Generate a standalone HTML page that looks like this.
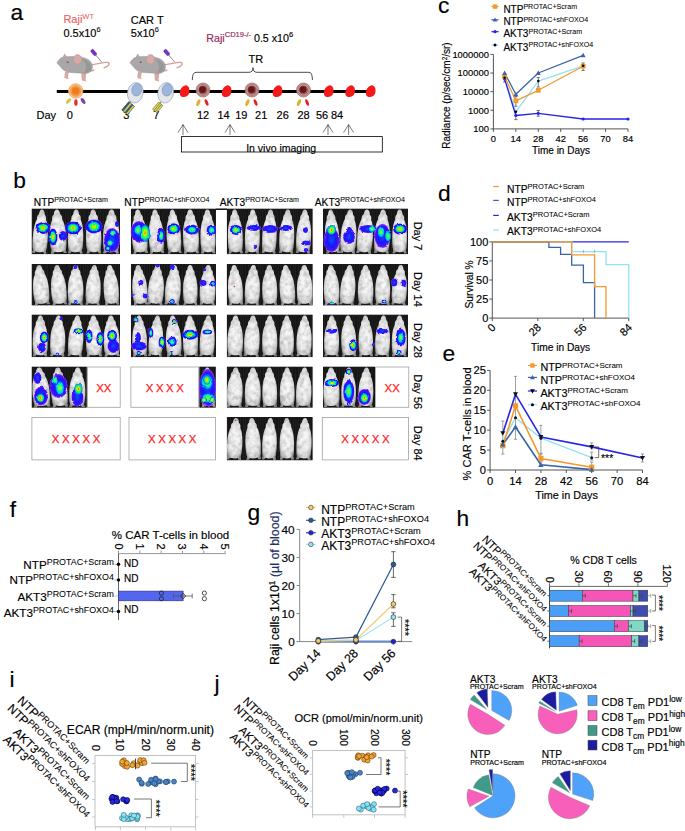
<!DOCTYPE html>
<html><head><meta charset="utf-8"><style>
html,body{margin:0;padding:0;background:#fff;width:685px;height:831px;overflow:hidden}
svg{display:block;font-family:"Liberation Sans",sans-serif}
text{stroke:#000;stroke-width:0.16px}
</style></head><body>
<svg width="685" height="831" viewBox="0 0 685 831">
<defs>
<radialGradient id="mouseg" cx="50%" cy="50%" r="60%">
 <stop offset="0" stop-color="#fafafa"/><stop offset="0.5" stop-color="#f0f0f0"/><stop offset="0.8" stop-color="#d8d8d8"/><stop offset="1" stop-color="#909090"/>
</radialGradient>
<radialGradient id="hot" cx="50%" cy="50%" r="50%">
 <stop offset="0" stop-color="#ff1800"/><stop offset="0.14" stop-color="#ffe000"/><stop offset="0.3" stop-color="#50ff20"/>
 <stop offset="0.5" stop-color="#00f090"/><stop offset="0.64" stop-color="#0080ff"/><stop offset="0.76" stop-color="#0a10ff"/><stop offset="0.92" stop-color="#3010f0"/><stop offset="1" stop-color="#8a30ff"/>
</radialGradient>
<radialGradient id="mid" cx="50%" cy="50%" r="50%">
 <stop offset="0" stop-color="#b0ff30"/><stop offset="0.25" stop-color="#20ff70"/><stop offset="0.45" stop-color="#00c8f0"/>
 <stop offset="0.65" stop-color="#1020ff"/><stop offset="0.88" stop-color="#3010f0"/><stop offset="1" stop-color="#8a30ff"/>
</radialGradient>
<radialGradient id="hoti" cx="50%" cy="50%" r="50%">
 <stop offset="0" stop-color="#ff1800"/><stop offset="0.18" stop-color="#ffe000"/><stop offset="0.4" stop-color="#50ff20"/>
 <stop offset="0.65" stop-color="#00e8a0"/><stop offset="0.85" stop-color="#0060ff" stop-opacity="0.8"/><stop offset="1" stop-color="#1020ff" stop-opacity="0"/>
</radialGradient>
<radialGradient id="midi" cx="50%" cy="50%" r="50%">
 <stop offset="0" stop-color="#b0ff30"/><stop offset="0.35" stop-color="#20ff70"/><stop offset="0.65" stop-color="#00c8f0"/>
 <stop offset="0.85" stop-color="#1040ff" stop-opacity="0.8"/><stop offset="1" stop-color="#1020ff" stop-opacity="0"/>
</radialGradient>
<radialGradient id="low" cx="50%" cy="50%" r="50%">
 <stop offset="0" stop-color="#1050ff"/><stop offset="0.55" stop-color="#1818ff"/><stop offset="0.85" stop-color="#4010f0"/><stop offset="1" stop-color="#9040ff"/>
</radialGradient>
<filter id="fur" x="-2%" y="-2%" width="104%" height="104%" color-interpolation-filters="sRGB">
 <feTurbulence type="fractalNoise" baseFrequency="0.22" numOctaves="2" seed="7" result="t"/>
 <feColorMatrix in="t" type="matrix" values="0.22 0.22 0.22 0 0.62  0.22 0.22 0.22 0 0.62  0.22 0.22 0.22 0 0.62  0 0 0 0 1" result="g"/>
 <feBlend in="SourceGraphic" in2="g" mode="multiply" result="m"/>
 <feComposite in="m" in2="SourceGraphic" operator="in"/>
</filter>
<filter id="rough" x="-20%" y="-20%" width="140%" height="140%">
 <feTurbulence type="fractalNoise" baseFrequency="0.25" numOctaves="2" seed="4" result="n"/>
 <feDisplacementMap in="SourceGraphic" in2="n" scale="2.6" xChannelSelector="R" yChannelSelector="G"/>
</filter>
<linearGradient id="bgstreak" x1="0" x2="1" y1="0" y2="0">
 <stop offset="0" stop-color="#1a1a1a"/><stop offset="0.5" stop-color="#2c2c2c"/><stop offset="1" stop-color="#1a1a1a"/>
</linearGradient>
</defs>
<rect x="0.00" y="0.00" width="685.00" height="831.00" fill="#fff" stroke="none" stroke-width="1" />
<text transform="translate(10.50,20.10) scale(1.06,1)" font-size="21.5" stroke="#000" stroke-width="0.15">a</text>
<text x="63.40" y="23.30" font-size="11" text-anchor="start" fill="#ee5f62" style="stroke:#ee5f62"><tspan>Raji</tspan><tspan dy="-4.62" font-size="7.5" style="stroke-width:0.06px">WT</tspan></text>
<text x="63.40" y="36.80" font-size="11" text-anchor="start" fill="#000"><tspan>0.5x10</tspan><tspan dy="-4.62" font-size="7.5" style="stroke-width:0.06px">6</tspan></text>
<text x="130.80" y="24.40" font-size="11" text-anchor="start" fill="#000" >CAR T</text>
<text x="130.80" y="36.80" font-size="11" text-anchor="start" fill="#000"><tspan>5x10</tspan><tspan dy="-4.62" font-size="7.5" style="stroke-width:0.06px">6</tspan></text>
<text x="206.3" y="41.5" font-size="10.7"><tspan fill="#952858" style="stroke:#952858">Raji</tspan><tspan dy="-4.6" font-size="7.5" fill="#952858" style="stroke:#952858">CD19-/-</tspan><tspan dy="4.6"> 0.5 x10</tspan><tspan dy="-4.6" font-size="7.5">6</tspan></text>
<g transform="translate(56,52)"><path d="M35 13 C42 12 48 10 52 10.5 C54.5 11 53.5 14 48 15.8" fill="none" stroke="#d6a09a" stroke-width="1.3" stroke-linecap="round"/><path d="M33 18 L38.6 17.6 L38.2 19 L33 20Z" fill="#d6a09a"/><path d="M9 19.5 L8.3 26 L13 27.2 L12 25.6 L12.8 20Z" fill="#d9a8a2"/><path d="M25.3 20 L25.8 28.5 L30.6 29.5 L29.6 27.8 L30.2 21Z" fill="#d9a8a2"/><path d="M1.1 10.6 C3 7 5 5.5 8 5 C12 4 16 4.5 19 4.5 C25 4.5 31 6 34 9 C36.5 11.5 37 15 36 17.5 C35 20 33 21 30 21.5 L14 20.5 C9 19.5 6.5 17.5 5 15.5 C3.5 13.5 1.5 12 1.1 10.6Z" fill="#a9a7a7" stroke="#8e8c8c" stroke-width="0.4"/><path d="M26 7 C32 8 36 12 35.5 17 C34 20 31 21 28 21 C31 17 31 11 26 7Z" fill="#989696"/><path d="M6.5 5.6 L8.6 1.5 L11.2 5.0Z" fill="#c9a09c"/><ellipse cx="21.5" cy="7.4" rx="4.3" ry="4.8" fill="#d6aaa6" stroke="#b08a86" stroke-width="0.4"/><ellipse cx="11.6" cy="10.1" rx="1.1" ry="0.7" fill="#5a3a3a"/><circle cx="1.6" cy="10.8" r="0.9" fill="#d9a0a0"/><path d="M39.3 2.5 L45.7 10.1" stroke="#444" stroke-width="0.6"/><rect x="34.3" y="-1.2" width="6.8" height="3.4" rx="1.4" fill="#7a30d0" stroke="#4a1890" stroke-width="0.4" transform="rotate(50 37.7 0.5)"/></g>
<g transform="translate(129,52)"><path d="M35 13 C42 12 48 10 52 10.5 C54.5 11 53.5 14 48 15.8" fill="none" stroke="#d6a09a" stroke-width="1.3" stroke-linecap="round"/><path d="M33 18 L38.6 17.6 L38.2 19 L33 20Z" fill="#d6a09a"/><path d="M9 19.5 L8.3 26 L13 27.2 L12 25.6 L12.8 20Z" fill="#d9a8a2"/><path d="M25.3 20 L25.8 28.5 L30.6 29.5 L29.6 27.8 L30.2 21Z" fill="#d9a8a2"/><path d="M1.1 10.6 C3 7 5 5.5 8 5 C12 4 16 4.5 19 4.5 C25 4.5 31 6 34 9 C36.5 11.5 37 15 36 17.5 C35 20 33 21 30 21.5 L14 20.5 C9 19.5 6.5 17.5 5 15.5 C3.5 13.5 1.5 12 1.1 10.6Z" fill="#a9a7a7" stroke="#8e8c8c" stroke-width="0.4"/><path d="M26 7 C32 8 36 12 35.5 17 C34 20 31 21 28 21 C31 17 31 11 26 7Z" fill="#989696"/><path d="M6.5 5.6 L8.6 1.5 L11.2 5.0Z" fill="#c9a09c"/><ellipse cx="21.5" cy="7.4" rx="4.3" ry="4.8" fill="#d6aaa6" stroke="#b08a86" stroke-width="0.4"/><ellipse cx="11.6" cy="10.1" rx="1.1" ry="0.7" fill="#5a3a3a"/><circle cx="1.6" cy="10.8" r="0.9" fill="#d9a0a0"/><path d="M39.3 2.5 L45.7 10.1" stroke="#444" stroke-width="0.6"/><rect x="34.3" y="-1.2" width="6.8" height="3.4" rx="1.4" fill="#7a30d0" stroke="#4a1890" stroke-width="0.4" transform="rotate(50 37.7 0.5)"/></g>
<line x1="56.80" y1="91.50" x2="369.00" y2="91.50" stroke="#000" stroke-width="2.8" />
<circle cx="75.70" cy="91.00" r="7.20" fill="#f8c690" stroke="#f0a060" stroke-width="0.8" />
<circle cx="75.70" cy="91.00" r="5.40" fill="#f5a050" stroke="#e89040" stroke-width="0.5" />
<circle cx="75.70" cy="91.00" r="3.80" fill="#f07c1c" stroke="none" stroke-width="1" />
<ellipse cx="68.5" cy="101.0" rx="1.7" ry="3.3" fill="#e0c040" transform="rotate(40 68.5 101.0)"/>
<ellipse cx="75.9" cy="102.6" rx="1.7" ry="3.3" fill="#e03030" transform="rotate(0 75.9 102.6)"/>
<ellipse cx="83.1" cy="101.0" rx="1.7" ry="3.3" fill="#8040b0" transform="rotate(-35 83.1 101.0)"/>
<ellipse cx="135.3" cy="92.8" rx="7.8" ry="10.3" fill="#e4e6ea" stroke="#8a9ab8" stroke-width="0.6" transform="rotate(12 135.3 92.8)"/>
<ellipse cx="136.10000000000002" cy="89.6" rx="5.0" ry="6.3" fill="#9db6dc" stroke="#7a90b8" stroke-width="0.5" transform="rotate(12 135.3 92.8)"/>
<line x1="130.80" y1="101.50" x2="128.80" y2="104.50" stroke="#444" stroke-width="0.6" />
<ellipse cx="165.7" cy="92.8" rx="7.8" ry="10.3" fill="#e4e6ea" stroke="#8a9ab8" stroke-width="0.6" transform="rotate(12 165.7 92.8)"/>
<ellipse cx="166.5" cy="89.6" rx="5.0" ry="6.3" fill="#9db6dc" stroke="#7a90b8" stroke-width="0.5" transform="rotate(12 165.7 92.8)"/>
<line x1="161.20" y1="101.50" x2="159.20" y2="104.50" stroke="#444" stroke-width="0.6" />
<path d="M186.1 85.2 C189.6 86 189.8 90 189.2 93 C188.2 97 182.6 98.5 180.3 95.5 C179.1 93 180.1 88 183.6 86 C184.6 85.4 185.4 85.2 186.1 85.2Z" fill="#f41a1a"/>
<path d="M228.1 85.2 C231.6 86 231.8 90 231.2 93 C230.2 97 224.6 98.5 222.3 95.5 C221.1 93 222.1 88 225.6 86 C226.6 85.4 227.4 85.2 228.1 85.2Z" fill="#f41a1a"/>
<path d="M279.0 85.2 C282.5 86 282.7 90 282.1 93 C281.1 97 275.5 98.5 273.2 95.5 C272.0 93 273.0 88 276.5 86 C277.5 85.4 278.3 85.2 279.0 85.2Z" fill="#f41a1a"/>
<path d="M330.2 85.2 C333.7 86 333.9 90 333.3 93 C332.3 97 326.7 98.5 324.4 95.5 C323.2 93 324.2 88 327.7 86 C328.7 85.4 329.5 85.2 330.2 85.2Z" fill="#f41a1a"/>
<path d="M351.6 85.2 C355.1 86 355.3 90 354.7 93 C353.7 97 348.1 98.5 345.8 95.5 C344.6 93 345.6 88 349.1 86 C350.1 85.4 350.9 85.2 351.6 85.2Z" fill="#f41a1a"/>
<path d="M372.2 85.2 C375.7 86 375.9 90 375.3 93 C374.3 97 368.7 98.5 366.4 95.5 C365.2 93 366.2 88 369.7 86 C370.7 85.4 371.5 85.2 372.2 85.2Z" fill="#f41a1a"/>
<circle cx="203.00" cy="90.00" r="7.00" fill="#c8a4a4" stroke="#8a5050" stroke-width="0.6" />
<circle cx="203.00" cy="90.00" r="5.60" fill="none" stroke="#9a6060" stroke-width="0.6" />
<circle cx="203.00" cy="90.00" r="4.60" fill="#a05858" stroke="none" stroke-width="1" />
<circle cx="202.50" cy="89.60" r="3.40" fill="#641818" stroke="none" stroke-width="1" />
<ellipse cx="198.4" cy="102.7" rx="1.7" ry="3.6" fill="#e0b030" transform="rotate(22 198.4 102.7)"/>
<ellipse cx="206.6" cy="102.5" rx="1.5" ry="3.5" fill="#e82020" transform="rotate(-22 206.6 102.5)"/>
<circle cx="252.00" cy="90.00" r="7.00" fill="#c8a4a4" stroke="#8a5050" stroke-width="0.6" />
<circle cx="252.00" cy="90.00" r="5.60" fill="none" stroke="#9a6060" stroke-width="0.6" />
<circle cx="252.00" cy="90.00" r="4.60" fill="#a05858" stroke="none" stroke-width="1" />
<circle cx="251.50" cy="89.60" r="3.40" fill="#641818" stroke="none" stroke-width="1" />
<ellipse cx="247.4" cy="102.7" rx="1.7" ry="3.6" fill="#e0b030" transform="rotate(22 247.4 102.7)"/>
<ellipse cx="255.6" cy="102.5" rx="1.5" ry="3.5" fill="#e82020" transform="rotate(-22 255.6 102.5)"/>
<circle cx="303.50" cy="90.00" r="7.00" fill="#c8a4a4" stroke="#8a5050" stroke-width="0.6" />
<circle cx="303.50" cy="90.00" r="5.60" fill="none" stroke="#9a6060" stroke-width="0.6" />
<circle cx="303.50" cy="90.00" r="4.60" fill="#a05858" stroke="none" stroke-width="1" />
<circle cx="303.00" cy="89.60" r="3.40" fill="#641818" stroke="none" stroke-width="1" />
<ellipse cx="298.9" cy="102.7" rx="1.7" ry="3.6" fill="#e0b030" transform="rotate(22 298.9 102.7)"/>
<ellipse cx="307.1" cy="102.5" rx="1.5" ry="3.5" fill="#e82020" transform="rotate(-22 307.1 102.5)"/>
<text x="36.50" y="118.50" font-size="11" text-anchor="start" fill="#000" >Day</text>
<text x="69.90" y="118.50" font-size="11" text-anchor="middle" fill="#000" >0</text>
<text x="126.40" y="118.50" font-size="11" text-anchor="middle" fill="#000" >3</text>
<text x="156.40" y="118.50" font-size="11" text-anchor="middle" fill="#000" >7</text>
<text x="203.00" y="118.50" font-size="11" text-anchor="middle" fill="#000" >12</text>
<text x="223.50" y="118.50" font-size="11" text-anchor="middle" fill="#000" >14</text>
<text x="241.30" y="118.50" font-size="11" text-anchor="middle" fill="#000" >19</text>
<text x="261.20" y="118.50" font-size="11" text-anchor="middle" fill="#000" >21</text>
<text x="282.70" y="118.50" font-size="11" text-anchor="middle" fill="#000" >26</text>
<text x="303.50" y="118.50" font-size="11" text-anchor="middle" fill="#000" >28</text>
<text x="322.00" y="118.50" font-size="11" text-anchor="middle" fill="#000" >56</text>
<text x="337.00" y="118.50" font-size="11" text-anchor="middle" fill="#000" >84</text>
<g transform="rotate(-50 128 108)"><rect x="122.5" y="104.5" width="11" height="7.5" fill="#d8c840"/><rect x="122.5" y="104.5" width="11" height="1.9" fill="#2f5a90"/><rect x="122.5" y="108.2" width="11" height="1.9" fill="#2f5a90"/><rect x="122.5" y="104.5" width="11" height="7.5" fill="none" stroke="#333" stroke-width="0.5"/></g>
<g transform="rotate(-50 157.5 107.5)"><rect x="153" y="104.8" width="9.5" height="5.6" fill="#e0d448"/><line x1="153" y1="106.7" x2="162.5" y2="106.7" stroke="#7a7a40" stroke-width="0.7"/><line x1="153" y1="108.5" x2="162.5" y2="108.5" stroke="#7a7a40" stroke-width="0.7"/><rect x="153" y="104.8" width="9.5" height="5.6" fill="none" stroke="#555" stroke-width="0.5"/></g>
<path d="M192.3 80 Q192.3 72.3 196 72.3 L249 72.3 Q253 72.3 253 67.7 Q253 72.3 257 72.3 L309 72.3 Q312.4 72.3 312.4 80" fill="none" stroke="#000" stroke-width="0.7" />
<text x="255.80" y="63.40" font-size="11" text-anchor="middle" fill="#000" >TR</text>
<path d="M178 132.6 L183 124.6 L188 132.6 M183 124.6 L183 135.0" fill="none" stroke="#222" stroke-width="0.6" />
<path d="M225 132.6 L230 124.6 L235 132.6 M230 124.6 L230 135.0" fill="none" stroke="#222" stroke-width="0.6" />
<path d="M323 132.6 L328 124.6 L333 132.6 M328 124.6 L328 135.0" fill="none" stroke="#222" stroke-width="0.6" />
<path d="M343.6 132.6 L348.6 124.6 L353.6 132.6 M348.6 124.6 L348.6 135.0" fill="none" stroke="#222" stroke-width="0.6" />
<rect x="181.50" y="136.60" width="200.80" height="15.40" fill="#fff" stroke="#000" stroke-width="0.8" />
<text x="281.20" y="151.60" font-size="10.5" text-anchor="middle" fill="#000" >In vivo imaging</text>
<text transform="translate(13.20,187.50) scale(1.06,1)" font-size="21.5" stroke="#000" stroke-width="0.15">b</text>
<text x="33.80" y="206.00" font-size="10.2" text-anchor="start" fill="#000"><tspan>NTP</tspan><tspan dy="-3.60" font-size="7.1" style="stroke-width:0.06px">PROTAC+Scram</tspan></text>
<text x="124.30" y="206.00" font-size="10.2" text-anchor="start" fill="#000"><tspan>NTP</tspan><tspan dy="-3.60" font-size="7.1" style="stroke-width:0.06px">PROTAC+shFOXO4</tspan></text>
<text x="219.70" y="206.00" font-size="10.2" text-anchor="start" fill="#000"><tspan>AKT3</tspan><tspan dy="-3.60" font-size="7.1" style="stroke-width:0.06px">PROTAC+Scram</tspan></text>
<text x="314.80" y="206.00" font-size="10.2" text-anchor="start" fill="#000"><tspan>AKT3</tspan><tspan dy="-3.60" font-size="7.1" style="stroke-width:0.06px">PROTAC+shFOXO4</tspan></text>
<clipPath id="cp1"><rect x="31.50" y="208.50" width="88.60" height="45.80"/></clipPath>
<g clip-path="url(#cp1)">
<rect x="31.50" y="208.50" width="88.60" height="45.80" fill="#151515" stroke="none" stroke-width="1" />
<line x1="32.74" y1="208.50" x2="32.74" y2="254.30" stroke="#262626" stroke-width="0.7" />
<line x1="35.54" y1="208.50" x2="35.54" y2="254.30" stroke="#262626" stroke-width="0.7" />
<line x1="37.87" y1="208.50" x2="37.87" y2="254.30" stroke="#262626" stroke-width="0.7" />
<line x1="40.60" y1="208.50" x2="40.60" y2="254.30" stroke="#262626" stroke-width="0.7" />
<line x1="43.13" y1="208.50" x2="43.13" y2="254.30" stroke="#262626" stroke-width="0.7" />
<line x1="45.07" y1="208.50" x2="45.07" y2="254.30" stroke="#262626" stroke-width="0.7" />
<line x1="47.51" y1="208.50" x2="47.51" y2="254.30" stroke="#262626" stroke-width="0.7" />
<line x1="50.84" y1="208.50" x2="50.84" y2="254.30" stroke="#262626" stroke-width="0.7" />
<line x1="52.76" y1="208.50" x2="52.76" y2="254.30" stroke="#262626" stroke-width="0.7" />
<line x1="55.23" y1="208.50" x2="55.23" y2="254.30" stroke="#262626" stroke-width="0.7" />
<line x1="58.50" y1="208.50" x2="58.50" y2="254.30" stroke="#262626" stroke-width="0.7" />
<line x1="60.47" y1="208.50" x2="60.47" y2="254.30" stroke="#262626" stroke-width="0.7" />
<line x1="63.34" y1="208.50" x2="63.34" y2="254.30" stroke="#262626" stroke-width="0.7" />
<line x1="65.48" y1="208.50" x2="65.48" y2="254.30" stroke="#262626" stroke-width="0.7" />
<line x1="68.14" y1="208.50" x2="68.14" y2="254.30" stroke="#262626" stroke-width="0.7" />
<line x1="70.15" y1="208.50" x2="70.15" y2="254.30" stroke="#262626" stroke-width="0.7" />
<line x1="73.13" y1="208.50" x2="73.13" y2="254.30" stroke="#262626" stroke-width="0.7" />
<line x1="75.87" y1="208.50" x2="75.87" y2="254.30" stroke="#262626" stroke-width="0.7" />
<line x1="78.02" y1="208.50" x2="78.02" y2="254.30" stroke="#262626" stroke-width="0.7" />
<line x1="80.74" y1="208.50" x2="80.74" y2="254.30" stroke="#262626" stroke-width="0.7" />
<line x1="83.17" y1="208.50" x2="83.17" y2="254.30" stroke="#262626" stroke-width="0.7" />
<line x1="85.06" y1="208.50" x2="85.06" y2="254.30" stroke="#262626" stroke-width="0.7" />
<line x1="88.26" y1="208.50" x2="88.26" y2="254.30" stroke="#262626" stroke-width="0.7" />
<line x1="90.59" y1="208.50" x2="90.59" y2="254.30" stroke="#262626" stroke-width="0.7" />
<line x1="92.80" y1="208.50" x2="92.80" y2="254.30" stroke="#262626" stroke-width="0.7" />
<line x1="95.03" y1="208.50" x2="95.03" y2="254.30" stroke="#262626" stroke-width="0.7" />
<line x1="98.37" y1="208.50" x2="98.37" y2="254.30" stroke="#262626" stroke-width="0.7" />
<line x1="100.47" y1="208.50" x2="100.47" y2="254.30" stroke="#262626" stroke-width="0.7" />
<line x1="103.22" y1="208.50" x2="103.22" y2="254.30" stroke="#262626" stroke-width="0.7" />
<line x1="105.88" y1="208.50" x2="105.88" y2="254.30" stroke="#262626" stroke-width="0.7" />
<line x1="108.21" y1="208.50" x2="108.21" y2="254.30" stroke="#262626" stroke-width="0.7" />
<line x1="110.92" y1="208.50" x2="110.92" y2="254.30" stroke="#262626" stroke-width="0.7" />
<line x1="112.89" y1="208.50" x2="112.89" y2="254.30" stroke="#262626" stroke-width="0.7" />
<line x1="115.80" y1="208.50" x2="115.80" y2="254.30" stroke="#262626" stroke-width="0.7" />
<line x1="117.94" y1="208.50" x2="117.94" y2="254.30" stroke="#262626" stroke-width="0.7" />
<g filter="url(#fur)">
<path d="M0.5 0.01 C0.6 0.01 0.66 0.05 0.68 0.12 C0.76 0.14 0.8 0.18 0.78 0.23 C0.88 0.3 0.95 0.42 0.96 0.58 C0.97 0.74 0.95 0.85 0.9 0.92 L0.94 0.99 L0.8 0.99 L0.74 0.95 C0.62 0.97 0.38 0.97 0.26 0.95 L0.2 0.99 L0.06 0.99 L0.1 0.92 C0.05 0.85 0.03 0.74 0.04 0.58 C0.05 0.42 0.12 0.3 0.22 0.23 C0.2 0.18 0.24 0.14 0.32 0.12 C0.34 0.05 0.4 0.01 0.5 0.01Z" fill="url(#mouseg)" transform="rotate(3.8 40.71 231.43) translate(32.65,209.10) scale(16.12,44.66)"/>
<path d="M0.5 0.01 C0.6 0.01 0.66 0.05 0.68 0.12 C0.76 0.14 0.8 0.18 0.78 0.23 C0.88 0.3 0.95 0.42 0.96 0.58 C0.97 0.74 0.95 0.85 0.9 0.92 L0.94 0.99 L0.8 0.99 L0.74 0.95 C0.62 0.97 0.38 0.97 0.26 0.95 L0.2 0.99 L0.06 0.99 L0.1 0.92 C0.05 0.85 0.03 0.74 0.04 0.58 C0.05 0.42 0.12 0.3 0.22 0.23 C0.2 0.18 0.24 0.14 0.32 0.12 C0.34 0.05 0.4 0.01 0.5 0.01Z" fill="url(#mouseg)" transform="rotate(-2.8 57.79 231.43) translate(48.96,209.10) scale(17.66,44.66)"/>
<path d="M0.5 0.01 C0.6 0.01 0.66 0.05 0.68 0.12 C0.76 0.14 0.8 0.18 0.78 0.23 C0.88 0.3 0.95 0.42 0.96 0.58 C0.97 0.74 0.95 0.85 0.9 0.92 L0.94 0.99 L0.8 0.99 L0.74 0.95 C0.62 0.97 0.38 0.97 0.26 0.95 L0.2 0.99 L0.06 0.99 L0.1 0.92 C0.05 0.85 0.03 0.74 0.04 0.58 C0.05 0.42 0.12 0.3 0.22 0.23 C0.2 0.18 0.24 0.14 0.32 0.12 C0.34 0.05 0.4 0.01 0.5 0.01Z" fill="url(#mouseg)" transform="rotate(1.3 75.75 231.43) translate(67.51,209.10) scale(16.48,44.66)"/>
<path d="M0.5 0.01 C0.6 0.01 0.66 0.05 0.68 0.12 C0.76 0.14 0.8 0.18 0.78 0.23 C0.88 0.3 0.95 0.42 0.96 0.58 C0.97 0.74 0.95 0.85 0.9 0.92 L0.94 0.99 L0.8 0.99 L0.74 0.95 C0.62 0.97 0.38 0.97 0.26 0.95 L0.2 0.99 L0.06 0.99 L0.1 0.92 C0.05 0.85 0.03 0.74 0.04 0.58 C0.05 0.42 0.12 0.3 0.22 0.23 C0.2 0.18 0.24 0.14 0.32 0.12 C0.34 0.05 0.4 0.01 0.5 0.01Z" fill="url(#mouseg)" transform="rotate(-1.1 93.53 231.43) translate(85.24,209.10) scale(16.57,44.66)"/>
<path d="M0.5 0.01 C0.6 0.01 0.66 0.05 0.68 0.12 C0.76 0.14 0.8 0.18 0.78 0.23 C0.88 0.3 0.95 0.42 0.96 0.58 C0.97 0.74 0.95 0.85 0.9 0.92 L0.94 0.99 L0.8 0.99 L0.74 0.95 C0.62 0.97 0.38 0.97 0.26 0.95 L0.2 0.99 L0.06 0.99 L0.1 0.92 C0.05 0.85 0.03 0.74 0.04 0.58 C0.05 0.42 0.12 0.3 0.22 0.23 C0.2 0.18 0.24 0.14 0.32 0.12 C0.34 0.05 0.4 0.01 0.5 0.01Z" fill="url(#mouseg)" transform="rotate(0.8 111.31 231.43) translate(102.53,209.10) scale(17.55,44.66)"/>
</g>
<g filter="url(#rough)">
<ellipse cx="43.00" cy="228.00" rx="7.50" ry="6.00" fill="url(#hot)"/>
<ellipse cx="53.00" cy="237.00" rx="4.50" ry="8.50" fill="url(#hot)"/>
<ellipse cx="63.00" cy="236.00" rx="4.20" ry="5.00" fill="url(#low)"/>
<ellipse cx="73.00" cy="228.00" rx="8.00" ry="6.50" fill="url(#hot)"/>
<ellipse cx="94.00" cy="226.50" rx="8.50" ry="7.00" fill="url(#hot)"/>
<ellipse cx="112.00" cy="240.00" rx="8.00" ry="12.00" fill="url(#low)"/>
<ellipse cx="113.00" cy="233.00" rx="3.50" ry="3.50" fill="url(#midi)"/>
<ellipse cx="110.00" cy="243.00" rx="3.50" ry="3.50" fill="url(#midi)"/>
<ellipse cx="107.90" cy="248.40" rx="3.00" ry="3.00" fill="url(#mid)"/>
<ellipse cx="117.00" cy="224.00" rx="2.00" ry="3.00" fill="url(#low)"/>
</g>
</g>
<clipPath id="cp2"><rect x="130.80" y="208.50" width="85.20" height="45.80"/></clipPath>
<g clip-path="url(#cp2)">
<rect x="130.80" y="208.50" width="85.20" height="45.80" fill="#151515" stroke="none" stroke-width="1" />
<line x1="132.48" y1="208.50" x2="132.48" y2="254.30" stroke="#262626" stroke-width="0.7" />
<line x1="135.23" y1="208.50" x2="135.23" y2="254.30" stroke="#262626" stroke-width="0.7" />
<line x1="137.66" y1="208.50" x2="137.66" y2="254.30" stroke="#262626" stroke-width="0.7" />
<line x1="140.29" y1="208.50" x2="140.29" y2="254.30" stroke="#262626" stroke-width="0.7" />
<line x1="142.47" y1="208.50" x2="142.47" y2="254.30" stroke="#262626" stroke-width="0.7" />
<line x1="144.46" y1="208.50" x2="144.46" y2="254.30" stroke="#262626" stroke-width="0.7" />
<line x1="147.66" y1="208.50" x2="147.66" y2="254.30" stroke="#262626" stroke-width="0.7" />
<line x1="150.26" y1="208.50" x2="150.26" y2="254.30" stroke="#262626" stroke-width="0.7" />
<line x1="152.70" y1="208.50" x2="152.70" y2="254.30" stroke="#262626" stroke-width="0.7" />
<line x1="154.87" y1="208.50" x2="154.87" y2="254.30" stroke="#262626" stroke-width="0.7" />
<line x1="157.51" y1="208.50" x2="157.51" y2="254.30" stroke="#262626" stroke-width="0.7" />
<line x1="159.51" y1="208.50" x2="159.51" y2="254.30" stroke="#262626" stroke-width="0.7" />
<line x1="162.63" y1="208.50" x2="162.63" y2="254.30" stroke="#262626" stroke-width="0.7" />
<line x1="164.87" y1="208.50" x2="164.87" y2="254.30" stroke="#262626" stroke-width="0.7" />
<line x1="167.08" y1="208.50" x2="167.08" y2="254.30" stroke="#262626" stroke-width="0.7" />
<line x1="169.36" y1="208.50" x2="169.36" y2="254.30" stroke="#262626" stroke-width="0.7" />
<line x1="172.65" y1="208.50" x2="172.65" y2="254.30" stroke="#262626" stroke-width="0.7" />
<line x1="175.29" y1="208.50" x2="175.29" y2="254.30" stroke="#262626" stroke-width="0.7" />
<line x1="176.89" y1="208.50" x2="176.89" y2="254.30" stroke="#262626" stroke-width="0.7" />
<line x1="180.10" y1="208.50" x2="180.10" y2="254.30" stroke="#262626" stroke-width="0.7" />
<line x1="182.21" y1="208.50" x2="182.21" y2="254.30" stroke="#262626" stroke-width="0.7" />
<line x1="184.45" y1="208.50" x2="184.45" y2="254.30" stroke="#262626" stroke-width="0.7" />
<line x1="187.09" y1="208.50" x2="187.09" y2="254.30" stroke="#262626" stroke-width="0.7" />
<line x1="190.07" y1="208.50" x2="190.07" y2="254.30" stroke="#262626" stroke-width="0.7" />
<line x1="192.67" y1="208.50" x2="192.67" y2="254.30" stroke="#262626" stroke-width="0.7" />
<line x1="194.34" y1="208.50" x2="194.34" y2="254.30" stroke="#262626" stroke-width="0.7" />
<line x1="197.41" y1="208.50" x2="197.41" y2="254.30" stroke="#262626" stroke-width="0.7" />
<line x1="199.34" y1="208.50" x2="199.34" y2="254.30" stroke="#262626" stroke-width="0.7" />
<line x1="202.52" y1="208.50" x2="202.52" y2="254.30" stroke="#262626" stroke-width="0.7" />
<line x1="204.63" y1="208.50" x2="204.63" y2="254.30" stroke="#262626" stroke-width="0.7" />
<line x1="207.68" y1="208.50" x2="207.68" y2="254.30" stroke="#262626" stroke-width="0.7" />
<line x1="210.28" y1="208.50" x2="210.28" y2="254.30" stroke="#262626" stroke-width="0.7" />
<line x1="212.31" y1="208.50" x2="212.31" y2="254.30" stroke="#262626" stroke-width="0.7" />
<line x1="215.30" y1="208.50" x2="215.30" y2="254.30" stroke="#262626" stroke-width="0.7" />
<g filter="url(#fur)">
<path d="M0.5 0.01 C0.6 0.01 0.66 0.05 0.68 0.12 C0.76 0.14 0.8 0.18 0.78 0.23 C0.88 0.3 0.95 0.42 0.96 0.58 C0.97 0.74 0.95 0.85 0.9 0.92 L0.94 0.99 L0.8 0.99 L0.74 0.95 C0.62 0.97 0.38 0.97 0.26 0.95 L0.2 0.99 L0.06 0.99 L0.1 0.92 C0.05 0.85 0.03 0.74 0.04 0.58 C0.05 0.42 0.12 0.3 0.22 0.23 C0.2 0.18 0.24 0.14 0.32 0.12 C0.34 0.05 0.4 0.01 0.5 0.01Z" fill="url(#mouseg)" transform="rotate(-4.2 139.17 231.43) translate(130.99,209.10) scale(16.36,44.66)"/>
<path d="M0.5 0.01 C0.6 0.01 0.66 0.05 0.68 0.12 C0.76 0.14 0.8 0.18 0.78 0.23 C0.88 0.3 0.95 0.42 0.96 0.58 C0.97 0.74 0.95 0.85 0.9 0.92 L0.94 0.99 L0.8 0.99 L0.74 0.95 C0.62 0.97 0.38 0.97 0.26 0.95 L0.2 0.99 L0.06 0.99 L0.1 0.92 C0.05 0.85 0.03 0.74 0.04 0.58 C0.05 0.42 0.12 0.3 0.22 0.23 C0.2 0.18 0.24 0.14 0.32 0.12 C0.34 0.05 0.4 0.01 0.5 0.01Z" fill="url(#mouseg)" transform="rotate(-3.0 155.99 231.43) translate(147.97,209.10) scale(16.03,44.66)"/>
<path d="M0.5 0.01 C0.6 0.01 0.66 0.05 0.68 0.12 C0.76 0.14 0.8 0.18 0.78 0.23 C0.88 0.3 0.95 0.42 0.96 0.58 C0.97 0.74 0.95 0.85 0.9 0.92 L0.94 0.99 L0.8 0.99 L0.74 0.95 C0.62 0.97 0.38 0.97 0.26 0.95 L0.2 0.99 L0.06 0.99 L0.1 0.92 C0.05 0.85 0.03 0.74 0.04 0.58 C0.05 0.42 0.12 0.3 0.22 0.23 C0.2 0.18 0.24 0.14 0.32 0.12 C0.34 0.05 0.4 0.01 0.5 0.01Z" fill="url(#mouseg)" transform="rotate(-3.4 173.49 231.43) translate(165.78,209.10) scale(15.41,44.66)"/>
<path d="M0.5 0.01 C0.6 0.01 0.66 0.05 0.68 0.12 C0.76 0.14 0.8 0.18 0.78 0.23 C0.88 0.3 0.95 0.42 0.96 0.58 C0.97 0.74 0.95 0.85 0.9 0.92 L0.94 0.99 L0.8 0.99 L0.74 0.95 C0.62 0.97 0.38 0.97 0.26 0.95 L0.2 0.99 L0.06 0.99 L0.1 0.92 C0.05 0.85 0.03 0.74 0.04 0.58 C0.05 0.42 0.12 0.3 0.22 0.23 C0.2 0.18 0.24 0.14 0.32 0.12 C0.34 0.05 0.4 0.01 0.5 0.01Z" fill="url(#mouseg)" transform="rotate(-1.9 190.73 231.43) translate(182.25,209.10) scale(16.97,44.66)"/>
<path d="M0.5 0.01 C0.6 0.01 0.66 0.05 0.68 0.12 C0.76 0.14 0.8 0.18 0.78 0.23 C0.88 0.3 0.95 0.42 0.96 0.58 C0.97 0.74 0.95 0.85 0.9 0.92 L0.94 0.99 L0.8 0.99 L0.74 0.95 C0.62 0.97 0.38 0.97 0.26 0.95 L0.2 0.99 L0.06 0.99 L0.1 0.92 C0.05 0.85 0.03 0.74 0.04 0.58 C0.05 0.42 0.12 0.3 0.22 0.23 C0.2 0.18 0.24 0.14 0.32 0.12 C0.34 0.05 0.4 0.01 0.5 0.01Z" fill="url(#mouseg)" transform="rotate(-1.2 207.80 231.43) translate(199.74,209.10) scale(16.12,44.66)"/>
</g>
<g filter="url(#rough)">
<ellipse cx="139.00" cy="232.00" rx="8.50" ry="11.00" fill="url(#low)"/>
<ellipse cx="145.00" cy="233.00" rx="5.50" ry="9.50" fill="url(#hoti)"/>
<ellipse cx="138.00" cy="230.00" rx="4.50" ry="5.50" fill="url(#midi)"/>
<ellipse cx="161.10" cy="235.80" rx="4.00" ry="8.00" fill="url(#mid)"/>
<ellipse cx="173.70" cy="228.80" rx="6.50" ry="5.50" fill="url(#hot)"/>
<ellipse cx="192.00" cy="229.70" rx="7.00" ry="5.00" fill="url(#mid)"/>
<ellipse cx="211.60" cy="230.20" rx="5.00" ry="5.50" fill="url(#mid)"/>
</g>
</g>
<clipPath id="cp3"><rect x="226.70" y="208.50" width="86.10" height="45.80"/></clipPath>
<g clip-path="url(#cp3)">
<rect x="226.70" y="208.50" width="86.10" height="45.80" fill="#151515" stroke="none" stroke-width="1" />
<line x1="228.22" y1="208.50" x2="228.22" y2="254.30" stroke="#262626" stroke-width="0.7" />
<line x1="230.84" y1="208.50" x2="230.84" y2="254.30" stroke="#262626" stroke-width="0.7" />
<line x1="233.30" y1="208.50" x2="233.30" y2="254.30" stroke="#262626" stroke-width="0.7" />
<line x1="235.76" y1="208.50" x2="235.76" y2="254.30" stroke="#262626" stroke-width="0.7" />
<line x1="238.32" y1="208.50" x2="238.32" y2="254.30" stroke="#262626" stroke-width="0.7" />
<line x1="241.14" y1="208.50" x2="241.14" y2="254.30" stroke="#262626" stroke-width="0.7" />
<line x1="243.21" y1="208.50" x2="243.21" y2="254.30" stroke="#262626" stroke-width="0.7" />
<line x1="245.63" y1="208.50" x2="245.63" y2="254.30" stroke="#262626" stroke-width="0.7" />
<line x1="248.42" y1="208.50" x2="248.42" y2="254.30" stroke="#262626" stroke-width="0.7" />
<line x1="250.44" y1="208.50" x2="250.44" y2="254.30" stroke="#262626" stroke-width="0.7" />
<line x1="253.00" y1="208.50" x2="253.00" y2="254.30" stroke="#262626" stroke-width="0.7" />
<line x1="256.18" y1="208.50" x2="256.18" y2="254.30" stroke="#262626" stroke-width="0.7" />
<line x1="258.22" y1="208.50" x2="258.22" y2="254.30" stroke="#262626" stroke-width="0.7" />
<line x1="260.75" y1="208.50" x2="260.75" y2="254.30" stroke="#262626" stroke-width="0.7" />
<line x1="262.71" y1="208.50" x2="262.71" y2="254.30" stroke="#262626" stroke-width="0.7" />
<line x1="265.62" y1="208.50" x2="265.62" y2="254.30" stroke="#262626" stroke-width="0.7" />
<line x1="268.28" y1="208.50" x2="268.28" y2="254.30" stroke="#262626" stroke-width="0.7" />
<line x1="270.22" y1="208.50" x2="270.22" y2="254.30" stroke="#262626" stroke-width="0.7" />
<line x1="273.32" y1="208.50" x2="273.32" y2="254.30" stroke="#262626" stroke-width="0.7" />
<line x1="275.83" y1="208.50" x2="275.83" y2="254.30" stroke="#262626" stroke-width="0.7" />
<line x1="277.76" y1="208.50" x2="277.76" y2="254.30" stroke="#262626" stroke-width="0.7" />
<line x1="280.83" y1="208.50" x2="280.83" y2="254.30" stroke="#262626" stroke-width="0.7" />
<line x1="283.17" y1="208.50" x2="283.17" y2="254.30" stroke="#262626" stroke-width="0.7" />
<line x1="285.88" y1="208.50" x2="285.88" y2="254.30" stroke="#262626" stroke-width="0.7" />
<line x1="288.05" y1="208.50" x2="288.05" y2="254.30" stroke="#262626" stroke-width="0.7" />
<line x1="290.91" y1="208.50" x2="290.91" y2="254.30" stroke="#262626" stroke-width="0.7" />
<line x1="293.44" y1="208.50" x2="293.44" y2="254.30" stroke="#262626" stroke-width="0.7" />
<line x1="295.22" y1="208.50" x2="295.22" y2="254.30" stroke="#262626" stroke-width="0.7" />
<line x1="297.76" y1="208.50" x2="297.76" y2="254.30" stroke="#262626" stroke-width="0.7" />
<line x1="300.88" y1="208.50" x2="300.88" y2="254.30" stroke="#262626" stroke-width="0.7" />
<line x1="303.66" y1="208.50" x2="303.66" y2="254.30" stroke="#262626" stroke-width="0.7" />
<line x1="305.45" y1="208.50" x2="305.45" y2="254.30" stroke="#262626" stroke-width="0.7" />
<line x1="308.16" y1="208.50" x2="308.16" y2="254.30" stroke="#262626" stroke-width="0.7" />
<line x1="310.79" y1="208.50" x2="310.79" y2="254.30" stroke="#262626" stroke-width="0.7" />
<g filter="url(#fur)">
<path d="M0.5 0.01 C0.6 0.01 0.66 0.05 0.68 0.12 C0.76 0.14 0.8 0.18 0.78 0.23 C0.88 0.3 0.95 0.42 0.96 0.58 C0.97 0.74 0.95 0.85 0.9 0.92 L0.94 0.99 L0.8 0.99 L0.74 0.95 C0.62 0.97 0.38 0.97 0.26 0.95 L0.2 0.99 L0.06 0.99 L0.1 0.92 C0.05 0.85 0.03 0.74 0.04 0.58 C0.05 0.42 0.12 0.3 0.22 0.23 C0.2 0.18 0.24 0.14 0.32 0.12 C0.34 0.05 0.4 0.01 0.5 0.01Z" fill="url(#mouseg)" transform="rotate(-1.4 235.17 231.43) translate(227.15,209.10) scale(16.04,44.66)"/>
<path d="M0.5 0.01 C0.6 0.01 0.66 0.05 0.68 0.12 C0.76 0.14 0.8 0.18 0.78 0.23 C0.88 0.3 0.95 0.42 0.96 0.58 C0.97 0.74 0.95 0.85 0.9 0.92 L0.94 0.99 L0.8 0.99 L0.74 0.95 C0.62 0.97 0.38 0.97 0.26 0.95 L0.2 0.99 L0.06 0.99 L0.1 0.92 C0.05 0.85 0.03 0.74 0.04 0.58 C0.05 0.42 0.12 0.3 0.22 0.23 C0.2 0.18 0.24 0.14 0.32 0.12 C0.34 0.05 0.4 0.01 0.5 0.01Z" fill="url(#mouseg)" transform="rotate(1.0 252.43 231.43) translate(244.42,209.10) scale(16.02,44.66)"/>
<path d="M0.5 0.01 C0.6 0.01 0.66 0.05 0.68 0.12 C0.76 0.14 0.8 0.18 0.78 0.23 C0.88 0.3 0.95 0.42 0.96 0.58 C0.97 0.74 0.95 0.85 0.9 0.92 L0.94 0.99 L0.8 0.99 L0.74 0.95 C0.62 0.97 0.38 0.97 0.26 0.95 L0.2 0.99 L0.06 0.99 L0.1 0.92 C0.05 0.85 0.03 0.74 0.04 0.58 C0.05 0.42 0.12 0.3 0.22 0.23 C0.2 0.18 0.24 0.14 0.32 0.12 C0.34 0.05 0.4 0.01 0.5 0.01Z" fill="url(#mouseg)" transform="rotate(2.7 269.65 231.43) translate(261.88,209.10) scale(15.54,44.66)"/>
<path d="M0.5 0.01 C0.6 0.01 0.66 0.05 0.68 0.12 C0.76 0.14 0.8 0.18 0.78 0.23 C0.88 0.3 0.95 0.42 0.96 0.58 C0.97 0.74 0.95 0.85 0.9 0.92 L0.94 0.99 L0.8 0.99 L0.74 0.95 C0.62 0.97 0.38 0.97 0.26 0.95 L0.2 0.99 L0.06 0.99 L0.1 0.92 C0.05 0.85 0.03 0.74 0.04 0.58 C0.05 0.42 0.12 0.3 0.22 0.23 C0.2 0.18 0.24 0.14 0.32 0.12 C0.34 0.05 0.4 0.01 0.5 0.01Z" fill="url(#mouseg)" transform="rotate(2.4 287.03 231.43) translate(279.01,209.10) scale(16.03,44.66)"/>
<path d="M0.5 0.01 C0.6 0.01 0.66 0.05 0.68 0.12 C0.76 0.14 0.8 0.18 0.78 0.23 C0.88 0.3 0.95 0.42 0.96 0.58 C0.97 0.74 0.95 0.85 0.9 0.92 L0.94 0.99 L0.8 0.99 L0.74 0.95 C0.62 0.97 0.38 0.97 0.26 0.95 L0.2 0.99 L0.06 0.99 L0.1 0.92 C0.05 0.85 0.03 0.74 0.04 0.58 C0.05 0.42 0.12 0.3 0.22 0.23 C0.2 0.18 0.24 0.14 0.32 0.12 C0.34 0.05 0.4 0.01 0.5 0.01Z" fill="url(#mouseg)" transform="rotate(3.0 303.97 231.43) translate(296.01,209.10) scale(15.91,44.66)"/>
</g>
<g filter="url(#rough)">
<ellipse cx="236.00" cy="230.00" rx="6.00" ry="5.00" fill="url(#hot)"/>
<ellipse cx="254.00" cy="228.00" rx="7.50" ry="3.00" fill="url(#low)"/>
<ellipse cx="255.00" cy="247.00" rx="2.00" ry="2.00" fill="url(#low)"/>
<ellipse cx="270.00" cy="229.00" rx="8.00" ry="4.00" fill="url(#low)"/>
<ellipse cx="286.00" cy="228.00" rx="7.00" ry="3.00" fill="url(#low)"/>
<ellipse cx="305.50" cy="230.00" rx="2.50" ry="3.00" fill="url(#low)"/>
<ellipse cx="306.00" cy="243.00" rx="5.00" ry="2.50" fill="url(#low)"/>
<ellipse cx="306.00" cy="250.00" rx="2.50" ry="2.00" fill="url(#low)"/>
</g>
</g>
<clipPath id="cp4"><rect x="323.00" y="208.50" width="85.00" height="45.80"/></clipPath>
<g clip-path="url(#cp4)">
<rect x="323.00" y="208.50" width="85.00" height="45.80" fill="#151515" stroke="none" stroke-width="1" />
<line x1="324.19" y1="208.50" x2="324.19" y2="254.30" stroke="#262626" stroke-width="0.7" />
<line x1="326.94" y1="208.50" x2="326.94" y2="254.30" stroke="#262626" stroke-width="0.7" />
<line x1="329.70" y1="208.50" x2="329.70" y2="254.30" stroke="#262626" stroke-width="0.7" />
<line x1="331.60" y1="208.50" x2="331.60" y2="254.30" stroke="#262626" stroke-width="0.7" />
<line x1="334.32" y1="208.50" x2="334.32" y2="254.30" stroke="#262626" stroke-width="0.7" />
<line x1="336.83" y1="208.50" x2="336.83" y2="254.30" stroke="#262626" stroke-width="0.7" />
<line x1="339.83" y1="208.50" x2="339.83" y2="254.30" stroke="#262626" stroke-width="0.7" />
<line x1="341.94" y1="208.50" x2="341.94" y2="254.30" stroke="#262626" stroke-width="0.7" />
<line x1="344.86" y1="208.50" x2="344.86" y2="254.30" stroke="#262626" stroke-width="0.7" />
<line x1="346.67" y1="208.50" x2="346.67" y2="254.30" stroke="#262626" stroke-width="0.7" />
<line x1="349.34" y1="208.50" x2="349.34" y2="254.30" stroke="#262626" stroke-width="0.7" />
<line x1="352.15" y1="208.50" x2="352.15" y2="254.30" stroke="#262626" stroke-width="0.7" />
<line x1="354.88" y1="208.50" x2="354.88" y2="254.30" stroke="#262626" stroke-width="0.7" />
<line x1="356.95" y1="208.50" x2="356.95" y2="254.30" stroke="#262626" stroke-width="0.7" />
<line x1="359.23" y1="208.50" x2="359.23" y2="254.30" stroke="#262626" stroke-width="0.7" />
<line x1="361.62" y1="208.50" x2="361.62" y2="254.30" stroke="#262626" stroke-width="0.7" />
<line x1="364.53" y1="208.50" x2="364.53" y2="254.30" stroke="#262626" stroke-width="0.7" />
<line x1="366.69" y1="208.50" x2="366.69" y2="254.30" stroke="#262626" stroke-width="0.7" />
<line x1="369.81" y1="208.50" x2="369.81" y2="254.30" stroke="#262626" stroke-width="0.7" />
<line x1="372.34" y1="208.50" x2="372.34" y2="254.30" stroke="#262626" stroke-width="0.7" />
<line x1="374.18" y1="208.50" x2="374.18" y2="254.30" stroke="#262626" stroke-width="0.7" />
<line x1="376.78" y1="208.50" x2="376.78" y2="254.30" stroke="#262626" stroke-width="0.7" />
<line x1="379.81" y1="208.50" x2="379.81" y2="254.30" stroke="#262626" stroke-width="0.7" />
<line x1="382.14" y1="208.50" x2="382.14" y2="254.30" stroke="#262626" stroke-width="0.7" />
<line x1="384.81" y1="208.50" x2="384.81" y2="254.30" stroke="#262626" stroke-width="0.7" />
<line x1="386.85" y1="208.50" x2="386.85" y2="254.30" stroke="#262626" stroke-width="0.7" />
<line x1="389.13" y1="208.50" x2="389.13" y2="254.30" stroke="#262626" stroke-width="0.7" />
<line x1="391.79" y1="208.50" x2="391.79" y2="254.30" stroke="#262626" stroke-width="0.7" />
<line x1="394.79" y1="208.50" x2="394.79" y2="254.30" stroke="#262626" stroke-width="0.7" />
<line x1="396.77" y1="208.50" x2="396.77" y2="254.30" stroke="#262626" stroke-width="0.7" />
<line x1="399.35" y1="208.50" x2="399.35" y2="254.30" stroke="#262626" stroke-width="0.7" />
<line x1="401.92" y1="208.50" x2="401.92" y2="254.30" stroke="#262626" stroke-width="0.7" />
<line x1="404.42" y1="208.50" x2="404.42" y2="254.30" stroke="#262626" stroke-width="0.7" />
<line x1="406.91" y1="208.50" x2="406.91" y2="254.30" stroke="#262626" stroke-width="0.7" />
<g filter="url(#fur)">
<path d="M0.5 0.01 C0.6 0.01 0.66 0.05 0.68 0.12 C0.76 0.14 0.8 0.18 0.78 0.23 C0.88 0.3 0.95 0.42 0.96 0.58 C0.97 0.74 0.95 0.85 0.9 0.92 L0.94 0.99 L0.8 0.99 L0.74 0.95 C0.62 0.97 0.38 0.97 0.26 0.95 L0.2 0.99 L0.06 0.99 L0.1 0.92 C0.05 0.85 0.03 0.74 0.04 0.58 C0.05 0.42 0.12 0.3 0.22 0.23 C0.2 0.18 0.24 0.14 0.32 0.12 C0.34 0.05 0.4 0.01 0.5 0.01Z" fill="url(#mouseg)" transform="rotate(-3.4 331.84 231.43) translate(324.18,209.10) scale(15.31,44.66)"/>
<path d="M0.5 0.01 C0.6 0.01 0.66 0.05 0.68 0.12 C0.76 0.14 0.8 0.18 0.78 0.23 C0.88 0.3 0.95 0.42 0.96 0.58 C0.97 0.74 0.95 0.85 0.9 0.92 L0.94 0.99 L0.8 0.99 L0.74 0.95 C0.62 0.97 0.38 0.97 0.26 0.95 L0.2 0.99 L0.06 0.99 L0.1 0.92 C0.05 0.85 0.03 0.74 0.04 0.58 C0.05 0.42 0.12 0.3 0.22 0.23 C0.2 0.18 0.24 0.14 0.32 0.12 C0.34 0.05 0.4 0.01 0.5 0.01Z" fill="url(#mouseg)" transform="rotate(3.8 348.85 231.43) translate(340.37,209.10) scale(16.98,44.66)"/>
<path d="M0.5 0.01 C0.6 0.01 0.66 0.05 0.68 0.12 C0.76 0.14 0.8 0.18 0.78 0.23 C0.88 0.3 0.95 0.42 0.96 0.58 C0.97 0.74 0.95 0.85 0.9 0.92 L0.94 0.99 L0.8 0.99 L0.74 0.95 C0.62 0.97 0.38 0.97 0.26 0.95 L0.2 0.99 L0.06 0.99 L0.1 0.92 C0.05 0.85 0.03 0.74 0.04 0.58 C0.05 0.42 0.12 0.3 0.22 0.23 C0.2 0.18 0.24 0.14 0.32 0.12 C0.34 0.05 0.4 0.01 0.5 0.01Z" fill="url(#mouseg)" transform="rotate(4.5 365.45 231.43) translate(357.01,209.10) scale(16.88,44.66)"/>
<path d="M0.5 0.01 C0.6 0.01 0.66 0.05 0.68 0.12 C0.76 0.14 0.8 0.18 0.78 0.23 C0.88 0.3 0.95 0.42 0.96 0.58 C0.97 0.74 0.95 0.85 0.9 0.92 L0.94 0.99 L0.8 0.99 L0.74 0.95 C0.62 0.97 0.38 0.97 0.26 0.95 L0.2 0.99 L0.06 0.99 L0.1 0.92 C0.05 0.85 0.03 0.74 0.04 0.58 C0.05 0.42 0.12 0.3 0.22 0.23 C0.2 0.18 0.24 0.14 0.32 0.12 C0.34 0.05 0.4 0.01 0.5 0.01Z" fill="url(#mouseg)" transform="rotate(2.5 382.28 231.43) translate(373.92,209.10) scale(16.72,44.66)"/>
<path d="M0.5 0.01 C0.6 0.01 0.66 0.05 0.68 0.12 C0.76 0.14 0.8 0.18 0.78 0.23 C0.88 0.3 0.95 0.42 0.96 0.58 C0.97 0.74 0.95 0.85 0.9 0.92 L0.94 0.99 L0.8 0.99 L0.74 0.95 C0.62 0.97 0.38 0.97 0.26 0.95 L0.2 0.99 L0.06 0.99 L0.1 0.92 C0.05 0.85 0.03 0.74 0.04 0.58 C0.05 0.42 0.12 0.3 0.22 0.23 C0.2 0.18 0.24 0.14 0.32 0.12 C0.34 0.05 0.4 0.01 0.5 0.01Z" fill="url(#mouseg)" transform="rotate(0.2 399.63 231.43) translate(391.73,209.10) scale(15.79,44.66)"/>
</g>
<g filter="url(#rough)">
<ellipse cx="331.50" cy="240.00" rx="8.00" ry="12.00" fill="url(#low)"/>
<ellipse cx="331.50" cy="230.00" rx="5.00" ry="5.50" fill="url(#hoti)"/>
<ellipse cx="349.00" cy="237.00" rx="6.00" ry="7.00" fill="url(#low)"/>
<ellipse cx="349.00" cy="230.00" rx="3.00" ry="3.00" fill="url(#low)"/>
<ellipse cx="368.00" cy="229.00" rx="9.00" ry="4.00" fill="url(#low)"/>
<ellipse cx="372.00" cy="229.00" rx="4.00" ry="3.50" fill="url(#midi)"/>
<ellipse cx="382.50" cy="236.00" rx="8.00" ry="12.00" fill="url(#low)"/>
<ellipse cx="381.00" cy="232.00" rx="4.00" ry="6.50" fill="url(#midi)"/>
<ellipse cx="388.00" cy="236.00" rx="3.50" ry="6.50" fill="url(#midi)"/>
<ellipse cx="400.00" cy="229.00" rx="7.00" ry="5.50" fill="url(#hot)"/>
</g>
</g>
<clipPath id="cp5"><rect x="31.50" y="264.00" width="88.60" height="41.60"/></clipPath>
<g clip-path="url(#cp5)">
<rect x="31.50" y="264.00" width="88.60" height="41.60" fill="#151515" stroke="none" stroke-width="1" />
<line x1="32.84" y1="264.00" x2="32.84" y2="305.60" stroke="#262626" stroke-width="0.7" />
<line x1="35.23" y1="264.00" x2="35.23" y2="305.60" stroke="#262626" stroke-width="0.7" />
<line x1="37.57" y1="264.00" x2="37.57" y2="305.60" stroke="#262626" stroke-width="0.7" />
<line x1="40.59" y1="264.00" x2="40.59" y2="305.60" stroke="#262626" stroke-width="0.7" />
<line x1="42.79" y1="264.00" x2="42.79" y2="305.60" stroke="#262626" stroke-width="0.7" />
<line x1="45.81" y1="264.00" x2="45.81" y2="305.60" stroke="#262626" stroke-width="0.7" />
<line x1="47.55" y1="264.00" x2="47.55" y2="305.60" stroke="#262626" stroke-width="0.7" />
<line x1="50.90" y1="264.00" x2="50.90" y2="305.60" stroke="#262626" stroke-width="0.7" />
<line x1="53.19" y1="264.00" x2="53.19" y2="305.60" stroke="#262626" stroke-width="0.7" />
<line x1="55.92" y1="264.00" x2="55.92" y2="305.60" stroke="#262626" stroke-width="0.7" />
<line x1="58.40" y1="264.00" x2="58.40" y2="305.60" stroke="#262626" stroke-width="0.7" />
<line x1="60.90" y1="264.00" x2="60.90" y2="305.60" stroke="#262626" stroke-width="0.7" />
<line x1="63.08" y1="264.00" x2="63.08" y2="305.60" stroke="#262626" stroke-width="0.7" />
<line x1="65.01" y1="264.00" x2="65.01" y2="305.60" stroke="#262626" stroke-width="0.7" />
<line x1="68.25" y1="264.00" x2="68.25" y2="305.60" stroke="#262626" stroke-width="0.7" />
<line x1="70.17" y1="264.00" x2="70.17" y2="305.60" stroke="#262626" stroke-width="0.7" />
<line x1="72.80" y1="264.00" x2="72.80" y2="305.60" stroke="#262626" stroke-width="0.7" />
<line x1="75.66" y1="264.00" x2="75.66" y2="305.60" stroke="#262626" stroke-width="0.7" />
<line x1="78.02" y1="264.00" x2="78.02" y2="305.60" stroke="#262626" stroke-width="0.7" />
<line x1="80.41" y1="264.00" x2="80.41" y2="305.60" stroke="#262626" stroke-width="0.7" />
<line x1="83.44" y1="264.00" x2="83.44" y2="305.60" stroke="#262626" stroke-width="0.7" />
<line x1="85.61" y1="264.00" x2="85.61" y2="305.60" stroke="#262626" stroke-width="0.7" />
<line x1="87.84" y1="264.00" x2="87.84" y2="305.60" stroke="#262626" stroke-width="0.7" />
<line x1="90.25" y1="264.00" x2="90.25" y2="305.60" stroke="#262626" stroke-width="0.7" />
<line x1="93.36" y1="264.00" x2="93.36" y2="305.60" stroke="#262626" stroke-width="0.7" />
<line x1="95.48" y1="264.00" x2="95.48" y2="305.60" stroke="#262626" stroke-width="0.7" />
<line x1="98.28" y1="264.00" x2="98.28" y2="305.60" stroke="#262626" stroke-width="0.7" />
<line x1="100.35" y1="264.00" x2="100.35" y2="305.60" stroke="#262626" stroke-width="0.7" />
<line x1="102.70" y1="264.00" x2="102.70" y2="305.60" stroke="#262626" stroke-width="0.7" />
<line x1="105.53" y1="264.00" x2="105.53" y2="305.60" stroke="#262626" stroke-width="0.7" />
<line x1="108.32" y1="264.00" x2="108.32" y2="305.60" stroke="#262626" stroke-width="0.7" />
<line x1="110.17" y1="264.00" x2="110.17" y2="305.60" stroke="#262626" stroke-width="0.7" />
<line x1="113.29" y1="264.00" x2="113.29" y2="305.60" stroke="#262626" stroke-width="0.7" />
<line x1="115.92" y1="264.00" x2="115.92" y2="305.60" stroke="#262626" stroke-width="0.7" />
<line x1="118.31" y1="264.00" x2="118.31" y2="305.60" stroke="#262626" stroke-width="0.7" />
<g filter="url(#fur)">
<path d="M0.5 0.01 C0.6 0.01 0.66 0.05 0.68 0.12 C0.76 0.14 0.8 0.18 0.78 0.23 C0.88 0.3 0.95 0.42 0.96 0.58 C0.97 0.74 0.95 0.85 0.9 0.92 L0.94 0.99 L0.8 0.99 L0.74 0.95 C0.62 0.97 0.38 0.97 0.26 0.95 L0.2 0.99 L0.06 0.99 L0.1 0.92 C0.05 0.85 0.03 0.74 0.04 0.58 C0.05 0.42 0.12 0.3 0.22 0.23 C0.2 0.18 0.24 0.14 0.32 0.12 C0.34 0.05 0.4 0.01 0.5 0.01Z" fill="url(#mouseg)" transform="rotate(-4.9 40.62 284.88) translate(32.09,264.60) scale(17.06,40.56)"/>
<path d="M0.5 0.01 C0.6 0.01 0.66 0.05 0.68 0.12 C0.76 0.14 0.8 0.18 0.78 0.23 C0.88 0.3 0.95 0.42 0.96 0.58 C0.97 0.74 0.95 0.85 0.9 0.92 L0.94 0.99 L0.8 0.99 L0.74 0.95 C0.62 0.97 0.38 0.97 0.26 0.95 L0.2 0.99 L0.06 0.99 L0.1 0.92 C0.05 0.85 0.03 0.74 0.04 0.58 C0.05 0.42 0.12 0.3 0.22 0.23 C0.2 0.18 0.24 0.14 0.32 0.12 C0.34 0.05 0.4 0.01 0.5 0.01Z" fill="url(#mouseg)" transform="rotate(-4.5 58.37 284.88) translate(50.16,264.60) scale(16.43,40.56)"/>
<path d="M0.5 0.01 C0.6 0.01 0.66 0.05 0.68 0.12 C0.76 0.14 0.8 0.18 0.78 0.23 C0.88 0.3 0.95 0.42 0.96 0.58 C0.97 0.74 0.95 0.85 0.9 0.92 L0.94 0.99 L0.8 0.99 L0.74 0.95 C0.62 0.97 0.38 0.97 0.26 0.95 L0.2 0.99 L0.06 0.99 L0.1 0.92 C0.05 0.85 0.03 0.74 0.04 0.58 C0.05 0.42 0.12 0.3 0.22 0.23 C0.2 0.18 0.24 0.14 0.32 0.12 C0.34 0.05 0.4 0.01 0.5 0.01Z" fill="url(#mouseg)" transform="rotate(0.3 75.61 284.88) translate(67.27,264.60) scale(16.70,40.56)"/>
<path d="M0.5 0.01 C0.6 0.01 0.66 0.05 0.68 0.12 C0.76 0.14 0.8 0.18 0.78 0.23 C0.88 0.3 0.95 0.42 0.96 0.58 C0.97 0.74 0.95 0.85 0.9 0.92 L0.94 0.99 L0.8 0.99 L0.74 0.95 C0.62 0.97 0.38 0.97 0.26 0.95 L0.2 0.99 L0.06 0.99 L0.1 0.92 C0.05 0.85 0.03 0.74 0.04 0.58 C0.05 0.42 0.12 0.3 0.22 0.23 C0.2 0.18 0.24 0.14 0.32 0.12 C0.34 0.05 0.4 0.01 0.5 0.01Z" fill="url(#mouseg)" transform="rotate(2.8 93.50 284.88) translate(85.52,264.60) scale(15.95,40.56)"/>
<path d="M0.5 0.01 C0.6 0.01 0.66 0.05 0.68 0.12 C0.76 0.14 0.8 0.18 0.78 0.23 C0.88 0.3 0.95 0.42 0.96 0.58 C0.97 0.74 0.95 0.85 0.9 0.92 L0.94 0.99 L0.8 0.99 L0.74 0.95 C0.62 0.97 0.38 0.97 0.26 0.95 L0.2 0.99 L0.06 0.99 L0.1 0.92 C0.05 0.85 0.03 0.74 0.04 0.58 C0.05 0.42 0.12 0.3 0.22 0.23 C0.2 0.18 0.24 0.14 0.32 0.12 C0.34 0.05 0.4 0.01 0.5 0.01Z" fill="url(#mouseg)" transform="rotate(-3.7 110.88 284.88) translate(102.80,264.60) scale(16.17,40.56)"/>
</g>
<g filter="url(#rough)">
<ellipse cx="75.60" cy="267.00" rx="2.00" ry="2.00" fill="url(#low)"/>
<ellipse cx="75.60" cy="302.00" rx="2.00" ry="2.00" fill="url(#mid)"/>
</g>
</g>
<clipPath id="cp6"><rect x="130.80" y="264.00" width="85.20" height="41.60"/></clipPath>
<g clip-path="url(#cp6)">
<rect x="130.80" y="264.00" width="85.20" height="41.60" fill="#151515" stroke="none" stroke-width="1" />
<line x1="131.87" y1="264.00" x2="131.87" y2="305.60" stroke="#262626" stroke-width="0.7" />
<line x1="135.27" y1="264.00" x2="135.27" y2="305.60" stroke="#262626" stroke-width="0.7" />
<line x1="137.65" y1="264.00" x2="137.65" y2="305.60" stroke="#262626" stroke-width="0.7" />
<line x1="139.39" y1="264.00" x2="139.39" y2="305.60" stroke="#262626" stroke-width="0.7" />
<line x1="142.30" y1="264.00" x2="142.30" y2="305.60" stroke="#262626" stroke-width="0.7" />
<line x1="144.62" y1="264.00" x2="144.62" y2="305.60" stroke="#262626" stroke-width="0.7" />
<line x1="147.11" y1="264.00" x2="147.11" y2="305.60" stroke="#262626" stroke-width="0.7" />
<line x1="149.65" y1="264.00" x2="149.65" y2="305.60" stroke="#262626" stroke-width="0.7" />
<line x1="152.45" y1="264.00" x2="152.45" y2="305.60" stroke="#262626" stroke-width="0.7" />
<line x1="154.89" y1="264.00" x2="154.89" y2="305.60" stroke="#262626" stroke-width="0.7" />
<line x1="157.16" y1="264.00" x2="157.16" y2="305.60" stroke="#262626" stroke-width="0.7" />
<line x1="159.49" y1="264.00" x2="159.49" y2="305.60" stroke="#262626" stroke-width="0.7" />
<line x1="162.13" y1="264.00" x2="162.13" y2="305.60" stroke="#262626" stroke-width="0.7" />
<line x1="164.42" y1="264.00" x2="164.42" y2="305.60" stroke="#262626" stroke-width="0.7" />
<line x1="167.36" y1="264.00" x2="167.36" y2="305.60" stroke="#262626" stroke-width="0.7" />
<line x1="170.02" y1="264.00" x2="170.02" y2="305.60" stroke="#262626" stroke-width="0.7" />
<line x1="172.18" y1="264.00" x2="172.18" y2="305.60" stroke="#262626" stroke-width="0.7" />
<line x1="174.38" y1="264.00" x2="174.38" y2="305.60" stroke="#262626" stroke-width="0.7" />
<line x1="176.98" y1="264.00" x2="176.98" y2="305.60" stroke="#262626" stroke-width="0.7" />
<line x1="179.67" y1="264.00" x2="179.67" y2="305.60" stroke="#262626" stroke-width="0.7" />
<line x1="182.40" y1="264.00" x2="182.40" y2="305.60" stroke="#262626" stroke-width="0.7" />
<line x1="185.08" y1="264.00" x2="185.08" y2="305.60" stroke="#262626" stroke-width="0.7" />
<line x1="187.18" y1="264.00" x2="187.18" y2="305.60" stroke="#262626" stroke-width="0.7" />
<line x1="190.10" y1="264.00" x2="190.10" y2="305.60" stroke="#262626" stroke-width="0.7" />
<line x1="192.42" y1="264.00" x2="192.42" y2="305.60" stroke="#262626" stroke-width="0.7" />
<line x1="194.73" y1="264.00" x2="194.73" y2="305.60" stroke="#262626" stroke-width="0.7" />
<line x1="197.17" y1="264.00" x2="197.17" y2="305.60" stroke="#262626" stroke-width="0.7" />
<line x1="199.80" y1="264.00" x2="199.80" y2="305.60" stroke="#262626" stroke-width="0.7" />
<line x1="202.50" y1="264.00" x2="202.50" y2="305.60" stroke="#262626" stroke-width="0.7" />
<line x1="204.72" y1="264.00" x2="204.72" y2="305.60" stroke="#262626" stroke-width="0.7" />
<line x1="207.49" y1="264.00" x2="207.49" y2="305.60" stroke="#262626" stroke-width="0.7" />
<line x1="209.76" y1="264.00" x2="209.76" y2="305.60" stroke="#262626" stroke-width="0.7" />
<line x1="212.05" y1="264.00" x2="212.05" y2="305.60" stroke="#262626" stroke-width="0.7" />
<line x1="214.84" y1="264.00" x2="214.84" y2="305.60" stroke="#262626" stroke-width="0.7" />
<g filter="url(#fur)">
<path d="M0.5 0.01 C0.6 0.01 0.66 0.05 0.68 0.12 C0.76 0.14 0.8 0.18 0.78 0.23 C0.88 0.3 0.95 0.42 0.96 0.58 C0.97 0.74 0.95 0.85 0.9 0.92 L0.94 0.99 L0.8 0.99 L0.74 0.95 C0.62 0.97 0.38 0.97 0.26 0.95 L0.2 0.99 L0.06 0.99 L0.1 0.92 C0.05 0.85 0.03 0.74 0.04 0.58 C0.05 0.42 0.12 0.3 0.22 0.23 C0.2 0.18 0.24 0.14 0.32 0.12 C0.34 0.05 0.4 0.01 0.5 0.01Z" fill="url(#mouseg)" transform="rotate(-4.3 139.48 284.88) translate(131.45,264.60) scale(16.06,40.56)"/>
<path d="M0.5 0.01 C0.6 0.01 0.66 0.05 0.68 0.12 C0.76 0.14 0.8 0.18 0.78 0.23 C0.88 0.3 0.95 0.42 0.96 0.58 C0.97 0.74 0.95 0.85 0.9 0.92 L0.94 0.99 L0.8 0.99 L0.74 0.95 C0.62 0.97 0.38 0.97 0.26 0.95 L0.2 0.99 L0.06 0.99 L0.1 0.92 C0.05 0.85 0.03 0.74 0.04 0.58 C0.05 0.42 0.12 0.3 0.22 0.23 C0.2 0.18 0.24 0.14 0.32 0.12 C0.34 0.05 0.4 0.01 0.5 0.01Z" fill="url(#mouseg)" transform="rotate(3.8 156.30 284.88) translate(147.83,264.60) scale(16.93,40.56)"/>
<path d="M0.5 0.01 C0.6 0.01 0.66 0.05 0.68 0.12 C0.76 0.14 0.8 0.18 0.78 0.23 C0.88 0.3 0.95 0.42 0.96 0.58 C0.97 0.74 0.95 0.85 0.9 0.92 L0.94 0.99 L0.8 0.99 L0.74 0.95 C0.62 0.97 0.38 0.97 0.26 0.95 L0.2 0.99 L0.06 0.99 L0.1 0.92 C0.05 0.85 0.03 0.74 0.04 0.58 C0.05 0.42 0.12 0.3 0.22 0.23 C0.2 0.18 0.24 0.14 0.32 0.12 C0.34 0.05 0.4 0.01 0.5 0.01Z" fill="url(#mouseg)" transform="rotate(4.0 173.30 284.88) translate(164.96,264.60) scale(16.68,40.56)"/>
<path d="M0.5 0.01 C0.6 0.01 0.66 0.05 0.68 0.12 C0.76 0.14 0.8 0.18 0.78 0.23 C0.88 0.3 0.95 0.42 0.96 0.58 C0.97 0.74 0.95 0.85 0.9 0.92 L0.94 0.99 L0.8 0.99 L0.74 0.95 C0.62 0.97 0.38 0.97 0.26 0.95 L0.2 0.99 L0.06 0.99 L0.1 0.92 C0.05 0.85 0.03 0.74 0.04 0.58 C0.05 0.42 0.12 0.3 0.22 0.23 C0.2 0.18 0.24 0.14 0.32 0.12 C0.34 0.05 0.4 0.01 0.5 0.01Z" fill="url(#mouseg)" transform="rotate(-0.4 190.25 284.88) translate(182.48,264.60) scale(15.55,40.56)"/>
<path d="M0.5 0.01 C0.6 0.01 0.66 0.05 0.68 0.12 C0.76 0.14 0.8 0.18 0.78 0.23 C0.88 0.3 0.95 0.42 0.96 0.58 C0.97 0.74 0.95 0.85 0.9 0.92 L0.94 0.99 L0.8 0.99 L0.74 0.95 C0.62 0.97 0.38 0.97 0.26 0.95 L0.2 0.99 L0.06 0.99 L0.1 0.92 C0.05 0.85 0.03 0.74 0.04 0.58 C0.05 0.42 0.12 0.3 0.22 0.23 C0.2 0.18 0.24 0.14 0.32 0.12 C0.34 0.05 0.4 0.01 0.5 0.01Z" fill="url(#mouseg)" transform="rotate(1.6 207.73 284.88) translate(199.31,264.60) scale(16.85,40.56)"/>
</g>
<g filter="url(#rough)">
<ellipse cx="140.70" cy="282.40" rx="2.60" ry="2.60" fill="url(#low)"/>
<ellipse cx="145.20" cy="295.90" rx="2.50" ry="2.50" fill="url(#low)"/>
<ellipse cx="132.30" cy="295.00" rx="1.50" ry="1.50" fill="url(#low)"/>
<ellipse cx="157.50" cy="265.60" rx="2.00" ry="2.00" fill="url(#low)"/>
<ellipse cx="172.30" cy="267.00" rx="2.50" ry="2.50" fill="url(#low)"/>
<ellipse cx="172.30" cy="301.50" rx="2.50" ry="2.50" fill="url(#mid)"/>
<ellipse cx="203.20" cy="283.00" rx="3.50" ry="3.00" fill="url(#low)"/>
<ellipse cx="213.00" cy="283.80" rx="3.00" ry="3.00" fill="url(#mid)"/>
<ellipse cx="204.60" cy="269.80" rx="1.50" ry="1.50" fill="url(#low)"/>
</g>
</g>
<clipPath id="cp7"><rect x="226.70" y="264.00" width="86.10" height="41.60"/></clipPath>
<g clip-path="url(#cp7)">
<rect x="226.70" y="264.00" width="86.10" height="41.60" fill="#151515" stroke="none" stroke-width="1" />
<line x1="228.49" y1="264.00" x2="228.49" y2="305.60" stroke="#262626" stroke-width="0.7" />
<line x1="230.87" y1="264.00" x2="230.87" y2="305.60" stroke="#262626" stroke-width="0.7" />
<line x1="233.43" y1="264.00" x2="233.43" y2="305.60" stroke="#262626" stroke-width="0.7" />
<line x1="235.76" y1="264.00" x2="235.76" y2="305.60" stroke="#262626" stroke-width="0.7" />
<line x1="237.80" y1="264.00" x2="237.80" y2="305.60" stroke="#262626" stroke-width="0.7" />
<line x1="240.79" y1="264.00" x2="240.79" y2="305.60" stroke="#262626" stroke-width="0.7" />
<line x1="242.70" y1="264.00" x2="242.70" y2="305.60" stroke="#262626" stroke-width="0.7" />
<line x1="245.34" y1="264.00" x2="245.34" y2="305.60" stroke="#262626" stroke-width="0.7" />
<line x1="248.47" y1="264.00" x2="248.47" y2="305.60" stroke="#262626" stroke-width="0.7" />
<line x1="250.24" y1="264.00" x2="250.24" y2="305.60" stroke="#262626" stroke-width="0.7" />
<line x1="252.79" y1="264.00" x2="252.79" y2="305.60" stroke="#262626" stroke-width="0.7" />
<line x1="255.30" y1="264.00" x2="255.30" y2="305.60" stroke="#262626" stroke-width="0.7" />
<line x1="258.58" y1="264.00" x2="258.58" y2="305.60" stroke="#262626" stroke-width="0.7" />
<line x1="260.38" y1="264.00" x2="260.38" y2="305.60" stroke="#262626" stroke-width="0.7" />
<line x1="262.72" y1="264.00" x2="262.72" y2="305.60" stroke="#262626" stroke-width="0.7" />
<line x1="266.04" y1="264.00" x2="266.04" y2="305.60" stroke="#262626" stroke-width="0.7" />
<line x1="267.82" y1="264.00" x2="267.82" y2="305.60" stroke="#262626" stroke-width="0.7" />
<line x1="271.04" y1="264.00" x2="271.04" y2="305.60" stroke="#262626" stroke-width="0.7" />
<line x1="273.37" y1="264.00" x2="273.37" y2="305.60" stroke="#262626" stroke-width="0.7" />
<line x1="276.04" y1="264.00" x2="276.04" y2="305.60" stroke="#262626" stroke-width="0.7" />
<line x1="278.65" y1="264.00" x2="278.65" y2="305.60" stroke="#262626" stroke-width="0.7" />
<line x1="280.78" y1="264.00" x2="280.78" y2="305.60" stroke="#262626" stroke-width="0.7" />
<line x1="283.50" y1="264.00" x2="283.50" y2="305.60" stroke="#262626" stroke-width="0.7" />
<line x1="285.24" y1="264.00" x2="285.24" y2="305.60" stroke="#262626" stroke-width="0.7" />
<line x1="288.47" y1="264.00" x2="288.47" y2="305.60" stroke="#262626" stroke-width="0.7" />
<line x1="290.71" y1="264.00" x2="290.71" y2="305.60" stroke="#262626" stroke-width="0.7" />
<line x1="293.42" y1="264.00" x2="293.42" y2="305.60" stroke="#262626" stroke-width="0.7" />
<line x1="295.31" y1="264.00" x2="295.31" y2="305.60" stroke="#262626" stroke-width="0.7" />
<line x1="298.45" y1="264.00" x2="298.45" y2="305.60" stroke="#262626" stroke-width="0.7" />
<line x1="301.13" y1="264.00" x2="301.13" y2="305.60" stroke="#262626" stroke-width="0.7" />
<line x1="302.76" y1="264.00" x2="302.76" y2="305.60" stroke="#262626" stroke-width="0.7" />
<line x1="305.52" y1="264.00" x2="305.52" y2="305.60" stroke="#262626" stroke-width="0.7" />
<line x1="308.26" y1="264.00" x2="308.26" y2="305.60" stroke="#262626" stroke-width="0.7" />
<line x1="311.03" y1="264.00" x2="311.03" y2="305.60" stroke="#262626" stroke-width="0.7" />
<g filter="url(#fur)">
<path d="M0.5 0.01 C0.6 0.01 0.66 0.05 0.68 0.12 C0.76 0.14 0.8 0.18 0.78 0.23 C0.88 0.3 0.95 0.42 0.96 0.58 C0.97 0.74 0.95 0.85 0.9 0.92 L0.94 0.99 L0.8 0.99 L0.74 0.95 C0.62 0.97 0.38 0.97 0.26 0.95 L0.2 0.99 L0.06 0.99 L0.1 0.92 C0.05 0.85 0.03 0.74 0.04 0.58 C0.05 0.42 0.12 0.3 0.22 0.23 C0.2 0.18 0.24 0.14 0.32 0.12 C0.34 0.05 0.4 0.01 0.5 0.01Z" fill="url(#mouseg)" transform="rotate(-3.2 235.10 284.88) translate(227.14,264.60) scale(15.93,40.56)"/>
<path d="M0.5 0.01 C0.6 0.01 0.66 0.05 0.68 0.12 C0.76 0.14 0.8 0.18 0.78 0.23 C0.88 0.3 0.95 0.42 0.96 0.58 C0.97 0.74 0.95 0.85 0.9 0.92 L0.94 0.99 L0.8 0.99 L0.74 0.95 C0.62 0.97 0.38 0.97 0.26 0.95 L0.2 0.99 L0.06 0.99 L0.1 0.92 C0.05 0.85 0.03 0.74 0.04 0.58 C0.05 0.42 0.12 0.3 0.22 0.23 C0.2 0.18 0.24 0.14 0.32 0.12 C0.34 0.05 0.4 0.01 0.5 0.01Z" fill="url(#mouseg)" transform="rotate(2.5 252.62 284.88) translate(244.53,264.60) scale(16.18,40.56)"/>
<path d="M0.5 0.01 C0.6 0.01 0.66 0.05 0.68 0.12 C0.76 0.14 0.8 0.18 0.78 0.23 C0.88 0.3 0.95 0.42 0.96 0.58 C0.97 0.74 0.95 0.85 0.9 0.92 L0.94 0.99 L0.8 0.99 L0.74 0.95 C0.62 0.97 0.38 0.97 0.26 0.95 L0.2 0.99 L0.06 0.99 L0.1 0.92 C0.05 0.85 0.03 0.74 0.04 0.58 C0.05 0.42 0.12 0.3 0.22 0.23 C0.2 0.18 0.24 0.14 0.32 0.12 C0.34 0.05 0.4 0.01 0.5 0.01Z" fill="url(#mouseg)" transform="rotate(-1.0 269.64 284.88) translate(261.59,264.60) scale(16.10,40.56)"/>
<path d="M0.5 0.01 C0.6 0.01 0.66 0.05 0.68 0.12 C0.76 0.14 0.8 0.18 0.78 0.23 C0.88 0.3 0.95 0.42 0.96 0.58 C0.97 0.74 0.95 0.85 0.9 0.92 L0.94 0.99 L0.8 0.99 L0.74 0.95 C0.62 0.97 0.38 0.97 0.26 0.95 L0.2 0.99 L0.06 0.99 L0.1 0.92 C0.05 0.85 0.03 0.74 0.04 0.58 C0.05 0.42 0.12 0.3 0.22 0.23 C0.2 0.18 0.24 0.14 0.32 0.12 C0.34 0.05 0.4 0.01 0.5 0.01Z" fill="url(#mouseg)" transform="rotate(-4.2 286.90 284.88) translate(278.72,264.60) scale(16.36,40.56)"/>
<path d="M0.5 0.01 C0.6 0.01 0.66 0.05 0.68 0.12 C0.76 0.14 0.8 0.18 0.78 0.23 C0.88 0.3 0.95 0.42 0.96 0.58 C0.97 0.74 0.95 0.85 0.9 0.92 L0.94 0.99 L0.8 0.99 L0.74 0.95 C0.62 0.97 0.38 0.97 0.26 0.95 L0.2 0.99 L0.06 0.99 L0.1 0.92 C0.05 0.85 0.03 0.74 0.04 0.58 C0.05 0.42 0.12 0.3 0.22 0.23 C0.2 0.18 0.24 0.14 0.32 0.12 C0.34 0.05 0.4 0.01 0.5 0.01Z" fill="url(#mouseg)" transform="rotate(-0.9 304.57 284.88) translate(296.18,264.60) scale(16.79,40.56)"/>
</g>
</g>
<circle cx="234.50" cy="286.50" r="0.80" fill="#e03030" stroke="none" stroke-width="1" />
<clipPath id="cp8"><rect x="323.00" y="264.00" width="85.00" height="41.60"/></clipPath>
<g clip-path="url(#cp8)">
<rect x="323.00" y="264.00" width="85.00" height="41.60" fill="#151515" stroke="none" stroke-width="1" />
<line x1="324.16" y1="264.00" x2="324.16" y2="305.60" stroke="#262626" stroke-width="0.7" />
<line x1="327.19" y1="264.00" x2="327.19" y2="305.60" stroke="#262626" stroke-width="0.7" />
<line x1="329.76" y1="264.00" x2="329.76" y2="305.60" stroke="#262626" stroke-width="0.7" />
<line x1="332.17" y1="264.00" x2="332.17" y2="305.60" stroke="#262626" stroke-width="0.7" />
<line x1="334.52" y1="264.00" x2="334.52" y2="305.60" stroke="#262626" stroke-width="0.7" />
<line x1="336.98" y1="264.00" x2="336.98" y2="305.60" stroke="#262626" stroke-width="0.7" />
<line x1="339.64" y1="264.00" x2="339.64" y2="305.60" stroke="#262626" stroke-width="0.7" />
<line x1="342.40" y1="264.00" x2="342.40" y2="305.60" stroke="#262626" stroke-width="0.7" />
<line x1="344.15" y1="264.00" x2="344.15" y2="305.60" stroke="#262626" stroke-width="0.7" />
<line x1="346.60" y1="264.00" x2="346.60" y2="305.60" stroke="#262626" stroke-width="0.7" />
<line x1="349.75" y1="264.00" x2="349.75" y2="305.60" stroke="#262626" stroke-width="0.7" />
<line x1="352.42" y1="264.00" x2="352.42" y2="305.60" stroke="#262626" stroke-width="0.7" />
<line x1="354.52" y1="264.00" x2="354.52" y2="305.60" stroke="#262626" stroke-width="0.7" />
<line x1="356.94" y1="264.00" x2="356.94" y2="305.60" stroke="#262626" stroke-width="0.7" />
<line x1="359.72" y1="264.00" x2="359.72" y2="305.60" stroke="#262626" stroke-width="0.7" />
<line x1="361.69" y1="264.00" x2="361.69" y2="305.60" stroke="#262626" stroke-width="0.7" />
<line x1="364.27" y1="264.00" x2="364.27" y2="305.60" stroke="#262626" stroke-width="0.7" />
<line x1="366.70" y1="264.00" x2="366.70" y2="305.60" stroke="#262626" stroke-width="0.7" />
<line x1="369.59" y1="264.00" x2="369.59" y2="305.60" stroke="#262626" stroke-width="0.7" />
<line x1="371.81" y1="264.00" x2="371.81" y2="305.60" stroke="#262626" stroke-width="0.7" />
<line x1="374.23" y1="264.00" x2="374.23" y2="305.60" stroke="#262626" stroke-width="0.7" />
<line x1="377.19" y1="264.00" x2="377.19" y2="305.60" stroke="#262626" stroke-width="0.7" />
<line x1="379.95" y1="264.00" x2="379.95" y2="305.60" stroke="#262626" stroke-width="0.7" />
<line x1="381.80" y1="264.00" x2="381.80" y2="305.60" stroke="#262626" stroke-width="0.7" />
<line x1="384.71" y1="264.00" x2="384.71" y2="305.60" stroke="#262626" stroke-width="0.7" />
<line x1="386.91" y1="264.00" x2="386.91" y2="305.60" stroke="#262626" stroke-width="0.7" />
<line x1="389.85" y1="264.00" x2="389.85" y2="305.60" stroke="#262626" stroke-width="0.7" />
<line x1="392.08" y1="264.00" x2="392.08" y2="305.60" stroke="#262626" stroke-width="0.7" />
<line x1="394.27" y1="264.00" x2="394.27" y2="305.60" stroke="#262626" stroke-width="0.7" />
<line x1="396.72" y1="264.00" x2="396.72" y2="305.60" stroke="#262626" stroke-width="0.7" />
<line x1="399.02" y1="264.00" x2="399.02" y2="305.60" stroke="#262626" stroke-width="0.7" />
<line x1="401.98" y1="264.00" x2="401.98" y2="305.60" stroke="#262626" stroke-width="0.7" />
<line x1="404.38" y1="264.00" x2="404.38" y2="305.60" stroke="#262626" stroke-width="0.7" />
<line x1="406.67" y1="264.00" x2="406.67" y2="305.60" stroke="#262626" stroke-width="0.7" />
<g filter="url(#fur)">
<path d="M0.5 0.01 C0.6 0.01 0.66 0.05 0.68 0.12 C0.76 0.14 0.8 0.18 0.78 0.23 C0.88 0.3 0.95 0.42 0.96 0.58 C0.97 0.74 0.95 0.85 0.9 0.92 L0.94 0.99 L0.8 0.99 L0.74 0.95 C0.62 0.97 0.38 0.97 0.26 0.95 L0.2 0.99 L0.06 0.99 L0.1 0.92 C0.05 0.85 0.03 0.74 0.04 0.58 C0.05 0.42 0.12 0.3 0.22 0.23 C0.2 0.18 0.24 0.14 0.32 0.12 C0.34 0.05 0.4 0.01 0.5 0.01Z" fill="url(#mouseg)" transform="rotate(-1.8 331.39 284.88) translate(323.08,264.60) scale(16.62,40.56)"/>
<path d="M0.5 0.01 C0.6 0.01 0.66 0.05 0.68 0.12 C0.76 0.14 0.8 0.18 0.78 0.23 C0.88 0.3 0.95 0.42 0.96 0.58 C0.97 0.74 0.95 0.85 0.9 0.92 L0.94 0.99 L0.8 0.99 L0.74 0.95 C0.62 0.97 0.38 0.97 0.26 0.95 L0.2 0.99 L0.06 0.99 L0.1 0.92 C0.05 0.85 0.03 0.74 0.04 0.58 C0.05 0.42 0.12 0.3 0.22 0.23 C0.2 0.18 0.24 0.14 0.32 0.12 C0.34 0.05 0.4 0.01 0.5 0.01Z" fill="url(#mouseg)" transform="rotate(4.9 348.21 284.88) translate(340.16,264.60) scale(16.12,40.56)"/>
<path d="M0.5 0.01 C0.6 0.01 0.66 0.05 0.68 0.12 C0.76 0.14 0.8 0.18 0.78 0.23 C0.88 0.3 0.95 0.42 0.96 0.58 C0.97 0.74 0.95 0.85 0.9 0.92 L0.94 0.99 L0.8 0.99 L0.74 0.95 C0.62 0.97 0.38 0.97 0.26 0.95 L0.2 0.99 L0.06 0.99 L0.1 0.92 C0.05 0.85 0.03 0.74 0.04 0.58 C0.05 0.42 0.12 0.3 0.22 0.23 C0.2 0.18 0.24 0.14 0.32 0.12 C0.34 0.05 0.4 0.01 0.5 0.01Z" fill="url(#mouseg)" transform="rotate(-0.3 365.58 284.88) translate(357.22,264.60) scale(16.72,40.56)"/>
<path d="M0.5 0.01 C0.6 0.01 0.66 0.05 0.68 0.12 C0.76 0.14 0.8 0.18 0.78 0.23 C0.88 0.3 0.95 0.42 0.96 0.58 C0.97 0.74 0.95 0.85 0.9 0.92 L0.94 0.99 L0.8 0.99 L0.74 0.95 C0.62 0.97 0.38 0.97 0.26 0.95 L0.2 0.99 L0.06 0.99 L0.1 0.92 C0.05 0.85 0.03 0.74 0.04 0.58 C0.05 0.42 0.12 0.3 0.22 0.23 C0.2 0.18 0.24 0.14 0.32 0.12 C0.34 0.05 0.4 0.01 0.5 0.01Z" fill="url(#mouseg)" transform="rotate(0.6 382.76 284.88) translate(374.70,264.60) scale(16.12,40.56)"/>
<path d="M0.5 0.01 C0.6 0.01 0.66 0.05 0.68 0.12 C0.76 0.14 0.8 0.18 0.78 0.23 C0.88 0.3 0.95 0.42 0.96 0.58 C0.97 0.74 0.95 0.85 0.9 0.92 L0.94 0.99 L0.8 0.99 L0.74 0.95 C0.62 0.97 0.38 0.97 0.26 0.95 L0.2 0.99 L0.06 0.99 L0.1 0.92 C0.05 0.85 0.03 0.74 0.04 0.58 C0.05 0.42 0.12 0.3 0.22 0.23 C0.2 0.18 0.24 0.14 0.32 0.12 C0.34 0.05 0.4 0.01 0.5 0.01Z" fill="url(#mouseg)" transform="rotate(3.6 399.68 284.88) translate(391.69,264.60) scale(15.98,40.56)"/>
</g>
<g filter="url(#rough)">
<ellipse cx="331.90" cy="303.40" rx="1.80" ry="1.80" fill="url(#mid)"/>
<ellipse cx="384.60" cy="301.50" rx="2.00" ry="2.00" fill="url(#mid)"/>
<ellipse cx="394.40" cy="282.40" rx="3.00" ry="4.00" fill="url(#low)"/>
<ellipse cx="403.60" cy="283.00" rx="3.00" ry="3.50" fill="url(#low)"/>
</g>
</g>
<clipPath id="cp9"><rect x="31.50" y="314.50" width="88.60" height="42.70"/></clipPath>
<g clip-path="url(#cp9)">
<rect x="31.50" y="314.50" width="88.60" height="42.70" fill="#151515" stroke="none" stroke-width="1" />
<line x1="33.23" y1="314.50" x2="33.23" y2="357.20" stroke="#262626" stroke-width="0.7" />
<line x1="35.96" y1="314.50" x2="35.96" y2="357.20" stroke="#262626" stroke-width="0.7" />
<line x1="37.97" y1="314.50" x2="37.97" y2="357.20" stroke="#262626" stroke-width="0.7" />
<line x1="40.23" y1="314.50" x2="40.23" y2="357.20" stroke="#262626" stroke-width="0.7" />
<line x1="42.73" y1="314.50" x2="42.73" y2="357.20" stroke="#262626" stroke-width="0.7" />
<line x1="45.72" y1="314.50" x2="45.72" y2="357.20" stroke="#262626" stroke-width="0.7" />
<line x1="48.18" y1="314.50" x2="48.18" y2="357.20" stroke="#262626" stroke-width="0.7" />
<line x1="50.96" y1="314.50" x2="50.96" y2="357.20" stroke="#262626" stroke-width="0.7" />
<line x1="53.35" y1="314.50" x2="53.35" y2="357.20" stroke="#262626" stroke-width="0.7" />
<line x1="55.24" y1="314.50" x2="55.24" y2="357.20" stroke="#262626" stroke-width="0.7" />
<line x1="57.69" y1="314.50" x2="57.69" y2="357.20" stroke="#262626" stroke-width="0.7" />
<line x1="60.26" y1="314.50" x2="60.26" y2="357.20" stroke="#262626" stroke-width="0.7" />
<line x1="62.69" y1="314.50" x2="62.69" y2="357.20" stroke="#262626" stroke-width="0.7" />
<line x1="65.70" y1="314.50" x2="65.70" y2="357.20" stroke="#262626" stroke-width="0.7" />
<line x1="68.36" y1="314.50" x2="68.36" y2="357.20" stroke="#262626" stroke-width="0.7" />
<line x1="70.90" y1="314.50" x2="70.90" y2="357.20" stroke="#262626" stroke-width="0.7" />
<line x1="72.76" y1="314.50" x2="72.76" y2="357.20" stroke="#262626" stroke-width="0.7" />
<line x1="75.87" y1="314.50" x2="75.87" y2="357.20" stroke="#262626" stroke-width="0.7" />
<line x1="77.81" y1="314.50" x2="77.81" y2="357.20" stroke="#262626" stroke-width="0.7" />
<line x1="80.42" y1="314.50" x2="80.42" y2="357.20" stroke="#262626" stroke-width="0.7" />
<line x1="83.23" y1="314.50" x2="83.23" y2="357.20" stroke="#262626" stroke-width="0.7" />
<line x1="85.09" y1="314.50" x2="85.09" y2="357.20" stroke="#262626" stroke-width="0.7" />
<line x1="87.59" y1="314.50" x2="87.59" y2="357.20" stroke="#262626" stroke-width="0.7" />
<line x1="90.83" y1="314.50" x2="90.83" y2="357.20" stroke="#262626" stroke-width="0.7" />
<line x1="92.79" y1="314.50" x2="92.79" y2="357.20" stroke="#262626" stroke-width="0.7" />
<line x1="95.36" y1="314.50" x2="95.36" y2="357.20" stroke="#262626" stroke-width="0.7" />
<line x1="98.08" y1="314.50" x2="98.08" y2="357.20" stroke="#262626" stroke-width="0.7" />
<line x1="100.68" y1="314.50" x2="100.68" y2="357.20" stroke="#262626" stroke-width="0.7" />
<line x1="102.51" y1="314.50" x2="102.51" y2="357.20" stroke="#262626" stroke-width="0.7" />
<line x1="105.33" y1="314.50" x2="105.33" y2="357.20" stroke="#262626" stroke-width="0.7" />
<line x1="107.94" y1="314.50" x2="107.94" y2="357.20" stroke="#262626" stroke-width="0.7" />
<line x1="110.49" y1="314.50" x2="110.49" y2="357.20" stroke="#262626" stroke-width="0.7" />
<line x1="112.71" y1="314.50" x2="112.71" y2="357.20" stroke="#262626" stroke-width="0.7" />
<line x1="115.59" y1="314.50" x2="115.59" y2="357.20" stroke="#262626" stroke-width="0.7" />
<line x1="118.46" y1="314.50" x2="118.46" y2="357.20" stroke="#262626" stroke-width="0.7" />
<g filter="url(#fur)">
<path d="M0.5 0.01 C0.6 0.01 0.66 0.05 0.68 0.12 C0.76 0.14 0.8 0.18 0.78 0.23 C0.88 0.3 0.95 0.42 0.96 0.58 C0.97 0.74 0.95 0.85 0.9 0.92 L0.94 0.99 L0.8 0.99 L0.74 0.95 C0.62 0.97 0.38 0.97 0.26 0.95 L0.2 0.99 L0.06 0.99 L0.1 0.92 C0.05 0.85 0.03 0.74 0.04 0.58 C0.05 0.42 0.12 0.3 0.22 0.23 C0.2 0.18 0.24 0.14 0.32 0.12 C0.34 0.05 0.4 0.01 0.5 0.01Z" fill="url(#mouseg)" transform="rotate(0.4 40.27 335.92) translate(32.19,315.10) scale(16.16,41.63)"/>
<path d="M0.5 0.01 C0.6 0.01 0.66 0.05 0.68 0.12 C0.76 0.14 0.8 0.18 0.78 0.23 C0.88 0.3 0.95 0.42 0.96 0.58 C0.97 0.74 0.95 0.85 0.9 0.92 L0.94 0.99 L0.8 0.99 L0.74 0.95 C0.62 0.97 0.38 0.97 0.26 0.95 L0.2 0.99 L0.06 0.99 L0.1 0.92 C0.05 0.85 0.03 0.74 0.04 0.58 C0.05 0.42 0.12 0.3 0.22 0.23 C0.2 0.18 0.24 0.14 0.32 0.12 C0.34 0.05 0.4 0.01 0.5 0.01Z" fill="url(#mouseg)" transform="rotate(1.7 57.90 335.92) translate(49.83,315.10) scale(16.15,41.63)"/>
<path d="M0.5 0.01 C0.6 0.01 0.66 0.05 0.68 0.12 C0.76 0.14 0.8 0.18 0.78 0.23 C0.88 0.3 0.95 0.42 0.96 0.58 C0.97 0.74 0.95 0.85 0.9 0.92 L0.94 0.99 L0.8 0.99 L0.74 0.95 C0.62 0.97 0.38 0.97 0.26 0.95 L0.2 0.99 L0.06 0.99 L0.1 0.92 C0.05 0.85 0.03 0.74 0.04 0.58 C0.05 0.42 0.12 0.3 0.22 0.23 C0.2 0.18 0.24 0.14 0.32 0.12 C0.34 0.05 0.4 0.01 0.5 0.01Z" fill="url(#mouseg)" transform="rotate(4.1 76.11 335.92) translate(68.05,315.10) scale(16.12,41.63)"/>
<path d="M0.5 0.01 C0.6 0.01 0.66 0.05 0.68 0.12 C0.76 0.14 0.8 0.18 0.78 0.23 C0.88 0.3 0.95 0.42 0.96 0.58 C0.97 0.74 0.95 0.85 0.9 0.92 L0.94 0.99 L0.8 0.99 L0.74 0.95 C0.62 0.97 0.38 0.97 0.26 0.95 L0.2 0.99 L0.06 0.99 L0.1 0.92 C0.05 0.85 0.03 0.74 0.04 0.58 C0.05 0.42 0.12 0.3 0.22 0.23 C0.2 0.18 0.24 0.14 0.32 0.12 C0.34 0.05 0.4 0.01 0.5 0.01Z" fill="url(#mouseg)" transform="rotate(-1.3 93.87 335.92) translate(85.21,315.10) scale(17.32,41.63)"/>
<path d="M0.5 0.01 C0.6 0.01 0.66 0.05 0.68 0.12 C0.76 0.14 0.8 0.18 0.78 0.23 C0.88 0.3 0.95 0.42 0.96 0.58 C0.97 0.74 0.95 0.85 0.9 0.92 L0.94 0.99 L0.8 0.99 L0.74 0.95 C0.62 0.97 0.38 0.97 0.26 0.95 L0.2 0.99 L0.06 0.99 L0.1 0.92 C0.05 0.85 0.03 0.74 0.04 0.58 C0.05 0.42 0.12 0.3 0.22 0.23 C0.2 0.18 0.24 0.14 0.32 0.12 C0.34 0.05 0.4 0.01 0.5 0.01Z" fill="url(#mouseg)" transform="rotate(-2.0 111.45 335.92) translate(102.87,315.10) scale(17.15,41.63)"/>
</g>
<g filter="url(#rough)">
<ellipse cx="42.00" cy="347.40" rx="4.00" ry="5.00" fill="url(#low)"/>
<ellipse cx="44.30" cy="337.60" rx="4.50" ry="6.00" fill="url(#hot)"/>
<ellipse cx="61.10" cy="318.80" rx="1.80" ry="1.80" fill="url(#low)"/>
<ellipse cx="57.40" cy="354.40" rx="1.80" ry="1.80" fill="url(#mid)"/>
<ellipse cx="78.40" cy="331.20" rx="5.00" ry="3.00" fill="url(#hot)"/>
<ellipse cx="89.10" cy="336.20" rx="3.50" ry="7.00" fill="url(#mid)"/>
<ellipse cx="100.30" cy="339.00" rx="4.00" ry="7.00" fill="url(#hot)"/>
<ellipse cx="113.50" cy="346.00" rx="6.00" ry="7.00" fill="url(#low)"/>
<ellipse cx="112.10" cy="335.70" rx="5.00" ry="6.00" fill="url(#hot)"/>
</g>
</g>
<clipPath id="cp10"><rect x="130.80" y="314.50" width="85.20" height="42.70"/></clipPath>
<g clip-path="url(#cp10)">
<rect x="130.80" y="314.50" width="85.20" height="42.70" fill="#151515" stroke="none" stroke-width="1" />
<line x1="132.45" y1="314.50" x2="132.45" y2="357.20" stroke="#262626" stroke-width="0.7" />
<line x1="135.11" y1="314.50" x2="135.11" y2="357.20" stroke="#262626" stroke-width="0.7" />
<line x1="137.07" y1="314.50" x2="137.07" y2="357.20" stroke="#262626" stroke-width="0.7" />
<line x1="140.05" y1="314.50" x2="140.05" y2="357.20" stroke="#262626" stroke-width="0.7" />
<line x1="142.76" y1="314.50" x2="142.76" y2="357.20" stroke="#262626" stroke-width="0.7" />
<line x1="144.97" y1="314.50" x2="144.97" y2="357.20" stroke="#262626" stroke-width="0.7" />
<line x1="147.34" y1="314.50" x2="147.34" y2="357.20" stroke="#262626" stroke-width="0.7" />
<line x1="149.41" y1="314.50" x2="149.41" y2="357.20" stroke="#262626" stroke-width="0.7" />
<line x1="152.29" y1="314.50" x2="152.29" y2="357.20" stroke="#262626" stroke-width="0.7" />
<line x1="154.65" y1="314.50" x2="154.65" y2="357.20" stroke="#262626" stroke-width="0.7" />
<line x1="157.52" y1="314.50" x2="157.52" y2="357.20" stroke="#262626" stroke-width="0.7" />
<line x1="159.98" y1="314.50" x2="159.98" y2="357.20" stroke="#262626" stroke-width="0.7" />
<line x1="162.37" y1="314.50" x2="162.37" y2="357.20" stroke="#262626" stroke-width="0.7" />
<line x1="164.48" y1="314.50" x2="164.48" y2="357.20" stroke="#262626" stroke-width="0.7" />
<line x1="167.45" y1="314.50" x2="167.45" y2="357.20" stroke="#262626" stroke-width="0.7" />
<line x1="169.93" y1="314.50" x2="169.93" y2="357.20" stroke="#262626" stroke-width="0.7" />
<line x1="171.98" y1="314.50" x2="171.98" y2="357.20" stroke="#262626" stroke-width="0.7" />
<line x1="175.19" y1="314.50" x2="175.19" y2="357.20" stroke="#262626" stroke-width="0.7" />
<line x1="177.46" y1="314.50" x2="177.46" y2="357.20" stroke="#262626" stroke-width="0.7" />
<line x1="179.42" y1="314.50" x2="179.42" y2="357.20" stroke="#262626" stroke-width="0.7" />
<line x1="182.73" y1="314.50" x2="182.73" y2="357.20" stroke="#262626" stroke-width="0.7" />
<line x1="184.44" y1="314.50" x2="184.44" y2="357.20" stroke="#262626" stroke-width="0.7" />
<line x1="187.13" y1="314.50" x2="187.13" y2="357.20" stroke="#262626" stroke-width="0.7" />
<line x1="190.02" y1="314.50" x2="190.02" y2="357.20" stroke="#262626" stroke-width="0.7" />
<line x1="192.40" y1="314.50" x2="192.40" y2="357.20" stroke="#262626" stroke-width="0.7" />
<line x1="194.85" y1="314.50" x2="194.85" y2="357.20" stroke="#262626" stroke-width="0.7" />
<line x1="197.45" y1="314.50" x2="197.45" y2="357.20" stroke="#262626" stroke-width="0.7" />
<line x1="199.76" y1="314.50" x2="199.76" y2="357.20" stroke="#262626" stroke-width="0.7" />
<line x1="202.11" y1="314.50" x2="202.11" y2="357.20" stroke="#262626" stroke-width="0.7" />
<line x1="204.48" y1="314.50" x2="204.48" y2="357.20" stroke="#262626" stroke-width="0.7" />
<line x1="206.87" y1="314.50" x2="206.87" y2="357.20" stroke="#262626" stroke-width="0.7" />
<line x1="210.02" y1="314.50" x2="210.02" y2="357.20" stroke="#262626" stroke-width="0.7" />
<line x1="212.55" y1="314.50" x2="212.55" y2="357.20" stroke="#262626" stroke-width="0.7" />
<line x1="214.84" y1="314.50" x2="214.84" y2="357.20" stroke="#262626" stroke-width="0.7" />
<g filter="url(#fur)">
<path d="M0.5 0.01 C0.6 0.01 0.66 0.05 0.68 0.12 C0.76 0.14 0.8 0.18 0.78 0.23 C0.88 0.3 0.95 0.42 0.96 0.58 C0.97 0.74 0.95 0.85 0.9 0.92 L0.94 0.99 L0.8 0.99 L0.74 0.95 C0.62 0.97 0.38 0.97 0.26 0.95 L0.2 0.99 L0.06 0.99 L0.1 0.92 C0.05 0.85 0.03 0.74 0.04 0.58 C0.05 0.42 0.12 0.3 0.22 0.23 C0.2 0.18 0.24 0.14 0.32 0.12 C0.34 0.05 0.4 0.01 0.5 0.01Z" fill="url(#mouseg)" transform="rotate(-1.4 139.51 335.92) translate(131.62,315.10) scale(15.79,41.63)"/>
<path d="M0.5 0.01 C0.6 0.01 0.66 0.05 0.68 0.12 C0.76 0.14 0.8 0.18 0.78 0.23 C0.88 0.3 0.95 0.42 0.96 0.58 C0.97 0.74 0.95 0.85 0.9 0.92 L0.94 0.99 L0.8 0.99 L0.74 0.95 C0.62 0.97 0.38 0.97 0.26 0.95 L0.2 0.99 L0.06 0.99 L0.1 0.92 C0.05 0.85 0.03 0.74 0.04 0.58 C0.05 0.42 0.12 0.3 0.22 0.23 C0.2 0.18 0.24 0.14 0.32 0.12 C0.34 0.05 0.4 0.01 0.5 0.01Z" fill="url(#mouseg)" transform="rotate(3.7 156.27 335.92) translate(148.56,315.10) scale(15.41,41.63)"/>
<path d="M0.5 0.01 C0.6 0.01 0.66 0.05 0.68 0.12 C0.76 0.14 0.8 0.18 0.78 0.23 C0.88 0.3 0.95 0.42 0.96 0.58 C0.97 0.74 0.95 0.85 0.9 0.92 L0.94 0.99 L0.8 0.99 L0.74 0.95 C0.62 0.97 0.38 0.97 0.26 0.95 L0.2 0.99 L0.06 0.99 L0.1 0.92 C0.05 0.85 0.03 0.74 0.04 0.58 C0.05 0.42 0.12 0.3 0.22 0.23 C0.2 0.18 0.24 0.14 0.32 0.12 C0.34 0.05 0.4 0.01 0.5 0.01Z" fill="url(#mouseg)" transform="rotate(-2.5 173.40 335.92) translate(165.08,315.10) scale(16.65,41.63)"/>
<path d="M0.5 0.01 C0.6 0.01 0.66 0.05 0.68 0.12 C0.76 0.14 0.8 0.18 0.78 0.23 C0.88 0.3 0.95 0.42 0.96 0.58 C0.97 0.74 0.95 0.85 0.9 0.92 L0.94 0.99 L0.8 0.99 L0.74 0.95 C0.62 0.97 0.38 0.97 0.26 0.95 L0.2 0.99 L0.06 0.99 L0.1 0.92 C0.05 0.85 0.03 0.74 0.04 0.58 C0.05 0.42 0.12 0.3 0.22 0.23 C0.2 0.18 0.24 0.14 0.32 0.12 C0.34 0.05 0.4 0.01 0.5 0.01Z" fill="url(#mouseg)" transform="rotate(-1.7 190.32 335.92) translate(182.31,315.10) scale(16.02,41.63)"/>
<path d="M0.5 0.01 C0.6 0.01 0.66 0.05 0.68 0.12 C0.76 0.14 0.8 0.18 0.78 0.23 C0.88 0.3 0.95 0.42 0.96 0.58 C0.97 0.74 0.95 0.85 0.9 0.92 L0.94 0.99 L0.8 0.99 L0.74 0.95 C0.62 0.97 0.38 0.97 0.26 0.95 L0.2 0.99 L0.06 0.99 L0.1 0.92 C0.05 0.85 0.03 0.74 0.04 0.58 C0.05 0.42 0.12 0.3 0.22 0.23 C0.2 0.18 0.24 0.14 0.32 0.12 C0.34 0.05 0.4 0.01 0.5 0.01Z" fill="url(#mouseg)" transform="rotate(2.7 207.51 335.92) translate(199.54,315.10) scale(15.94,41.63)"/>
</g>
<g filter="url(#rough)">
<ellipse cx="135.90" cy="320.00" rx="2.50" ry="2.50" fill="url(#hot)"/>
<ellipse cx="139.00" cy="346.00" rx="8.00" ry="4.50" fill="url(#low)"/>
<ellipse cx="138.00" cy="338.00" rx="3.00" ry="6.00" fill="url(#low)"/>
<ellipse cx="138.70" cy="353.00" rx="2.20" ry="2.20" fill="url(#mid)"/>
<ellipse cx="150.80" cy="332.90" rx="2.50" ry="5.00" fill="url(#mid)"/>
<ellipse cx="162.00" cy="342.40" rx="3.50" ry="6.00" fill="url(#hot)"/>
<ellipse cx="174.30" cy="321.60" rx="2.50" ry="2.50" fill="url(#hot)"/>
<ellipse cx="172.30" cy="341.80" rx="4.50" ry="5.00" fill="url(#mid)"/>
<ellipse cx="171.50" cy="353.00" rx="2.00" ry="2.00" fill="url(#mid)"/>
<ellipse cx="190.00" cy="334.80" rx="8.00" ry="5.00" fill="url(#hot)"/>
<ellipse cx="207.40" cy="332.00" rx="5.00" ry="2.50" fill="url(#mid)"/>
</g>
</g>
<clipPath id="cp11"><rect x="226.70" y="314.50" width="86.10" height="42.70"/></clipPath>
<g clip-path="url(#cp11)">
<rect x="226.70" y="314.50" width="86.10" height="42.70" fill="#151515" stroke="none" stroke-width="1" />
<line x1="228.55" y1="314.50" x2="228.55" y2="357.20" stroke="#262626" stroke-width="0.7" />
<line x1="230.31" y1="314.50" x2="230.31" y2="357.20" stroke="#262626" stroke-width="0.7" />
<line x1="232.97" y1="314.50" x2="232.97" y2="357.20" stroke="#262626" stroke-width="0.7" />
<line x1="235.30" y1="314.50" x2="235.30" y2="357.20" stroke="#262626" stroke-width="0.7" />
<line x1="237.81" y1="314.50" x2="237.81" y2="357.20" stroke="#262626" stroke-width="0.7" />
<line x1="240.98" y1="314.50" x2="240.98" y2="357.20" stroke="#262626" stroke-width="0.7" />
<line x1="243.43" y1="314.50" x2="243.43" y2="357.20" stroke="#262626" stroke-width="0.7" />
<line x1="245.38" y1="314.50" x2="245.38" y2="357.20" stroke="#262626" stroke-width="0.7" />
<line x1="247.89" y1="314.50" x2="247.89" y2="357.20" stroke="#262626" stroke-width="0.7" />
<line x1="250.62" y1="314.50" x2="250.62" y2="357.20" stroke="#262626" stroke-width="0.7" />
<line x1="253.44" y1="314.50" x2="253.44" y2="357.20" stroke="#262626" stroke-width="0.7" />
<line x1="256.02" y1="314.50" x2="256.02" y2="357.20" stroke="#262626" stroke-width="0.7" />
<line x1="258.45" y1="314.50" x2="258.45" y2="357.20" stroke="#262626" stroke-width="0.7" />
<line x1="260.79" y1="314.50" x2="260.79" y2="357.20" stroke="#262626" stroke-width="0.7" />
<line x1="262.85" y1="314.50" x2="262.85" y2="357.20" stroke="#262626" stroke-width="0.7" />
<line x1="265.60" y1="314.50" x2="265.60" y2="357.20" stroke="#262626" stroke-width="0.7" />
<line x1="267.89" y1="314.50" x2="267.89" y2="357.20" stroke="#262626" stroke-width="0.7" />
<line x1="270.73" y1="314.50" x2="270.73" y2="357.20" stroke="#262626" stroke-width="0.7" />
<line x1="273.27" y1="314.50" x2="273.27" y2="357.20" stroke="#262626" stroke-width="0.7" />
<line x1="275.40" y1="314.50" x2="275.40" y2="357.20" stroke="#262626" stroke-width="0.7" />
<line x1="277.95" y1="314.50" x2="277.95" y2="357.20" stroke="#262626" stroke-width="0.7" />
<line x1="280.98" y1="314.50" x2="280.98" y2="357.20" stroke="#262626" stroke-width="0.7" />
<line x1="282.73" y1="314.50" x2="282.73" y2="357.20" stroke="#262626" stroke-width="0.7" />
<line x1="286.00" y1="314.50" x2="286.00" y2="357.20" stroke="#262626" stroke-width="0.7" />
<line x1="288.59" y1="314.50" x2="288.59" y2="357.20" stroke="#262626" stroke-width="0.7" />
<line x1="291.15" y1="314.50" x2="291.15" y2="357.20" stroke="#262626" stroke-width="0.7" />
<line x1="293.08" y1="314.50" x2="293.08" y2="357.20" stroke="#262626" stroke-width="0.7" />
<line x1="295.75" y1="314.50" x2="295.75" y2="357.20" stroke="#262626" stroke-width="0.7" />
<line x1="298.28" y1="314.50" x2="298.28" y2="357.20" stroke="#262626" stroke-width="0.7" />
<line x1="300.83" y1="314.50" x2="300.83" y2="357.20" stroke="#262626" stroke-width="0.7" />
<line x1="303.68" y1="314.50" x2="303.68" y2="357.20" stroke="#262626" stroke-width="0.7" />
<line x1="305.89" y1="314.50" x2="305.89" y2="357.20" stroke="#262626" stroke-width="0.7" />
<line x1="308.00" y1="314.50" x2="308.00" y2="357.20" stroke="#262626" stroke-width="0.7" />
<line x1="311.06" y1="314.50" x2="311.06" y2="357.20" stroke="#262626" stroke-width="0.7" />
<g filter="url(#fur)">
<path d="M0.5 0.01 C0.6 0.01 0.66 0.05 0.68 0.12 C0.76 0.14 0.8 0.18 0.78 0.23 C0.88 0.3 0.95 0.42 0.96 0.58 C0.97 0.74 0.95 0.85 0.9 0.92 L0.94 0.99 L0.8 0.99 L0.74 0.95 C0.62 0.97 0.38 0.97 0.26 0.95 L0.2 0.99 L0.06 0.99 L0.1 0.92 C0.05 0.85 0.03 0.74 0.04 0.58 C0.05 0.42 0.12 0.3 0.22 0.23 C0.2 0.18 0.24 0.14 0.32 0.12 C0.34 0.05 0.4 0.01 0.5 0.01Z" fill="url(#mouseg)" transform="rotate(1.0 235.30 335.92) translate(226.92,315.10) scale(16.75,41.63)"/>
<path d="M0.5 0.01 C0.6 0.01 0.66 0.05 0.68 0.12 C0.76 0.14 0.8 0.18 0.78 0.23 C0.88 0.3 0.95 0.42 0.96 0.58 C0.97 0.74 0.95 0.85 0.9 0.92 L0.94 0.99 L0.8 0.99 L0.74 0.95 C0.62 0.97 0.38 0.97 0.26 0.95 L0.2 0.99 L0.06 0.99 L0.1 0.92 C0.05 0.85 0.03 0.74 0.04 0.58 C0.05 0.42 0.12 0.3 0.22 0.23 C0.2 0.18 0.24 0.14 0.32 0.12 C0.34 0.05 0.4 0.01 0.5 0.01Z" fill="url(#mouseg)" transform="rotate(2.7 252.13 335.92) translate(243.81,315.10) scale(16.64,41.63)"/>
<path d="M0.5 0.01 C0.6 0.01 0.66 0.05 0.68 0.12 C0.76 0.14 0.8 0.18 0.78 0.23 C0.88 0.3 0.95 0.42 0.96 0.58 C0.97 0.74 0.95 0.85 0.9 0.92 L0.94 0.99 L0.8 0.99 L0.74 0.95 C0.62 0.97 0.38 0.97 0.26 0.95 L0.2 0.99 L0.06 0.99 L0.1 0.92 C0.05 0.85 0.03 0.74 0.04 0.58 C0.05 0.42 0.12 0.3 0.22 0.23 C0.2 0.18 0.24 0.14 0.32 0.12 C0.34 0.05 0.4 0.01 0.5 0.01Z" fill="url(#mouseg)" transform="rotate(0.2 269.74 335.92) translate(261.60,315.10) scale(16.29,41.63)"/>
<path d="M0.5 0.01 C0.6 0.01 0.66 0.05 0.68 0.12 C0.76 0.14 0.8 0.18 0.78 0.23 C0.88 0.3 0.95 0.42 0.96 0.58 C0.97 0.74 0.95 0.85 0.9 0.92 L0.94 0.99 L0.8 0.99 L0.74 0.95 C0.62 0.97 0.38 0.97 0.26 0.95 L0.2 0.99 L0.06 0.99 L0.1 0.92 C0.05 0.85 0.03 0.74 0.04 0.58 C0.05 0.42 0.12 0.3 0.22 0.23 C0.2 0.18 0.24 0.14 0.32 0.12 C0.34 0.05 0.4 0.01 0.5 0.01Z" fill="url(#mouseg)" transform="rotate(0.3 286.72 335.92) translate(278.94,315.10) scale(15.56,41.63)"/>
<path d="M0.5 0.01 C0.6 0.01 0.66 0.05 0.68 0.12 C0.76 0.14 0.8 0.18 0.78 0.23 C0.88 0.3 0.95 0.42 0.96 0.58 C0.97 0.74 0.95 0.85 0.9 0.92 L0.94 0.99 L0.8 0.99 L0.74 0.95 C0.62 0.97 0.38 0.97 0.26 0.95 L0.2 0.99 L0.06 0.99 L0.1 0.92 C0.05 0.85 0.03 0.74 0.04 0.58 C0.05 0.42 0.12 0.3 0.22 0.23 C0.2 0.18 0.24 0.14 0.32 0.12 C0.34 0.05 0.4 0.01 0.5 0.01Z" fill="url(#mouseg)" transform="rotate(1.5 304.19 335.92) translate(296.06,315.10) scale(16.26,41.63)"/>
</g>
</g>
<clipPath id="cp12"><rect x="323.00" y="314.50" width="85.00" height="42.70"/></clipPath>
<g clip-path="url(#cp12)">
<rect x="323.00" y="314.50" width="85.00" height="42.70" fill="#151515" stroke="none" stroke-width="1" />
<line x1="324.57" y1="314.50" x2="324.57" y2="357.20" stroke="#262626" stroke-width="0.7" />
<line x1="327.46" y1="314.50" x2="327.46" y2="357.20" stroke="#262626" stroke-width="0.7" />
<line x1="329.89" y1="314.50" x2="329.89" y2="357.20" stroke="#262626" stroke-width="0.7" />
<line x1="331.64" y1="314.50" x2="331.64" y2="357.20" stroke="#262626" stroke-width="0.7" />
<line x1="334.79" y1="314.50" x2="334.79" y2="357.20" stroke="#262626" stroke-width="0.7" />
<line x1="337.12" y1="314.50" x2="337.12" y2="357.20" stroke="#262626" stroke-width="0.7" />
<line x1="339.05" y1="314.50" x2="339.05" y2="357.20" stroke="#262626" stroke-width="0.7" />
<line x1="341.86" y1="314.50" x2="341.86" y2="357.20" stroke="#262626" stroke-width="0.7" />
<line x1="344.23" y1="314.50" x2="344.23" y2="357.20" stroke="#262626" stroke-width="0.7" />
<line x1="346.58" y1="314.50" x2="346.58" y2="357.20" stroke="#262626" stroke-width="0.7" />
<line x1="349.54" y1="314.50" x2="349.54" y2="357.20" stroke="#262626" stroke-width="0.7" />
<line x1="352.43" y1="314.50" x2="352.43" y2="357.20" stroke="#262626" stroke-width="0.7" />
<line x1="354.32" y1="314.50" x2="354.32" y2="357.20" stroke="#262626" stroke-width="0.7" />
<line x1="357.37" y1="314.50" x2="357.37" y2="357.20" stroke="#262626" stroke-width="0.7" />
<line x1="359.69" y1="314.50" x2="359.69" y2="357.20" stroke="#262626" stroke-width="0.7" />
<line x1="361.63" y1="314.50" x2="361.63" y2="357.20" stroke="#262626" stroke-width="0.7" />
<line x1="364.86" y1="314.50" x2="364.86" y2="357.20" stroke="#262626" stroke-width="0.7" />
<line x1="367.10" y1="314.50" x2="367.10" y2="357.20" stroke="#262626" stroke-width="0.7" />
<line x1="369.93" y1="314.50" x2="369.93" y2="357.20" stroke="#262626" stroke-width="0.7" />
<line x1="372.22" y1="314.50" x2="372.22" y2="357.20" stroke="#262626" stroke-width="0.7" />
<line x1="374.74" y1="314.50" x2="374.74" y2="357.20" stroke="#262626" stroke-width="0.7" />
<line x1="376.84" y1="314.50" x2="376.84" y2="357.20" stroke="#262626" stroke-width="0.7" />
<line x1="379.81" y1="314.50" x2="379.81" y2="357.20" stroke="#262626" stroke-width="0.7" />
<line x1="382.43" y1="314.50" x2="382.43" y2="357.20" stroke="#262626" stroke-width="0.7" />
<line x1="384.86" y1="314.50" x2="384.86" y2="357.20" stroke="#262626" stroke-width="0.7" />
<line x1="386.94" y1="314.50" x2="386.94" y2="357.20" stroke="#262626" stroke-width="0.7" />
<line x1="389.76" y1="314.50" x2="389.76" y2="357.20" stroke="#262626" stroke-width="0.7" />
<line x1="391.99" y1="314.50" x2="391.99" y2="357.20" stroke="#262626" stroke-width="0.7" />
<line x1="394.11" y1="314.50" x2="394.11" y2="357.20" stroke="#262626" stroke-width="0.7" />
<line x1="396.54" y1="314.50" x2="396.54" y2="357.20" stroke="#262626" stroke-width="0.7" />
<line x1="399.08" y1="314.50" x2="399.08" y2="357.20" stroke="#262626" stroke-width="0.7" />
<line x1="401.70" y1="314.50" x2="401.70" y2="357.20" stroke="#262626" stroke-width="0.7" />
<line x1="404.16" y1="314.50" x2="404.16" y2="357.20" stroke="#262626" stroke-width="0.7" />
<line x1="407.00" y1="314.50" x2="407.00" y2="357.20" stroke="#262626" stroke-width="0.7" />
<g filter="url(#fur)">
<path d="M0.5 0.01 C0.6 0.01 0.66 0.05 0.68 0.12 C0.76 0.14 0.8 0.18 0.78 0.23 C0.88 0.3 0.95 0.42 0.96 0.58 C0.97 0.74 0.95 0.85 0.9 0.92 L0.94 0.99 L0.8 0.99 L0.74 0.95 C0.62 0.97 0.38 0.97 0.26 0.95 L0.2 0.99 L0.06 0.99 L0.1 0.92 C0.05 0.85 0.03 0.74 0.04 0.58 C0.05 0.42 0.12 0.3 0.22 0.23 C0.2 0.18 0.24 0.14 0.32 0.12 C0.34 0.05 0.4 0.01 0.5 0.01Z" fill="url(#mouseg)" transform="rotate(0.4 331.66 335.92) translate(323.65,315.10) scale(16.02,41.63)"/>
<path d="M0.5 0.01 C0.6 0.01 0.66 0.05 0.68 0.12 C0.76 0.14 0.8 0.18 0.78 0.23 C0.88 0.3 0.95 0.42 0.96 0.58 C0.97 0.74 0.95 0.85 0.9 0.92 L0.94 0.99 L0.8 0.99 L0.74 0.95 C0.62 0.97 0.38 0.97 0.26 0.95 L0.2 0.99 L0.06 0.99 L0.1 0.92 C0.05 0.85 0.03 0.74 0.04 0.58 C0.05 0.42 0.12 0.3 0.22 0.23 C0.2 0.18 0.24 0.14 0.32 0.12 C0.34 0.05 0.4 0.01 0.5 0.01Z" fill="url(#mouseg)" transform="rotate(-2.0 348.62 335.92) translate(340.57,315.10) scale(16.09,41.63)"/>
<path d="M0.5 0.01 C0.6 0.01 0.66 0.05 0.68 0.12 C0.76 0.14 0.8 0.18 0.78 0.23 C0.88 0.3 0.95 0.42 0.96 0.58 C0.97 0.74 0.95 0.85 0.9 0.92 L0.94 0.99 L0.8 0.99 L0.74 0.95 C0.62 0.97 0.38 0.97 0.26 0.95 L0.2 0.99 L0.06 0.99 L0.1 0.92 C0.05 0.85 0.03 0.74 0.04 0.58 C0.05 0.42 0.12 0.3 0.22 0.23 C0.2 0.18 0.24 0.14 0.32 0.12 C0.34 0.05 0.4 0.01 0.5 0.01Z" fill="url(#mouseg)" transform="rotate(-1.0 365.71 335.92) translate(357.90,315.10) scale(15.61,41.63)"/>
<path d="M0.5 0.01 C0.6 0.01 0.66 0.05 0.68 0.12 C0.76 0.14 0.8 0.18 0.78 0.23 C0.88 0.3 0.95 0.42 0.96 0.58 C0.97 0.74 0.95 0.85 0.9 0.92 L0.94 0.99 L0.8 0.99 L0.74 0.95 C0.62 0.97 0.38 0.97 0.26 0.95 L0.2 0.99 L0.06 0.99 L0.1 0.92 C0.05 0.85 0.03 0.74 0.04 0.58 C0.05 0.42 0.12 0.3 0.22 0.23 C0.2 0.18 0.24 0.14 0.32 0.12 C0.34 0.05 0.4 0.01 0.5 0.01Z" fill="url(#mouseg)" transform="rotate(2.2 382.82 335.92) translate(374.86,315.10) scale(15.92,41.63)"/>
<path d="M0.5 0.01 C0.6 0.01 0.66 0.05 0.68 0.12 C0.76 0.14 0.8 0.18 0.78 0.23 C0.88 0.3 0.95 0.42 0.96 0.58 C0.97 0.74 0.95 0.85 0.9 0.92 L0.94 0.99 L0.8 0.99 L0.74 0.95 C0.62 0.97 0.38 0.97 0.26 0.95 L0.2 0.99 L0.06 0.99 L0.1 0.92 C0.05 0.85 0.03 0.74 0.04 0.58 C0.05 0.42 0.12 0.3 0.22 0.23 C0.2 0.18 0.24 0.14 0.32 0.12 C0.34 0.05 0.4 0.01 0.5 0.01Z" fill="url(#mouseg)" transform="rotate(0.3 399.40 335.92) translate(391.24,315.10) scale(16.31,41.63)"/>
</g>
<g filter="url(#rough)">
<ellipse cx="331.30" cy="331.20" rx="5.50" ry="2.50" fill="url(#low)"/>
<ellipse cx="353.20" cy="345.20" rx="4.00" ry="6.00" fill="url(#hot)"/>
<ellipse cx="373.30" cy="344.60" rx="1.50" ry="1.50" fill="url(#low)"/>
<ellipse cx="382.30" cy="331.20" rx="6.00" ry="2.50" fill="url(#low)"/>
<ellipse cx="400.80" cy="337.60" rx="5.00" ry="9.00" fill="url(#mid)"/>
<ellipse cx="399.10" cy="352.50" rx="2.50" ry="2.50" fill="url(#mid)"/>
</g>
</g>
<clipPath id="cp13"><rect x="31.50" y="366.50" width="55.40" height="41.30"/></clipPath>
<g clip-path="url(#cp13)">
<rect x="31.50" y="366.50" width="55.40" height="41.30" fill="#151515" stroke="none" stroke-width="1" />
<line x1="32.72" y1="366.50" x2="32.72" y2="407.80" stroke="#262626" stroke-width="0.7" />
<line x1="35.00" y1="366.50" x2="35.00" y2="407.80" stroke="#262626" stroke-width="0.7" />
<line x1="37.71" y1="366.50" x2="37.71" y2="407.80" stroke="#262626" stroke-width="0.7" />
<line x1="40.78" y1="366.50" x2="40.78" y2="407.80" stroke="#262626" stroke-width="0.7" />
<line x1="42.64" y1="366.50" x2="42.64" y2="407.80" stroke="#262626" stroke-width="0.7" />
<line x1="45.46" y1="366.50" x2="45.46" y2="407.80" stroke="#262626" stroke-width="0.7" />
<line x1="47.70" y1="366.50" x2="47.70" y2="407.80" stroke="#262626" stroke-width="0.7" />
<line x1="50.21" y1="366.50" x2="50.21" y2="407.80" stroke="#262626" stroke-width="0.7" />
<line x1="52.67" y1="366.50" x2="52.67" y2="407.80" stroke="#262626" stroke-width="0.7" />
<line x1="55.40" y1="366.50" x2="55.40" y2="407.80" stroke="#262626" stroke-width="0.7" />
<line x1="57.67" y1="366.50" x2="57.67" y2="407.80" stroke="#262626" stroke-width="0.7" />
<line x1="60.03" y1="366.50" x2="60.03" y2="407.80" stroke="#262626" stroke-width="0.7" />
<line x1="62.61" y1="366.50" x2="62.61" y2="407.80" stroke="#262626" stroke-width="0.7" />
<line x1="65.17" y1="366.50" x2="65.17" y2="407.80" stroke="#262626" stroke-width="0.7" />
<line x1="67.99" y1="366.50" x2="67.99" y2="407.80" stroke="#262626" stroke-width="0.7" />
<line x1="70.06" y1="366.50" x2="70.06" y2="407.80" stroke="#262626" stroke-width="0.7" />
<line x1="72.52" y1="366.50" x2="72.52" y2="407.80" stroke="#262626" stroke-width="0.7" />
<line x1="75.45" y1="366.50" x2="75.45" y2="407.80" stroke="#262626" stroke-width="0.7" />
<line x1="77.91" y1="366.50" x2="77.91" y2="407.80" stroke="#262626" stroke-width="0.7" />
<line x1="80.70" y1="366.50" x2="80.70" y2="407.80" stroke="#262626" stroke-width="0.7" />
<line x1="82.55" y1="366.50" x2="82.55" y2="407.80" stroke="#262626" stroke-width="0.7" />
<line x1="85.40" y1="366.50" x2="85.40" y2="407.80" stroke="#262626" stroke-width="0.7" />
<g filter="url(#fur)">
<path d="M0.5 0.01 C0.6 0.01 0.66 0.05 0.68 0.12 C0.76 0.14 0.8 0.18 0.78 0.23 C0.88 0.3 0.95 0.42 0.96 0.58 C0.97 0.74 0.95 0.85 0.9 0.92 L0.94 0.99 L0.8 0.99 L0.74 0.95 C0.62 0.97 0.38 0.97 0.26 0.95 L0.2 0.99 L0.06 0.99 L0.1 0.92 C0.05 0.85 0.03 0.74 0.04 0.58 C0.05 0.42 0.12 0.3 0.22 0.23 C0.2 0.18 0.24 0.14 0.32 0.12 C0.34 0.05 0.4 0.01 0.5 0.01Z" fill="url(#mouseg)" transform="rotate(-4.7 40.65 387.23) translate(31.45,367.10) scale(18.40,40.27)"/>
<path d="M0.5 0.01 C0.6 0.01 0.66 0.05 0.68 0.12 C0.76 0.14 0.8 0.18 0.78 0.23 C0.88 0.3 0.95 0.42 0.96 0.58 C0.97 0.74 0.95 0.85 0.9 0.92 L0.94 0.99 L0.8 0.99 L0.74 0.95 C0.62 0.97 0.38 0.97 0.26 0.95 L0.2 0.99 L0.06 0.99 L0.1 0.92 C0.05 0.85 0.03 0.74 0.04 0.58 C0.05 0.42 0.12 0.3 0.22 0.23 C0.2 0.18 0.24 0.14 0.32 0.12 C0.34 0.05 0.4 0.01 0.5 0.01Z" fill="url(#mouseg)" transform="rotate(-4.1 58.98 387.23) translate(50.23,367.10) scale(17.50,40.27)"/>
<path d="M0.5 0.01 C0.6 0.01 0.66 0.05 0.68 0.12 C0.76 0.14 0.8 0.18 0.78 0.23 C0.88 0.3 0.95 0.42 0.96 0.58 C0.97 0.74 0.95 0.85 0.9 0.92 L0.94 0.99 L0.8 0.99 L0.74 0.95 C0.62 0.97 0.38 0.97 0.26 0.95 L0.2 0.99 L0.06 0.99 L0.1 0.92 C0.05 0.85 0.03 0.74 0.04 0.58 C0.05 0.42 0.12 0.3 0.22 0.23 C0.2 0.18 0.24 0.14 0.32 0.12 C0.34 0.05 0.4 0.01 0.5 0.01Z" fill="url(#mouseg)" transform="rotate(1.2 77.40 387.23) translate(68.77,367.10) scale(17.26,40.27)"/>
</g>
<g filter="url(#rough)">
<ellipse cx="37.50" cy="378.00" rx="4.00" ry="6.00" fill="url(#low)"/>
<ellipse cx="41.00" cy="396.00" rx="7.00" ry="9.50" fill="url(#low)"/>
<ellipse cx="40.50" cy="398.00" rx="4.50" ry="5.00" fill="url(#hoti)"/>
<ellipse cx="58.50" cy="386.00" rx="9.00" ry="12.00" fill="url(#low)"/>
<ellipse cx="60.00" cy="388.00" rx="5.00" ry="8.00" fill="url(#midi)"/>
<ellipse cx="55.00" cy="380.00" rx="3.50" ry="4.50" fill="url(#midi)"/>
<ellipse cx="77.50" cy="397.00" rx="6.00" ry="9.50" fill="url(#low)"/>
<ellipse cx="78.40" cy="389.00" rx="4.50" ry="6.50" fill="url(#hoti)"/>
</g>
</g>
<rect x="87.40" y="367.00" width="32.80" height="40.30" fill="#fff" stroke="#a0a0a0" stroke-width="0.8" />
<text x="103.80" y="391.55" font-size="11.4" text-anchor="middle" fill="#ff1c1c" style="stroke:#ff1c1c;stroke-width:0.25px" letter-spacing="0">XX</text>
<rect x="130.90" y="367.00" width="67.80" height="40.30" fill="#fff" stroke="#a0a0a0" stroke-width="0.8" />
<text x="166.10" y="391.55" font-size="11.4" text-anchor="middle" fill="#ff1c1c" style="stroke:#ff1c1c;stroke-width:0.25px" letter-spacing="2.6">XXXX</text>
<clipPath id="cp14"><rect x="199.20" y="366.50" width="16.70" height="41.30"/></clipPath>
<g clip-path="url(#cp14)">
<rect x="199.20" y="366.50" width="16.70" height="41.30" fill="#151515" stroke="none" stroke-width="1" />
<line x1="200.32" y1="366.50" x2="200.32" y2="407.80" stroke="#262626" stroke-width="0.7" />
<line x1="202.75" y1="366.50" x2="202.75" y2="407.80" stroke="#262626" stroke-width="0.7" />
<line x1="205.93" y1="366.50" x2="205.93" y2="407.80" stroke="#262626" stroke-width="0.7" />
<line x1="207.98" y1="366.50" x2="207.98" y2="407.80" stroke="#262626" stroke-width="0.7" />
<line x1="210.99" y1="366.50" x2="210.99" y2="407.80" stroke="#262626" stroke-width="0.7" />
<line x1="213.17" y1="366.50" x2="213.17" y2="407.80" stroke="#262626" stroke-width="0.7" />
<g filter="url(#fur)">
<path d="M0.5 0.01 C0.6 0.01 0.66 0.05 0.68 0.12 C0.76 0.14 0.8 0.18 0.78 0.23 C0.88 0.3 0.95 0.42 0.96 0.58 C0.97 0.74 0.95 0.85 0.9 0.92 L0.94 0.99 L0.8 0.99 L0.74 0.95 C0.62 0.97 0.38 0.97 0.26 0.95 L0.2 0.99 L0.06 0.99 L0.1 0.92 C0.05 0.85 0.03 0.74 0.04 0.58 C0.05 0.42 0.12 0.3 0.22 0.23 C0.2 0.18 0.24 0.14 0.32 0.12 C0.34 0.05 0.4 0.01 0.5 0.01Z" fill="url(#mouseg)" transform="rotate(-2.0 207.90 387.23) translate(200.17,367.10) scale(15.45,40.27)"/>
</g>
<g filter="url(#rough)">
<ellipse cx="207.50" cy="388.00" rx="8.50" ry="19.00" fill="url(#low)"/>
<ellipse cx="207.00" cy="382.00" rx="7.00" ry="9.00" fill="url(#midi)"/>
<ellipse cx="207.00" cy="380.00" rx="4.00" ry="5.00" fill="url(#hoti)"/>
<ellipse cx="208.00" cy="398.00" rx="7.50" ry="5.50" fill="url(#midi)"/>
<ellipse cx="212.00" cy="400.00" rx="3.00" ry="3.00" fill="url(#hoti)"/>
<ellipse cx="204.00" cy="400.00" rx="3.00" ry="3.00" fill="url(#hoti)"/>
</g>
</g>
<clipPath id="cp15"><rect x="226.70" y="366.50" width="86.10" height="41.30"/></clipPath>
<g clip-path="url(#cp15)">
<rect x="226.70" y="366.50" width="86.10" height="41.30" fill="#151515" stroke="none" stroke-width="1" />
<line x1="227.97" y1="366.50" x2="227.97" y2="407.80" stroke="#262626" stroke-width="0.7" />
<line x1="231.01" y1="366.50" x2="231.01" y2="407.80" stroke="#262626" stroke-width="0.7" />
<line x1="233.33" y1="366.50" x2="233.33" y2="407.80" stroke="#262626" stroke-width="0.7" />
<line x1="235.54" y1="366.50" x2="235.54" y2="407.80" stroke="#262626" stroke-width="0.7" />
<line x1="237.79" y1="366.50" x2="237.79" y2="407.80" stroke="#262626" stroke-width="0.7" />
<line x1="240.88" y1="366.50" x2="240.88" y2="407.80" stroke="#262626" stroke-width="0.7" />
<line x1="243.67" y1="366.50" x2="243.67" y2="407.80" stroke="#262626" stroke-width="0.7" />
<line x1="245.79" y1="366.50" x2="245.79" y2="407.80" stroke="#262626" stroke-width="0.7" />
<line x1="247.70" y1="366.50" x2="247.70" y2="407.80" stroke="#262626" stroke-width="0.7" />
<line x1="250.23" y1="366.50" x2="250.23" y2="407.80" stroke="#262626" stroke-width="0.7" />
<line x1="252.79" y1="366.50" x2="252.79" y2="407.80" stroke="#262626" stroke-width="0.7" />
<line x1="255.37" y1="366.50" x2="255.37" y2="407.80" stroke="#262626" stroke-width="0.7" />
<line x1="257.74" y1="366.50" x2="257.74" y2="407.80" stroke="#262626" stroke-width="0.7" />
<line x1="260.25" y1="366.50" x2="260.25" y2="407.80" stroke="#262626" stroke-width="0.7" />
<line x1="263.35" y1="366.50" x2="263.35" y2="407.80" stroke="#262626" stroke-width="0.7" />
<line x1="266.10" y1="366.50" x2="266.10" y2="407.80" stroke="#262626" stroke-width="0.7" />
<line x1="267.90" y1="366.50" x2="267.90" y2="407.80" stroke="#262626" stroke-width="0.7" />
<line x1="271.17" y1="366.50" x2="271.17" y2="407.80" stroke="#262626" stroke-width="0.7" />
<line x1="273.18" y1="366.50" x2="273.18" y2="407.80" stroke="#262626" stroke-width="0.7" />
<line x1="276.00" y1="366.50" x2="276.00" y2="407.80" stroke="#262626" stroke-width="0.7" />
<line x1="278.62" y1="366.50" x2="278.62" y2="407.80" stroke="#262626" stroke-width="0.7" />
<line x1="281.14" y1="366.50" x2="281.14" y2="407.80" stroke="#262626" stroke-width="0.7" />
<line x1="282.73" y1="366.50" x2="282.73" y2="407.80" stroke="#262626" stroke-width="0.7" />
<line x1="285.50" y1="366.50" x2="285.50" y2="407.80" stroke="#262626" stroke-width="0.7" />
<line x1="288.31" y1="366.50" x2="288.31" y2="407.80" stroke="#262626" stroke-width="0.7" />
<line x1="291.15" y1="366.50" x2="291.15" y2="407.80" stroke="#262626" stroke-width="0.7" />
<line x1="292.79" y1="366.50" x2="292.79" y2="407.80" stroke="#262626" stroke-width="0.7" />
<line x1="295.49" y1="366.50" x2="295.49" y2="407.80" stroke="#262626" stroke-width="0.7" />
<line x1="298.55" y1="366.50" x2="298.55" y2="407.80" stroke="#262626" stroke-width="0.7" />
<line x1="300.31" y1="366.50" x2="300.31" y2="407.80" stroke="#262626" stroke-width="0.7" />
<line x1="303.09" y1="366.50" x2="303.09" y2="407.80" stroke="#262626" stroke-width="0.7" />
<line x1="305.53" y1="366.50" x2="305.53" y2="407.80" stroke="#262626" stroke-width="0.7" />
<line x1="308.38" y1="366.50" x2="308.38" y2="407.80" stroke="#262626" stroke-width="0.7" />
<line x1="311.13" y1="366.50" x2="311.13" y2="407.80" stroke="#262626" stroke-width="0.7" />
<g filter="url(#fur)">
<path d="M0.5 0.01 C0.6 0.01 0.66 0.05 0.68 0.12 C0.76 0.14 0.8 0.18 0.78 0.23 C0.88 0.3 0.95 0.42 0.96 0.58 C0.97 0.74 0.95 0.85 0.9 0.92 L0.94 0.99 L0.8 0.99 L0.74 0.95 C0.62 0.97 0.38 0.97 0.26 0.95 L0.2 0.99 L0.06 0.99 L0.1 0.92 C0.05 0.85 0.03 0.74 0.04 0.58 C0.05 0.42 0.12 0.3 0.22 0.23 C0.2 0.18 0.24 0.14 0.32 0.12 C0.34 0.05 0.4 0.01 0.5 0.01Z" fill="url(#mouseg)" transform="rotate(2.4 235.05 387.23) translate(226.67,367.10) scale(16.76,40.27)"/>
<path d="M0.5 0.01 C0.6 0.01 0.66 0.05 0.68 0.12 C0.76 0.14 0.8 0.18 0.78 0.23 C0.88 0.3 0.95 0.42 0.96 0.58 C0.97 0.74 0.95 0.85 0.9 0.92 L0.94 0.99 L0.8 0.99 L0.74 0.95 C0.62 0.97 0.38 0.97 0.26 0.95 L0.2 0.99 L0.06 0.99 L0.1 0.92 C0.05 0.85 0.03 0.74 0.04 0.58 C0.05 0.42 0.12 0.3 0.22 0.23 C0.2 0.18 0.24 0.14 0.32 0.12 C0.34 0.05 0.4 0.01 0.5 0.01Z" fill="url(#mouseg)" transform="rotate(0.5 252.80 387.23) translate(244.25,367.10) scale(17.09,40.27)"/>
<path d="M0.5 0.01 C0.6 0.01 0.66 0.05 0.68 0.12 C0.76 0.14 0.8 0.18 0.78 0.23 C0.88 0.3 0.95 0.42 0.96 0.58 C0.97 0.74 0.95 0.85 0.9 0.92 L0.94 0.99 L0.8 0.99 L0.74 0.95 C0.62 0.97 0.38 0.97 0.26 0.95 L0.2 0.99 L0.06 0.99 L0.1 0.92 C0.05 0.85 0.03 0.74 0.04 0.58 C0.05 0.42 0.12 0.3 0.22 0.23 C0.2 0.18 0.24 0.14 0.32 0.12 C0.34 0.05 0.4 0.01 0.5 0.01Z" fill="url(#mouseg)" transform="rotate(-0.9 269.64 387.23) translate(261.69,367.10) scale(15.89,40.27)"/>
<path d="M0.5 0.01 C0.6 0.01 0.66 0.05 0.68 0.12 C0.76 0.14 0.8 0.18 0.78 0.23 C0.88 0.3 0.95 0.42 0.96 0.58 C0.97 0.74 0.95 0.85 0.9 0.92 L0.94 0.99 L0.8 0.99 L0.74 0.95 C0.62 0.97 0.38 0.97 0.26 0.95 L0.2 0.99 L0.06 0.99 L0.1 0.92 C0.05 0.85 0.03 0.74 0.04 0.58 C0.05 0.42 0.12 0.3 0.22 0.23 C0.2 0.18 0.24 0.14 0.32 0.12 C0.34 0.05 0.4 0.01 0.5 0.01Z" fill="url(#mouseg)" transform="rotate(-0.2 287.19 387.23) translate(279.21,367.10) scale(15.96,40.27)"/>
<path d="M0.5 0.01 C0.6 0.01 0.66 0.05 0.68 0.12 C0.76 0.14 0.8 0.18 0.78 0.23 C0.88 0.3 0.95 0.42 0.96 0.58 C0.97 0.74 0.95 0.85 0.9 0.92 L0.94 0.99 L0.8 0.99 L0.74 0.95 C0.62 0.97 0.38 0.97 0.26 0.95 L0.2 0.99 L0.06 0.99 L0.1 0.92 C0.05 0.85 0.03 0.74 0.04 0.58 C0.05 0.42 0.12 0.3 0.22 0.23 C0.2 0.18 0.24 0.14 0.32 0.12 C0.34 0.05 0.4 0.01 0.5 0.01Z" fill="url(#mouseg)" transform="rotate(2.2 303.93 387.23) translate(295.66,367.10) scale(16.54,40.27)"/>
</g>
</g>
<clipPath id="cp16"><rect x="323.00" y="366.50" width="52.00" height="41.30"/></clipPath>
<g clip-path="url(#cp16)">
<rect x="323.00" y="366.50" width="52.00" height="41.30" fill="#151515" stroke="none" stroke-width="1" />
<line x1="324.71" y1="366.50" x2="324.71" y2="407.80" stroke="#262626" stroke-width="0.7" />
<line x1="326.89" y1="366.50" x2="326.89" y2="407.80" stroke="#262626" stroke-width="0.7" />
<line x1="329.49" y1="366.50" x2="329.49" y2="407.80" stroke="#262626" stroke-width="0.7" />
<line x1="331.65" y1="366.50" x2="331.65" y2="407.80" stroke="#262626" stroke-width="0.7" />
<line x1="334.71" y1="366.50" x2="334.71" y2="407.80" stroke="#262626" stroke-width="0.7" />
<line x1="336.52" y1="366.50" x2="336.52" y2="407.80" stroke="#262626" stroke-width="0.7" />
<line x1="339.47" y1="366.50" x2="339.47" y2="407.80" stroke="#262626" stroke-width="0.7" />
<line x1="342.26" y1="366.50" x2="342.26" y2="407.80" stroke="#262626" stroke-width="0.7" />
<line x1="344.68" y1="366.50" x2="344.68" y2="407.80" stroke="#262626" stroke-width="0.7" />
<line x1="346.60" y1="366.50" x2="346.60" y2="407.80" stroke="#262626" stroke-width="0.7" />
<line x1="349.24" y1="366.50" x2="349.24" y2="407.80" stroke="#262626" stroke-width="0.7" />
<line x1="352.34" y1="366.50" x2="352.34" y2="407.80" stroke="#262626" stroke-width="0.7" />
<line x1="354.64" y1="366.50" x2="354.64" y2="407.80" stroke="#262626" stroke-width="0.7" />
<line x1="357.38" y1="366.50" x2="357.38" y2="407.80" stroke="#262626" stroke-width="0.7" />
<line x1="359.87" y1="366.50" x2="359.87" y2="407.80" stroke="#262626" stroke-width="0.7" />
<line x1="361.95" y1="366.50" x2="361.95" y2="407.80" stroke="#262626" stroke-width="0.7" />
<line x1="364.90" y1="366.50" x2="364.90" y2="407.80" stroke="#262626" stroke-width="0.7" />
<line x1="367.23" y1="366.50" x2="367.23" y2="407.80" stroke="#262626" stroke-width="0.7" />
<line x1="369.33" y1="366.50" x2="369.33" y2="407.80" stroke="#262626" stroke-width="0.7" />
<line x1="371.87" y1="366.50" x2="371.87" y2="407.80" stroke="#262626" stroke-width="0.7" />
<g filter="url(#fur)">
<path d="M0.5 0.01 C0.6 0.01 0.66 0.05 0.68 0.12 C0.76 0.14 0.8 0.18 0.78 0.23 C0.88 0.3 0.95 0.42 0.96 0.58 C0.97 0.74 0.95 0.85 0.9 0.92 L0.94 0.99 L0.8 0.99 L0.74 0.95 C0.62 0.97 0.38 0.97 0.26 0.95 L0.2 0.99 L0.06 0.99 L0.1 0.92 C0.05 0.85 0.03 0.74 0.04 0.58 C0.05 0.42 0.12 0.3 0.22 0.23 C0.2 0.18 0.24 0.14 0.32 0.12 C0.34 0.05 0.4 0.01 0.5 0.01Z" fill="url(#mouseg)" transform="rotate(-1.0 331.32 387.23) translate(322.70,367.10) scale(17.26,40.27)"/>
<path d="M0.5 0.01 C0.6 0.01 0.66 0.05 0.68 0.12 C0.76 0.14 0.8 0.18 0.78 0.23 C0.88 0.3 0.95 0.42 0.96 0.58 C0.97 0.74 0.95 0.85 0.9 0.92 L0.94 0.99 L0.8 0.99 L0.74 0.95 C0.62 0.97 0.38 0.97 0.26 0.95 L0.2 0.99 L0.06 0.99 L0.1 0.92 C0.05 0.85 0.03 0.74 0.04 0.58 C0.05 0.42 0.12 0.3 0.22 0.23 C0.2 0.18 0.24 0.14 0.32 0.12 C0.34 0.05 0.4 0.01 0.5 0.01Z" fill="url(#mouseg)" transform="rotate(0.7 348.68 387.23) translate(340.79,367.10) scale(15.79,40.27)"/>
<path d="M0.5 0.01 C0.6 0.01 0.66 0.05 0.68 0.12 C0.76 0.14 0.8 0.18 0.78 0.23 C0.88 0.3 0.95 0.42 0.96 0.58 C0.97 0.74 0.95 0.85 0.9 0.92 L0.94 0.99 L0.8 0.99 L0.74 0.95 C0.62 0.97 0.38 0.97 0.26 0.95 L0.2 0.99 L0.06 0.99 L0.1 0.92 C0.05 0.85 0.03 0.74 0.04 0.58 C0.05 0.42 0.12 0.3 0.22 0.23 C0.2 0.18 0.24 0.14 0.32 0.12 C0.34 0.05 0.4 0.01 0.5 0.01Z" fill="url(#mouseg)" transform="rotate(1.5 366.00 387.23) translate(357.99,367.10) scale(16.02,40.27)"/>
</g>
<g filter="url(#rough)">
<ellipse cx="331.90" cy="383.00" rx="7.00" ry="4.00" fill="url(#hot)"/>
<ellipse cx="348.70" cy="391.40" rx="5.50" ry="12.00" fill="url(#mid)"/>
<ellipse cx="348.70" cy="371.80" rx="3.00" ry="3.00" fill="url(#hot)"/>
<ellipse cx="348.70" cy="404.00" rx="2.00" ry="2.00" fill="url(#mid)"/>
<ellipse cx="364.40" cy="397.00" rx="6.50" ry="8.00" fill="url(#low)"/>
<ellipse cx="364.40" cy="398.00" rx="4.50" ry="5.50" fill="url(#hoti)"/>
</g>
</g>
<rect x="375.50" y="367.00" width="33.30" height="40.30" fill="#fff" stroke="#a0a0a0" stroke-width="0.8" />
<text x="392.15" y="391.55" font-size="11.4" text-anchor="middle" fill="#ff1c1c" style="stroke:#ff1c1c;stroke-width:0.25px" letter-spacing="0">XX</text>
<rect x="31.90" y="417.50" width="88.30" height="42.40" fill="#fff" stroke="#a0a0a0" stroke-width="0.8" />
<text x="77.35" y="443.10" font-size="11.4" text-anchor="middle" fill="#ff1c1c" style="stroke:#ff1c1c;stroke-width:0.25px" letter-spacing="2.6">XXXXX</text>
<rect x="129.00" y="417.50" width="86.40" height="42.40" fill="#fff" stroke="#a0a0a0" stroke-width="0.8" />
<text x="173.50" y="443.10" font-size="11.4" text-anchor="middle" fill="#ff1c1c" style="stroke:#ff1c1c;stroke-width:0.25px" letter-spacing="2.6">XXXXX</text>
<clipPath id="cp17"><rect x="226.70" y="417.00" width="86.10" height="43.40"/></clipPath>
<g clip-path="url(#cp17)">
<rect x="226.70" y="417.00" width="86.10" height="43.40" fill="#151515" stroke="none" stroke-width="1" />
<line x1="227.75" y1="417.00" x2="227.75" y2="460.40" stroke="#262626" stroke-width="0.7" />
<line x1="230.35" y1="417.00" x2="230.35" y2="460.40" stroke="#262626" stroke-width="0.7" />
<line x1="233.34" y1="417.00" x2="233.34" y2="460.40" stroke="#262626" stroke-width="0.7" />
<line x1="235.79" y1="417.00" x2="235.79" y2="460.40" stroke="#262626" stroke-width="0.7" />
<line x1="237.71" y1="417.00" x2="237.71" y2="460.40" stroke="#262626" stroke-width="0.7" />
<line x1="240.43" y1="417.00" x2="240.43" y2="460.40" stroke="#262626" stroke-width="0.7" />
<line x1="243.67" y1="417.00" x2="243.67" y2="460.40" stroke="#262626" stroke-width="0.7" />
<line x1="245.42" y1="417.00" x2="245.42" y2="460.40" stroke="#262626" stroke-width="0.7" />
<line x1="248.26" y1="417.00" x2="248.26" y2="460.40" stroke="#262626" stroke-width="0.7" />
<line x1="250.62" y1="417.00" x2="250.62" y2="460.40" stroke="#262626" stroke-width="0.7" />
<line x1="253.48" y1="417.00" x2="253.48" y2="460.40" stroke="#262626" stroke-width="0.7" />
<line x1="255.80" y1="417.00" x2="255.80" y2="460.40" stroke="#262626" stroke-width="0.7" />
<line x1="258.49" y1="417.00" x2="258.49" y2="460.40" stroke="#262626" stroke-width="0.7" />
<line x1="260.74" y1="417.00" x2="260.74" y2="460.40" stroke="#262626" stroke-width="0.7" />
<line x1="262.89" y1="417.00" x2="262.89" y2="460.40" stroke="#262626" stroke-width="0.7" />
<line x1="265.38" y1="417.00" x2="265.38" y2="460.40" stroke="#262626" stroke-width="0.7" />
<line x1="267.78" y1="417.00" x2="267.78" y2="460.40" stroke="#262626" stroke-width="0.7" />
<line x1="271.03" y1="417.00" x2="271.03" y2="460.40" stroke="#262626" stroke-width="0.7" />
<line x1="272.81" y1="417.00" x2="272.81" y2="460.40" stroke="#262626" stroke-width="0.7" />
<line x1="275.22" y1="417.00" x2="275.22" y2="460.40" stroke="#262626" stroke-width="0.7" />
<line x1="278.67" y1="417.00" x2="278.67" y2="460.40" stroke="#262626" stroke-width="0.7" />
<line x1="280.40" y1="417.00" x2="280.40" y2="460.40" stroke="#262626" stroke-width="0.7" />
<line x1="283.59" y1="417.00" x2="283.59" y2="460.40" stroke="#262626" stroke-width="0.7" />
<line x1="285.29" y1="417.00" x2="285.29" y2="460.40" stroke="#262626" stroke-width="0.7" />
<line x1="288.17" y1="417.00" x2="288.17" y2="460.40" stroke="#262626" stroke-width="0.7" />
<line x1="290.42" y1="417.00" x2="290.42" y2="460.40" stroke="#262626" stroke-width="0.7" />
<line x1="293.53" y1="417.00" x2="293.53" y2="460.40" stroke="#262626" stroke-width="0.7" />
<line x1="295.82" y1="417.00" x2="295.82" y2="460.40" stroke="#262626" stroke-width="0.7" />
<line x1="298.34" y1="417.00" x2="298.34" y2="460.40" stroke="#262626" stroke-width="0.7" />
<line x1="300.96" y1="417.00" x2="300.96" y2="460.40" stroke="#262626" stroke-width="0.7" />
<line x1="303.57" y1="417.00" x2="303.57" y2="460.40" stroke="#262626" stroke-width="0.7" />
<line x1="305.55" y1="417.00" x2="305.55" y2="460.40" stroke="#262626" stroke-width="0.7" />
<line x1="308.30" y1="417.00" x2="308.30" y2="460.40" stroke="#262626" stroke-width="0.7" />
<line x1="310.65" y1="417.00" x2="310.65" y2="460.40" stroke="#262626" stroke-width="0.7" />
<g filter="url(#fur)">
<path d="M0.5 0.01 C0.6 0.01 0.66 0.05 0.68 0.12 C0.76 0.14 0.8 0.18 0.78 0.23 C0.88 0.3 0.95 0.42 0.96 0.58 C0.97 0.74 0.95 0.85 0.9 0.92 L0.94 0.99 L0.8 0.99 L0.74 0.95 C0.62 0.97 0.38 0.97 0.26 0.95 L0.2 0.99 L0.06 0.99 L0.1 0.92 C0.05 0.85 0.03 0.74 0.04 0.58 C0.05 0.42 0.12 0.3 0.22 0.23 C0.2 0.18 0.24 0.14 0.32 0.12 C0.34 0.05 0.4 0.01 0.5 0.01Z" fill="url(#mouseg)" transform="rotate(3.4 235.00 438.76) translate(226.74,417.60) scale(16.52,42.31)"/>
<path d="M0.5 0.01 C0.6 0.01 0.66 0.05 0.68 0.12 C0.76 0.14 0.8 0.18 0.78 0.23 C0.88 0.3 0.95 0.42 0.96 0.58 C0.97 0.74 0.95 0.85 0.9 0.92 L0.94 0.99 L0.8 0.99 L0.74 0.95 C0.62 0.97 0.38 0.97 0.26 0.95 L0.2 0.99 L0.06 0.99 L0.1 0.92 C0.05 0.85 0.03 0.74 0.04 0.58 C0.05 0.42 0.12 0.3 0.22 0.23 C0.2 0.18 0.24 0.14 0.32 0.12 C0.34 0.05 0.4 0.01 0.5 0.01Z" fill="url(#mouseg)" transform="rotate(-2.9 252.78 438.76) translate(244.57,417.60) scale(16.43,42.31)"/>
<path d="M0.5 0.01 C0.6 0.01 0.66 0.05 0.68 0.12 C0.76 0.14 0.8 0.18 0.78 0.23 C0.88 0.3 0.95 0.42 0.96 0.58 C0.97 0.74 0.95 0.85 0.9 0.92 L0.94 0.99 L0.8 0.99 L0.74 0.95 C0.62 0.97 0.38 0.97 0.26 0.95 L0.2 0.99 L0.06 0.99 L0.1 0.92 C0.05 0.85 0.03 0.74 0.04 0.58 C0.05 0.42 0.12 0.3 0.22 0.23 C0.2 0.18 0.24 0.14 0.32 0.12 C0.34 0.05 0.4 0.01 0.5 0.01Z" fill="url(#mouseg)" transform="rotate(2.3 269.72 438.76) translate(261.91,417.60) scale(15.63,42.31)"/>
<path d="M0.5 0.01 C0.6 0.01 0.66 0.05 0.68 0.12 C0.76 0.14 0.8 0.18 0.78 0.23 C0.88 0.3 0.95 0.42 0.96 0.58 C0.97 0.74 0.95 0.85 0.9 0.92 L0.94 0.99 L0.8 0.99 L0.74 0.95 C0.62 0.97 0.38 0.97 0.26 0.95 L0.2 0.99 L0.06 0.99 L0.1 0.92 C0.05 0.85 0.03 0.74 0.04 0.58 C0.05 0.42 0.12 0.3 0.22 0.23 C0.2 0.18 0.24 0.14 0.32 0.12 C0.34 0.05 0.4 0.01 0.5 0.01Z" fill="url(#mouseg)" transform="rotate(-0.2 286.85 438.76) translate(279.04,417.60) scale(15.62,42.31)"/>
<path d="M0.5 0.01 C0.6 0.01 0.66 0.05 0.68 0.12 C0.76 0.14 0.8 0.18 0.78 0.23 C0.88 0.3 0.95 0.42 0.96 0.58 C0.97 0.74 0.95 0.85 0.9 0.92 L0.94 0.99 L0.8 0.99 L0.74 0.95 C0.62 0.97 0.38 0.97 0.26 0.95 L0.2 0.99 L0.06 0.99 L0.1 0.92 C0.05 0.85 0.03 0.74 0.04 0.58 C0.05 0.42 0.12 0.3 0.22 0.23 C0.2 0.18 0.24 0.14 0.32 0.12 C0.34 0.05 0.4 0.01 0.5 0.01Z" fill="url(#mouseg)" transform="rotate(2.4 304.23 438.76) translate(296.12,417.60) scale(16.23,42.31)"/>
</g>
</g>
<circle cx="235.50" cy="420.50" r="0.80" fill="#e03030" stroke="none" stroke-width="1" />
<rect x="322.30" y="417.50" width="86.20" height="42.40" fill="#fff" stroke="#a0a0a0" stroke-width="0.8" />
<text x="366.70" y="443.10" font-size="11.4" text-anchor="middle" fill="#ff1c1c" style="stroke:#ff1c1c;stroke-width:0.25px" letter-spacing="2.6">XXXXX</text>
<line x1="216.00" y1="209.20" x2="227.00" y2="209.20" stroke="#000" stroke-width="1.4" />
<text x="414.00" y="236.00" font-size="11" text-anchor="middle" fill="#000" transform="rotate(90 414.00 236.00)" >Day 7</text>
<text x="414.00" y="289.40" font-size="11" text-anchor="middle" fill="#000" transform="rotate(90 414.00 289.40)" >Day 14</text>
<text x="414.00" y="340.45" font-size="11" text-anchor="middle" fill="#000" transform="rotate(90 414.00 340.45)" >Day 28</text>
<text x="414.00" y="391.75" font-size="11" text-anchor="middle" fill="#000" transform="rotate(90 414.00 391.75)" >Day 56</text>
<text x="414.00" y="443.30" font-size="11" text-anchor="middle" fill="#000" transform="rotate(90 414.00 443.30)" >Day 84</text>
<text transform="translate(438.00,12.60) scale(1.06,1)" font-size="21.5" stroke="#000" stroke-width="0.15">c</text>
<line x1="491.40" y1="6.60" x2="498.60" y2="6.60" stroke="#f39a2e" stroke-width="1.2" />
<rect x="492.80" y="4.40" width="4.40" height="4.40" fill="#f39a2e" stroke="none" stroke-width="1" />
<text x="503.40" y="12.60" font-size="10" text-anchor="start" fill="#000"><tspan>NTP</tspan><tspan dy="-3.60" font-size="7.1" style="stroke-width:0.06px">PROTAC+Scram</tspan></text>
<line x1="491.40" y1="19.80" x2="498.60" y2="19.80" stroke="#3a64a8" stroke-width="1.2" />
<path d="M492.6 21.6 L495.0 17.400000000000002 L497.4 21.6Z" fill="#3a64a8" stroke="none" stroke-width="1" />
<text x="503.40" y="25.40" font-size="10" text-anchor="start" fill="#000"><tspan>NTP</tspan><tspan dy="-3.60" font-size="7.1" style="stroke-width:0.06px">PROTAC+shFOXO4</tspan></text>
<line x1="491.40" y1="31.70" x2="498.60" y2="31.70" stroke="#2626e8" stroke-width="1.2" />
<circle cx="495.00" cy="31.70" r="1.60" fill="#2626e8" stroke="none" stroke-width="1" />
<text x="503.40" y="37.40" font-size="10" text-anchor="start" fill="#000"><tspan>AKT3</tspan><tspan dy="-3.60" font-size="7.1" style="stroke-width:0.06px">PROTAC+Scram</tspan></text>
<line x1="491.40" y1="45.00" x2="498.60" y2="45.00" stroke="#90e2f5" stroke-width="1.2" />
<circle cx="495.00" cy="45.00" r="1.50" fill="#000" stroke="none" stroke-width="1" />
<text x="503.40" y="50.90" font-size="10" text-anchor="start" fill="#000"><tspan>AKT3</tspan><tspan dy="-3.60" font-size="7.1" style="stroke-width:0.06px">PROTAC+shFOXO4</tspan></text>
<line x1="493.40" y1="54.40" x2="493.40" y2="129.30" stroke="#555" stroke-width="1" />
<line x1="493.00" y1="128.90" x2="628.00" y2="128.90" stroke="#555" stroke-width="1" />
<line x1="490.40" y1="54.40" x2="493.40" y2="54.40" stroke="#555" stroke-width="1" />
<text x="488.90" y="57.70" font-size="9.4" text-anchor="end" fill="#000" >1000000</text>
<line x1="490.40" y1="73.03" x2="493.40" y2="73.03" stroke="#555" stroke-width="1" />
<text x="488.90" y="76.33" font-size="9.4" text-anchor="end" fill="#000" >100000</text>
<line x1="490.40" y1="91.65" x2="493.40" y2="91.65" stroke="#555" stroke-width="1" />
<text x="488.90" y="94.95" font-size="9.4" text-anchor="end" fill="#000" >10000</text>
<line x1="490.40" y1="110.28" x2="493.40" y2="110.28" stroke="#555" stroke-width="1" />
<text x="488.90" y="113.58" font-size="9.4" text-anchor="end" fill="#000" >1000</text>
<line x1="490.40" y1="128.90" x2="493.40" y2="128.90" stroke="#555" stroke-width="1" />
<text x="488.90" y="132.20" font-size="9.4" text-anchor="end" fill="#000" >100</text>
<line x1="493.40" y1="128.90" x2="493.40" y2="131.90" stroke="#555" stroke-width="1" />
<text x="493.40" y="142.20" font-size="9.4" text-anchor="middle" fill="#000" >0</text>
<line x1="515.83" y1="128.90" x2="515.83" y2="131.90" stroke="#555" stroke-width="1" />
<text x="515.83" y="142.20" font-size="9.4" text-anchor="middle" fill="#000" >14</text>
<line x1="538.27" y1="128.90" x2="538.27" y2="131.90" stroke="#555" stroke-width="1" />
<text x="538.27" y="142.20" font-size="9.4" text-anchor="middle" fill="#000" >28</text>
<line x1="560.70" y1="128.90" x2="560.70" y2="131.90" stroke="#555" stroke-width="1" />
<text x="560.70" y="142.20" font-size="9.4" text-anchor="middle" fill="#000" >42</text>
<line x1="583.13" y1="128.90" x2="583.13" y2="131.90" stroke="#555" stroke-width="1" />
<text x="583.13" y="142.20" font-size="9.4" text-anchor="middle" fill="#000" >56</text>
<line x1="605.57" y1="128.90" x2="605.57" y2="131.90" stroke="#555" stroke-width="1" />
<text x="605.57" y="142.20" font-size="9.4" text-anchor="middle" fill="#000" >70</text>
<line x1="628.00" y1="128.90" x2="628.00" y2="131.90" stroke="#555" stroke-width="1" />
<text x="628.00" y="142.20" font-size="9.4" text-anchor="middle" fill="#000" >84</text>
<text x="561.00" y="153.50" font-size="10" text-anchor="middle" fill="#000" >Time in Days</text>
<text x="450.30" y="95.50" font-size="10" text-anchor="middle" fill="#000" transform="rotate(-90 450.30 95.50)" >Radiance (p/sec/cm<tspan dy="-3.5" font-size="6.5">2</tspan><tspan dy="3.5">/sr)</tspan></text>
<line x1="515.83" y1="96.50" x2="515.83" y2="106.30" stroke="#444" stroke-width="0.7" />
<line x1="514.23" y1="96.50" x2="517.43" y2="96.50" stroke="#444" stroke-width="0.7" />
<line x1="514.23" y1="106.30" x2="517.43" y2="106.30" stroke="#444" stroke-width="0.7" />
<line x1="583.13" y1="63.00" x2="583.13" y2="70.50" stroke="#444" stroke-width="0.7" />
<line x1="581.53" y1="63.00" x2="584.73" y2="63.00" stroke="#444" stroke-width="0.7" />
<line x1="581.53" y1="70.50" x2="584.73" y2="70.50" stroke="#444" stroke-width="0.7" />
<line x1="538.27" y1="77.50" x2="538.27" y2="87.00" stroke="#444" stroke-width="0.7" />
<line x1="536.67" y1="77.50" x2="539.87" y2="77.50" stroke="#444" stroke-width="0.7" />
<line x1="536.67" y1="87.00" x2="539.87" y2="87.00" stroke="#444" stroke-width="0.7" />
<line x1="515.83" y1="111.00" x2="515.83" y2="119.60" stroke="#444" stroke-width="0.7" />
<line x1="514.23" y1="111.00" x2="517.43" y2="111.00" stroke="#444" stroke-width="0.7" />
<line x1="514.23" y1="119.60" x2="517.43" y2="119.60" stroke="#444" stroke-width="0.7" />
<line x1="538.27" y1="110.50" x2="538.27" y2="116.20" stroke="#444" stroke-width="0.7" />
<line x1="536.67" y1="110.50" x2="539.87" y2="110.50" stroke="#444" stroke-width="0.7" />
<line x1="536.67" y1="116.20" x2="539.87" y2="116.20" stroke="#444" stroke-width="0.7" />
<line x1="504.62" y1="74.00" x2="504.62" y2="82.00" stroke="#444" stroke-width="0.7" />
<line x1="503.02" y1="74.00" x2="506.22" y2="74.00" stroke="#444" stroke-width="0.7" />
<line x1="503.02" y1="82.00" x2="506.22" y2="82.00" stroke="#444" stroke-width="0.7" />
<path d="M504.62 77.80 L515.83 111.80 L538.27 81.10 L583.13 65.80" fill="none" stroke="#90e2f5" stroke-width="1.3" stroke-linejoin="round"/>
<path d="M504.62 79.00 L515.83 115.50 L538.27 113.30 L583.13 119.00 L628.00 119.00" fill="none" stroke="#2626e8" stroke-width="1.3" stroke-linejoin="round"/>
<path d="M504.62 76.70 L515.83 100.80 L538.27 90.30 L583.13 66.20" fill="none" stroke="#f39a2e" stroke-width="1.3" stroke-linejoin="round"/>
<path d="M504.62 73.00 L515.83 94.30 L538.27 73.00 L583.13 55.30" fill="none" stroke="#3a64a8" stroke-width="1.3" stroke-linejoin="round"/>
<circle cx="504.62" cy="79.00" r="1.60" fill="#2626e8" stroke="none" stroke-width="1" />
<circle cx="515.83" cy="115.50" r="1.60" fill="#2626e8" stroke="none" stroke-width="1" />
<circle cx="538.27" cy="113.30" r="1.60" fill="#2626e8" stroke="none" stroke-width="1" />
<circle cx="583.13" cy="119.00" r="1.60" fill="#2626e8" stroke="none" stroke-width="1" />
<circle cx="628.00" cy="119.00" r="1.60" fill="#2626e8" stroke="none" stroke-width="1" />
<rect x="502.22" y="74.30" width="4.80" height="4.80" fill="#f39a2e" stroke="none" stroke-width="1" />
<rect x="513.43" y="98.40" width="4.80" height="4.80" fill="#f39a2e" stroke="none" stroke-width="1" />
<rect x="535.87" y="87.90" width="4.80" height="4.80" fill="#f39a2e" stroke="none" stroke-width="1" />
<rect x="580.73" y="63.80" width="4.80" height="4.80" fill="#f39a2e" stroke="none" stroke-width="1" />
<path d="M502.12 75.00 L504.62 70.40 L507.12 75.00Z" fill="#3a64a8" stroke="none" stroke-width="1" />
<path d="M513.33 96.30 L515.83 91.70 L518.33 96.30Z" fill="#3a64a8" stroke="none" stroke-width="1" />
<path d="M535.77 75.00 L538.27 70.40 L540.77 75.00Z" fill="#3a64a8" stroke="none" stroke-width="1" />
<path d="M580.63 57.30 L583.13 52.70 L585.63 57.30Z" fill="#3a64a8" stroke="none" stroke-width="1" />
<circle cx="504.62" cy="77.80" r="1.30" fill="#000" stroke="none" stroke-width="1" />
<circle cx="515.83" cy="111.80" r="1.30" fill="#000" stroke="none" stroke-width="1" />
<circle cx="538.27" cy="81.10" r="1.30" fill="#000" stroke="none" stroke-width="1" />
<circle cx="583.13" cy="65.80" r="1.30" fill="#000" stroke="none" stroke-width="1" />
<text transform="translate(438.10,200.60) scale(1.06,1)" font-size="21.5" stroke="#000" stroke-width="0.15">d</text>
<line x1="493.20" y1="186.50" x2="498.80" y2="186.50" stroke="#f39a2e" stroke-width="1.2" />
<text x="507.00" y="192.60" font-size="10.3" text-anchor="start" fill="#000"><tspan>NTP</tspan><tspan dy="-3.80" font-size="7.5" style="stroke-width:0.06px">PROTAC+Scram</tspan></text>
<line x1="493.20" y1="200.40" x2="498.80" y2="200.40" stroke="#3a64a8" stroke-width="1.2" />
<text x="507.00" y="205.90" font-size="10.3" text-anchor="start" fill="#000"><tspan>NTP</tspan><tspan dy="-3.80" font-size="7.5" style="stroke-width:0.06px">PROTAC+shFOXO4</tspan></text>
<line x1="493.20" y1="215.40" x2="498.80" y2="215.40" stroke="#2626e8" stroke-width="1.2" />
<text x="507.00" y="220.60" font-size="10.3" text-anchor="start" fill="#000"><tspan>AKT3</tspan><tspan dy="-3.80" font-size="7.5" style="stroke-width:0.06px">PROTAC+Scram</tspan></text>
<line x1="493.20" y1="230.00" x2="498.80" y2="230.00" stroke="#90e2f5" stroke-width="1.2" />
<text x="507.00" y="235.40" font-size="10.3" text-anchor="start" fill="#000"><tspan>AKT3</tspan><tspan dy="-3.80" font-size="7.5" style="stroke-width:0.06px">PROTAC+shFOXO4</tspan></text>
<line x1="492.30" y1="241.90" x2="492.30" y2="318.50" stroke="#555" stroke-width="1" />
<line x1="491.90" y1="318.10" x2="628.80" y2="318.10" stroke="#555" stroke-width="1" />
<line x1="489.30" y1="318.10" x2="492.30" y2="318.10" stroke="#555" stroke-width="1" />
<text x="488.30" y="322.00" font-size="11" text-anchor="end" fill="#000" >0</text>
<line x1="489.30" y1="299.05" x2="492.30" y2="299.05" stroke="#555" stroke-width="1" />
<text x="488.30" y="302.95" font-size="11" text-anchor="end" fill="#000" >25</text>
<line x1="489.30" y1="280.00" x2="492.30" y2="280.00" stroke="#555" stroke-width="1" />
<text x="488.30" y="283.90" font-size="11" text-anchor="end" fill="#000" >50</text>
<line x1="489.30" y1="260.95" x2="492.30" y2="260.95" stroke="#555" stroke-width="1" />
<text x="488.30" y="264.85" font-size="11" text-anchor="end" fill="#000" >75</text>
<line x1="489.30" y1="241.90" x2="492.30" y2="241.90" stroke="#555" stroke-width="1" />
<text x="488.30" y="245.80" font-size="11" text-anchor="end" fill="#000" >100</text>
<line x1="492.30" y1="318.10" x2="492.30" y2="321.10" stroke="#555" stroke-width="1" />
<text x="493.50" y="325.30" font-size="11" text-anchor="end" fill="#000" transform="rotate(-45 493.50 325.30)" dominant-baseline="central">0</text>
<line x1="537.80" y1="318.10" x2="537.80" y2="321.10" stroke="#555" stroke-width="1" />
<text x="539.00" y="325.30" font-size="11" text-anchor="end" fill="#000" transform="rotate(-45 539.00 325.30)" dominant-baseline="central">28</text>
<line x1="583.30" y1="318.10" x2="583.30" y2="321.10" stroke="#555" stroke-width="1" />
<text x="584.50" y="325.30" font-size="11" text-anchor="end" fill="#000" transform="rotate(-45 584.50 325.30)" dominant-baseline="central">56</text>
<line x1="628.80" y1="318.10" x2="628.80" y2="321.10" stroke="#555" stroke-width="1" />
<text x="630.00" y="325.30" font-size="11" text-anchor="end" fill="#000" transform="rotate(-45 630.00 325.30)" dominant-baseline="central">84</text>
<text x="560.60" y="350.60" font-size="10.2" text-anchor="middle" fill="#000" >Time in Days</text>
<text x="473.50" y="284.40" font-size="10.2" text-anchor="middle" fill="#000" transform="rotate(-90 473.50 284.40)" >Survival %</text>
<path d="M492.3 241.9 H628.8" fill="none" stroke="#2626e8" stroke-width="1.3" />
<path d="M492.3 241.9 H571.7 V251.6 H606.0 V264.7 H628.8 V318.1" fill="none" stroke="#90e2f5" stroke-width="1.3" />
<path d="M492.3 241.9 H548.9 V247.4 H560.6 V254.3 H571.7 V265.2 H583.4 V282.6 H594.6 V318.1" fill="none" stroke="#3a64a8" stroke-width="1.3" />
<path d="M492.3 241.9 H571.7 V254.8 H594.6 V286.6 H606.0 V318.1" fill="none" stroke="#f39a2e" stroke-width="1.3" />
<line x1="583.40" y1="249.80" x2="583.40" y2="253.20" stroke="#888" stroke-width="0.6" />
<line x1="594.60" y1="249.80" x2="594.60" y2="253.20" stroke="#888" stroke-width="0.6" />
<text transform="translate(442.60,360.50) scale(1.06,1)" font-size="21.5" stroke="#000" stroke-width="0.15">e</text>
<line x1="527.90" y1="365.50" x2="537.00" y2="365.50" stroke="#f39a2e" stroke-width="1.2" />
<rect x="530.25" y="363.30" width="4.40" height="4.40" fill="#f39a2e" stroke="none" stroke-width="1" />
<text x="540.40" y="371.40" font-size="10.8" text-anchor="start" fill="#000"><tspan>NTP</tspan><tspan dy="-3.60" font-size="8.0" style="stroke-width:0.06px">PROTAC+Scram</tspan></text>
<line x1="527.90" y1="377.40" x2="537.00" y2="377.40" stroke="#3a64a8" stroke-width="1.2" />
<path d="M530.0500000000001 379.2 L532.45 375.0 L534.85 379.2Z" fill="#3a64a8" stroke="none" stroke-width="1" />
<text x="540.40" y="383.70" font-size="10.8" text-anchor="start" fill="#000"><tspan>NTP</tspan><tspan dy="-3.60" font-size="8.0" style="stroke-width:0.06px">PROTAC+shFOXO4</tspan></text>
<line x1="527.90" y1="391.00" x2="537.00" y2="391.00" stroke="#2626e8" stroke-width="1.2" />
<path d="M530.0500000000001 389.2 L532.45 393.4 L534.85 389.2Z" fill="#000" stroke="none" stroke-width="1" />
<text x="540.40" y="397.00" font-size="10.8" text-anchor="start" fill="#000"><tspan>AKT3</tspan><tspan dy="-3.60" font-size="8.0" style="stroke-width:0.06px">PROTAC+Scram</tspan></text>
<line x1="527.90" y1="404.70" x2="537.00" y2="404.70" stroke="#90e2f5" stroke-width="1.2" />
<circle cx="532.45" cy="404.70" r="1.50" fill="#000" stroke="none" stroke-width="1" />
<text x="540.40" y="409.90" font-size="10.8" text-anchor="start" fill="#000"><tspan>AKT3</tspan><tspan dy="-3.60" font-size="8.0" style="stroke-width:0.06px">PROTAC+shFOXO4</tspan></text>
<line x1="490.10" y1="370.40" x2="490.10" y2="470.40" stroke="#555" stroke-width="1" />
<line x1="489.70" y1="470.00" x2="642.50" y2="470.00" stroke="#555" stroke-width="1" />
<line x1="487.10" y1="470.00" x2="490.10" y2="470.00" stroke="#555" stroke-width="1" />
<text x="485.90" y="474.00" font-size="11.2" text-anchor="end" fill="#000" >0</text>
<line x1="487.10" y1="450.08" x2="490.10" y2="450.08" stroke="#555" stroke-width="1" />
<text x="485.90" y="454.08" font-size="11.2" text-anchor="end" fill="#000" >5</text>
<line x1="487.10" y1="430.16" x2="490.10" y2="430.16" stroke="#555" stroke-width="1" />
<text x="485.90" y="434.16" font-size="11.2" text-anchor="end" fill="#000" >10</text>
<line x1="487.10" y1="410.24" x2="490.10" y2="410.24" stroke="#555" stroke-width="1" />
<text x="485.90" y="414.24" font-size="11.2" text-anchor="end" fill="#000" >15</text>
<line x1="487.10" y1="390.32" x2="490.10" y2="390.32" stroke="#555" stroke-width="1" />
<text x="485.90" y="394.32" font-size="11.2" text-anchor="end" fill="#000" >20</text>
<line x1="487.10" y1="370.40" x2="490.10" y2="370.40" stroke="#555" stroke-width="1" />
<text x="485.90" y="374.40" font-size="11.2" text-anchor="end" fill="#000" >25</text>
<line x1="490.10" y1="470.00" x2="490.10" y2="473.00" stroke="#555" stroke-width="1" />
<text x="490.10" y="485.00" font-size="11.2" text-anchor="middle" fill="#000" >0</text>
<line x1="515.50" y1="470.00" x2="515.50" y2="473.00" stroke="#555" stroke-width="1" />
<text x="515.50" y="485.00" font-size="11.2" text-anchor="middle" fill="#000" >14</text>
<line x1="540.90" y1="470.00" x2="540.90" y2="473.00" stroke="#555" stroke-width="1" />
<text x="540.90" y="485.00" font-size="11.2" text-anchor="middle" fill="#000" >28</text>
<line x1="566.30" y1="470.00" x2="566.30" y2="473.00" stroke="#555" stroke-width="1" />
<text x="566.30" y="485.00" font-size="11.2" text-anchor="middle" fill="#000" >42</text>
<line x1="591.70" y1="470.00" x2="591.70" y2="473.00" stroke="#555" stroke-width="1" />
<text x="591.70" y="485.00" font-size="11.2" text-anchor="middle" fill="#000" >56</text>
<line x1="617.10" y1="470.00" x2="617.10" y2="473.00" stroke="#555" stroke-width="1" />
<text x="617.10" y="485.00" font-size="11.2" text-anchor="middle" fill="#000" >70</text>
<line x1="642.50" y1="470.00" x2="642.50" y2="473.00" stroke="#555" stroke-width="1" />
<text x="642.50" y="485.00" font-size="11.2" text-anchor="middle" fill="#000" >84</text>
<text x="566.50" y="499.00" font-size="10.8" text-anchor="middle" fill="#000" >Time in Days</text>
<text x="470.60" y="423.90" font-size="11.1" text-anchor="middle" fill="#000" transform="rotate(-90 470.60 423.90)" >% CAR T-cells in blood</text>
<line x1="502.80" y1="454.06" x2="502.80" y2="421.00" stroke="#777" stroke-width="0.7" />
<line x1="501.20" y1="454.06" x2="504.40" y2="454.06" stroke="#777" stroke-width="0.7" />
<line x1="501.20" y1="421.00" x2="504.40" y2="421.00" stroke="#777" stroke-width="0.7" />
<line x1="515.50" y1="439.32" x2="515.50" y2="376.38" stroke="#777" stroke-width="0.7" />
<line x1="513.90" y1="439.32" x2="517.10" y2="439.32" stroke="#777" stroke-width="0.7" />
<line x1="513.90" y1="376.38" x2="517.10" y2="376.38" stroke="#777" stroke-width="0.7" />
<line x1="540.90" y1="453.27" x2="540.90" y2="425.38" stroke="#777" stroke-width="0.7" />
<line x1="539.30" y1="453.27" x2="542.50" y2="453.27" stroke="#777" stroke-width="0.7" />
<line x1="539.30" y1="425.38" x2="542.50" y2="425.38" stroke="#777" stroke-width="0.7" />
<line x1="591.70" y1="448.88" x2="591.70" y2="442.91" stroke="#777" stroke-width="0.7" />
<line x1="590.10" y1="448.88" x2="593.30" y2="448.88" stroke="#777" stroke-width="0.7" />
<line x1="590.10" y1="442.91" x2="593.30" y2="442.91" stroke="#777" stroke-width="0.7" />
<line x1="642.50" y1="462.03" x2="642.50" y2="454.06" stroke="#777" stroke-width="0.7" />
<line x1="640.90" y1="462.03" x2="644.10" y2="462.03" stroke="#777" stroke-width="0.7" />
<line x1="640.90" y1="454.06" x2="644.10" y2="454.06" stroke="#777" stroke-width="0.7" />
<line x1="540.90" y1="462.03" x2="540.90" y2="454.06" stroke="#777" stroke-width="0.7" />
<line x1="539.30" y1="462.03" x2="542.50" y2="462.03" stroke="#777" stroke-width="0.7" />
<line x1="539.30" y1="454.06" x2="542.50" y2="454.06" stroke="#777" stroke-width="0.7" />
<line x1="591.70" y1="469.20" x2="591.70" y2="462.03" stroke="#777" stroke-width="0.7" />
<line x1="590.10" y1="469.20" x2="593.30" y2="469.20" stroke="#777" stroke-width="0.7" />
<line x1="590.10" y1="462.03" x2="593.30" y2="462.03" stroke="#777" stroke-width="0.7" />
<line x1="591.70" y1="460.04" x2="591.70" y2="452.07" stroke="#777" stroke-width="0.7" />
<line x1="590.10" y1="460.04" x2="593.30" y2="460.04" stroke="#777" stroke-width="0.7" />
<line x1="590.10" y1="452.07" x2="593.30" y2="452.07" stroke="#777" stroke-width="0.7" />
<path d="M502.80 441.32 L515.50 417.81 L540.90 438.13 L591.70 457.65" fill="none" stroke="#90e2f5" stroke-width="1.4" stroke-linejoin="round"/>
<path d="M502.80 444.50 L515.50 426.97 L540.90 464.82 L591.70 469.60" fill="none" stroke="#3a64a8" stroke-width="1.6" stroke-linejoin="round"/>
<path d="M502.80 445.70 L515.50 405.86 L540.90 458.45 L591.70 467.21" fill="none" stroke="#f39a2e" stroke-width="1.6" stroke-linejoin="round"/>
<path d="M502.80 433.35 L515.50 394.30 L540.90 436.93 L591.70 446.89 L642.50 458.05" fill="none" stroke="#2626e8" stroke-width="1.6" stroke-linejoin="round"/>
<rect x="500.20" y="443.10" width="5.20" height="5.20" fill="#f39a2e" stroke="none" stroke-width="1" />
<rect x="512.90" y="403.26" width="5.20" height="5.20" fill="#f39a2e" stroke="none" stroke-width="1" />
<rect x="538.30" y="455.85" width="5.20" height="5.20" fill="#f39a2e" stroke="none" stroke-width="1" />
<rect x="589.10" y="464.61" width="5.20" height="5.20" fill="#f39a2e" stroke="none" stroke-width="1" />
<path d="M500.10 446.60 L502.80 441.80 L505.50 446.60Z" fill="#3a64a8" stroke="none" stroke-width="1" />
<path d="M512.80 429.07 L515.50 424.27 L518.20 429.07Z" fill="#3a64a8" stroke="none" stroke-width="1" />
<path d="M538.20 466.92 L540.90 462.12 L543.60 466.92Z" fill="#3a64a8" stroke="none" stroke-width="1" />
<path d="M589.00 471.70 L591.70 466.90 L594.40 471.70Z" fill="#3a64a8" stroke="none" stroke-width="1" />
<path d="M500.30 431.35 L502.80 435.85 L505.30 431.35Z" fill="#111" stroke="none" stroke-width="1" />
<path d="M513.00 392.30 L515.50 396.80 L518.00 392.30Z" fill="#111" stroke="none" stroke-width="1" />
<path d="M538.40 434.93 L540.90 439.43 L543.40 434.93Z" fill="#111" stroke="none" stroke-width="1" />
<path d="M589.20 444.89 L591.70 449.39 L594.20 444.89Z" fill="#111" stroke="none" stroke-width="1" />
<path d="M640.00 456.05 L642.50 460.55 L645.00 456.05Z" fill="#111" stroke="none" stroke-width="1" />
<circle cx="502.80" cy="441.32" r="1.50" fill="#111" stroke="none" stroke-width="1" />
<circle cx="515.50" cy="417.81" r="1.50" fill="#111" stroke="none" stroke-width="1" />
<circle cx="540.90" cy="438.13" r="1.50" fill="#111" stroke="none" stroke-width="1" />
<circle cx="591.70" cy="457.65" r="1.50" fill="#111" stroke="none" stroke-width="1" />
<path d="M594.7 446.8928 H598.7 V457.6496 H594.7" fill="none" stroke="#333" stroke-width="0.7" />
<text x="600.90" y="461.87" font-size="10.6" text-anchor="start" fill="#000" >***</text>
<text transform="translate(9.70,516.90) scale(1.06,1)" font-size="21.5" stroke="#000" stroke-width="0.15">f</text>
<text x="170.50" y="538.80" font-size="11.5" text-anchor="middle" fill="#000" >% CAR T-cells in blood</text>
<line x1="118.50" y1="553.60" x2="225.60" y2="553.60" stroke="#999" stroke-width="1" />
<line x1="118.50" y1="550.60" x2="118.50" y2="553.60" stroke="#999" stroke-width="1" />
<text x="118.50" y="549.60" font-size="11" text-anchor="end" fill="#000" transform="rotate(90 118.50 549.60)" dominant-baseline="central">0</text>
<line x1="139.82" y1="550.60" x2="139.82" y2="553.60" stroke="#999" stroke-width="1" />
<text x="139.82" y="549.60" font-size="11" text-anchor="end" fill="#000" transform="rotate(90 139.82 549.60)" dominant-baseline="central">1</text>
<line x1="161.14" y1="550.60" x2="161.14" y2="553.60" stroke="#999" stroke-width="1" />
<text x="161.14" y="549.60" font-size="11" text-anchor="end" fill="#000" transform="rotate(90 161.14 549.60)" dominant-baseline="central">2</text>
<line x1="182.46" y1="550.60" x2="182.46" y2="553.60" stroke="#999" stroke-width="1" />
<text x="182.46" y="549.60" font-size="11" text-anchor="end" fill="#000" transform="rotate(90 182.46 549.60)" dominant-baseline="central">3</text>
<line x1="203.78" y1="550.60" x2="203.78" y2="553.60" stroke="#999" stroke-width="1" />
<text x="203.78" y="549.60" font-size="11" text-anchor="end" fill="#000" transform="rotate(90 203.78 549.60)" dominant-baseline="central">4</text>
<line x1="225.10" y1="550.60" x2="225.10" y2="553.60" stroke="#999" stroke-width="1" />
<text x="225.10" y="549.60" font-size="11" text-anchor="end" fill="#000" transform="rotate(90 225.10 549.60)" dominant-baseline="central">5</text>
<line x1="118.50" y1="553.60" x2="118.50" y2="620.00" stroke="#666" stroke-width="1" />
<text x="113.90" y="569.40" font-size="11.7" text-anchor="end" fill="#000"><tspan>NTP</tspan><tspan dy="-4.20" font-size="8.9" style="stroke-width:0.06px">PROTAC+Scram</tspan></text>
<text x="113.90" y="584.20" font-size="11.7" text-anchor="end" fill="#000"><tspan>NTP</tspan><tspan dy="-4.20" font-size="8.9" style="stroke-width:0.06px">PROTAC+shFOXO4</tspan></text>
<text x="113.90" y="600.90" font-size="11.7" text-anchor="end" fill="#000"><tspan>AKT3</tspan><tspan dy="-4.20" font-size="8.9" style="stroke-width:0.06px">PROTAC+Scram</tspan></text>
<text x="113.90" y="616.80" font-size="11.7" text-anchor="end" fill="#000"><tspan>AKT3</tspan><tspan dy="-4.20" font-size="8.9" style="stroke-width:0.06px">PROTAC+shFOXO4</tspan></text>
<line x1="114.40" y1="564.30" x2="118.50" y2="564.30" stroke="#999" stroke-width="0.8" />
<circle cx="118.50" cy="564.30" r="1.70" fill="#000" stroke="none" stroke-width="1" />
<line x1="114.40" y1="579.90" x2="118.50" y2="579.90" stroke="#999" stroke-width="0.8" />
<circle cx="118.50" cy="579.90" r="1.70" fill="#000" stroke="none" stroke-width="1" />
<line x1="114.40" y1="611.50" x2="118.50" y2="611.50" stroke="#999" stroke-width="0.8" />
<circle cx="118.50" cy="611.50" r="1.70" fill="#000" stroke="none" stroke-width="1" />
<line x1="114.40" y1="596.00" x2="118.50" y2="596.00" stroke="#bbb" stroke-width="0.8" />
<text x="124.10" y="567.00" font-size="10" text-anchor="start" fill="#000" >ND</text>
<text x="124.10" y="582.00" font-size="10" text-anchor="start" fill="#000" >ND</text>
<text x="124.10" y="613.10" font-size="10" text-anchor="start" fill="#000" >ND</text>
<rect x="118.50" y="591.10" width="64.60" height="9.70" fill="#5566ee" stroke="#2a2a80" stroke-width="0.6" />
<circle cx="161.40" cy="593.10" r="2.10" fill="none" stroke="#222" stroke-width="0.8" />
<circle cx="161.40" cy="598.70" r="2.10" fill="none" stroke="#222" stroke-width="0.8" />
<circle cx="204.40" cy="593.10" r="2.10" fill="none" stroke="#222" stroke-width="0.8" />
<circle cx="204.40" cy="598.70" r="2.10" fill="none" stroke="#222" stroke-width="0.8" />
<line x1="173.40" y1="596.00" x2="192.20" y2="596.00" stroke="#555" stroke-width="0.8" />
<line x1="173.40" y1="593.60" x2="173.40" y2="598.40" stroke="#555" stroke-width="0.8" />
<line x1="192.20" y1="593.60" x2="192.20" y2="598.40" stroke="#555" stroke-width="0.8" />
<path d="M180.6 596 L183.1 593.2 L185.6 596 L183.1 598.8Z" fill="none" stroke="#222" stroke-width="0.8" />
<text transform="translate(247.40,519.90) scale(1.06,1)" font-size="21.5" stroke="#000" stroke-width="0.15">g</text>
<line x1="306.00" y1="507.50" x2="315.70" y2="507.50" stroke="#f3c96b" stroke-width="1.1" />
<circle cx="310.90" cy="507.50" r="2.30" fill="#f3c96b" stroke="#333" stroke-width="0.6" />
<text x="321.20" y="514.30" font-size="12.0" text-anchor="start" fill="#000"><tspan>NTP</tspan><tspan dy="-4.60" font-size="9.2" style="stroke-width:0.06px">PROTAC+Scram</tspan></text>
<line x1="306.00" y1="520.30" x2="315.70" y2="520.30" stroke="#2d5797" stroke-width="1.1" />
<circle cx="310.90" cy="520.30" r="2.30" fill="#2d5797" stroke="#333" stroke-width="0.6" />
<text x="321.20" y="526.30" font-size="12.0" text-anchor="start" fill="#000"><tspan>NTP</tspan><tspan dy="-4.60" font-size="9.2" style="stroke-width:0.06px">PROTAC+shFOXO4</tspan></text>
<line x1="306.00" y1="532.80" x2="315.70" y2="532.80" stroke="#2020d8" stroke-width="1.1" />
<circle cx="310.90" cy="532.80" r="2.30" fill="#2020d8" stroke="#333" stroke-width="0.6" />
<text x="321.20" y="538.40" font-size="12.0" text-anchor="start" fill="#000"><tspan>AKT3</tspan><tspan dy="-4.60" font-size="9.2" style="stroke-width:0.06px">PROTAC+Scram</tspan></text>
<line x1="306.00" y1="544.40" x2="315.70" y2="544.40" stroke="#9ce4f4" stroke-width="1.1" />
<circle cx="310.90" cy="544.40" r="2.30" fill="#9ce4f4" stroke="#333" stroke-width="0.6" />
<text x="321.20" y="549.90" font-size="12.0" text-anchor="start" fill="#000"><tspan>AKT3</tspan><tspan dy="-4.60" font-size="9.2" style="stroke-width:0.06px">PROTAC+shFOXO4</tspan></text>
<line x1="299.70" y1="529.40" x2="299.70" y2="642.00" stroke="#888" stroke-width="1" />
<line x1="299.30" y1="641.60" x2="412.30" y2="641.60" stroke="#888" stroke-width="1" />
<line x1="296.50" y1="641.60" x2="299.70" y2="641.60" stroke="#888" stroke-width="1" />
<text x="294.70" y="645.80" font-size="11.8" text-anchor="end" fill="#000" >0</text>
<line x1="296.50" y1="613.55" x2="299.70" y2="613.55" stroke="#888" stroke-width="1" />
<text x="294.70" y="617.75" font-size="11.8" text-anchor="end" fill="#000" >10</text>
<line x1="296.50" y1="585.50" x2="299.70" y2="585.50" stroke="#888" stroke-width="1" />
<text x="294.70" y="589.70" font-size="11.8" text-anchor="end" fill="#000" >20</text>
<line x1="296.50" y1="557.45" x2="299.70" y2="557.45" stroke="#888" stroke-width="1" />
<text x="294.70" y="561.65" font-size="11.8" text-anchor="end" fill="#000" >30</text>
<line x1="296.50" y1="529.40" x2="299.70" y2="529.40" stroke="#888" stroke-width="1" />
<text x="294.70" y="533.60" font-size="11.8" text-anchor="end" fill="#000" >40</text>
<line x1="318.30" y1="641.60" x2="318.30" y2="644.60" stroke="#888" stroke-width="1" />
<text x="321.30" y="654.10" font-size="12.4" text-anchor="end" fill="#000" transform="rotate(-45 321.30 654.10)" >Day 14</text>
<line x1="355.90" y1="641.60" x2="355.90" y2="644.60" stroke="#888" stroke-width="1" />
<text x="358.90" y="654.10" font-size="12.4" text-anchor="end" fill="#000" transform="rotate(-45 358.90 654.10)" >Day 28</text>
<line x1="393.40" y1="641.60" x2="393.40" y2="644.60" stroke="#888" stroke-width="1" />
<text x="396.40" y="654.10" font-size="12.4" text-anchor="end" fill="#000" transform="rotate(-45 396.40 654.10)" >Day 56</text>
<text x="279.2" y="588.2" font-size="12.4" text-anchor="middle" transform="rotate(-90 279.2 588.2)">Raji cells 1x10<tspan dy="-4.5" font-size="8.4">1</tspan><tspan dy="4.5" fill="#1e2f66" style="stroke:#1e2f66"> (µl of blood)</tspan></text>
<line x1="393.40" y1="551.70" x2="393.40" y2="577.40" stroke="#444" stroke-width="0.8" />
<line x1="391.20" y1="551.70" x2="395.60" y2="551.70" stroke="#444" stroke-width="0.8" />
<line x1="391.20" y1="577.40" x2="395.60" y2="577.40" stroke="#444" stroke-width="0.8" />
<line x1="393.40" y1="594.60" x2="393.40" y2="607.80" stroke="#444" stroke-width="0.8" />
<line x1="391.20" y1="594.60" x2="395.60" y2="594.60" stroke="#444" stroke-width="0.8" />
<line x1="391.20" y1="607.80" x2="395.60" y2="607.80" stroke="#444" stroke-width="0.8" />
<line x1="393.40" y1="612.80" x2="393.40" y2="626.40" stroke="#444" stroke-width="0.8" />
<line x1="391.20" y1="612.80" x2="395.60" y2="612.80" stroke="#444" stroke-width="0.8" />
<line x1="391.20" y1="626.40" x2="395.60" y2="626.40" stroke="#444" stroke-width="0.8" />
<path d="M318.30 641.60 L355.90 641.60 L393.40 641.60" fill="none" stroke="#6a88c8" stroke-width="2.2" stroke-linejoin="round"/>
<path d="M318.30 641.32 L355.90 640.48 L393.40 617.10" fill="none" stroke="#9ce4f4" stroke-width="1.1" stroke-linejoin="round"/>
<path d="M318.30 640.90 L355.90 639.92 L393.40 604.00" fill="none" stroke="#f3c96b" stroke-width="1.1" stroke-linejoin="round"/>
<path d="M318.30 639.64 L355.90 637.11 L393.40 564.50" fill="none" stroke="#2d5797" stroke-width="1.2" stroke-linejoin="round"/>
<circle cx="318.30" cy="641.60" r="2.40" fill="#2020d8" stroke="#222" stroke-width="0.6" />
<circle cx="355.90" cy="641.60" r="2.40" fill="#2020d8" stroke="#222" stroke-width="0.6" />
<circle cx="393.40" cy="641.60" r="2.40" fill="#2020d8" stroke="#222" stroke-width="0.6" />
<circle cx="318.30" cy="639.64" r="2.40" fill="#2d5797" stroke="#222" stroke-width="0.6" />
<circle cx="355.90" cy="637.11" r="2.40" fill="#2d5797" stroke="#222" stroke-width="0.6" />
<circle cx="393.40" cy="564.50" r="2.40" fill="#2d5797" stroke="#222" stroke-width="0.6" />
<circle cx="318.30" cy="641.32" r="2.40" fill="#9ce4f4" stroke="#222" stroke-width="0.6" />
<circle cx="355.90" cy="640.48" r="2.40" fill="#9ce4f4" stroke="#222" stroke-width="0.6" />
<circle cx="393.40" cy="617.10" r="2.40" fill="#9ce4f4" stroke="#222" stroke-width="0.6" />
<circle cx="318.30" cy="640.90" r="2.40" fill="#f3c96b" stroke="#222" stroke-width="0.6" />
<circle cx="355.90" cy="639.92" r="2.40" fill="#f3c96b" stroke="#222" stroke-width="0.6" />
<circle cx="393.40" cy="604.00" r="2.40" fill="#f3c96b" stroke="#222" stroke-width="0.6" />
<path d="M397.6 617.1 H401.6 V641.3 H397.6" fill="none" stroke="#444" stroke-width="0.7" />
<text x="404.60" y="627.50" font-size="11" text-anchor="middle" fill="#000" transform="rotate(90 404.60 627.50)" dominant-baseline="central">****</text>
<text transform="translate(456.60,525.60) scale(1.06,1)" font-size="21.5" stroke="#000" stroke-width="0.15">h</text>
<text x="603.50" y="563.80" font-size="10.6" text-anchor="middle" fill="#000" >% CD8 T cells</text>
<line x1="549.50" y1="586.40" x2="667.40" y2="586.40" stroke="#666" stroke-width="1" />
<line x1="549.50" y1="583.40" x2="549.50" y2="586.40" stroke="#666" stroke-width="1" />
<text x="549.50" y="582.80" font-size="11" text-anchor="end" fill="#000" transform="rotate(90 549.50 582.80)" dominant-baseline="central">0</text>
<line x1="578.98" y1="583.40" x2="578.98" y2="586.40" stroke="#666" stroke-width="1" />
<text x="578.98" y="582.80" font-size="11" text-anchor="end" fill="#000" transform="rotate(90 578.98 582.80)" dominant-baseline="central">30</text>
<line x1="608.45" y1="583.40" x2="608.45" y2="586.40" stroke="#666" stroke-width="1" />
<text x="608.45" y="582.80" font-size="11" text-anchor="end" fill="#000" transform="rotate(90 608.45 582.80)" dominant-baseline="central">60</text>
<line x1="637.92" y1="583.40" x2="637.92" y2="586.40" stroke="#666" stroke-width="1" />
<text x="637.92" y="582.80" font-size="11" text-anchor="end" fill="#000" transform="rotate(90 637.92 582.80)" dominant-baseline="central">90</text>
<line x1="667.40" y1="583.40" x2="667.40" y2="586.40" stroke="#666" stroke-width="1" />
<text x="667.40" y="582.80" font-size="11" text-anchor="end" fill="#000" transform="rotate(90 667.40 582.80)" dominant-baseline="central">120</text>
<line x1="549.50" y1="586.40" x2="549.50" y2="648.40" stroke="#444" stroke-width="1" />
<rect x="549.50" y="590.20" width="32.82" height="11.00" fill="#4b9ef7" stroke="#333" stroke-width="0.5" />
<rect x="582.32" y="590.20" width="50.70" height="11.00" fill="#f655b8" stroke="#333" stroke-width="0.5" />
<rect x="633.01" y="590.20" width="5.89" height="11.00" fill="#82d8c6" stroke="#333" stroke-width="0.5" />
<rect x="638.91" y="590.20" width="8.84" height="11.00" fill="#3f4db0" stroke="#333" stroke-width="0.5" />
<line x1="582.32" y1="595.70" x2="585.32" y2="595.70" stroke="#444" stroke-width="0.7" />
<line x1="585.32" y1="593.70" x2="585.32" y2="597.70" stroke="#444" stroke-width="0.7" />
<line x1="633.01" y1="595.70" x2="636.01" y2="595.70" stroke="#444" stroke-width="0.7" />
<line x1="636.01" y1="593.70" x2="636.01" y2="597.70" stroke="#444" stroke-width="0.7" />
<line x1="638.91" y1="595.70" x2="641.91" y2="595.70" stroke="#444" stroke-width="0.7" />
<line x1="641.91" y1="593.70" x2="641.91" y2="597.70" stroke="#444" stroke-width="0.7" />
<line x1="647.75" y1="595.70" x2="650.70" y2="595.70" stroke="#888" stroke-width="0.7" />
<line x1="650.70" y1="593.70" x2="650.70" y2="597.70" stroke="#888" stroke-width="0.7" />
<rect x="549.50" y="605.50" width="19.06" height="11.00" fill="#4b9ef7" stroke="#333" stroke-width="0.5" />
<rect x="568.56" y="605.50" width="62.00" height="11.00" fill="#f655b8" stroke="#333" stroke-width="0.5" />
<rect x="630.56" y="605.50" width="2.46" height="11.00" fill="#82d8c6" stroke="#333" stroke-width="0.5" />
<rect x="633.01" y="605.50" width="14.74" height="11.00" fill="#3f4db0" stroke="#333" stroke-width="0.5" />
<line x1="568.56" y1="611.00" x2="571.56" y2="611.00" stroke="#444" stroke-width="0.7" />
<line x1="571.56" y1="609.00" x2="571.56" y2="613.00" stroke="#444" stroke-width="0.7" />
<line x1="630.56" y1="611.00" x2="633.56" y2="611.00" stroke="#444" stroke-width="0.7" />
<line x1="633.56" y1="609.00" x2="633.56" y2="613.00" stroke="#444" stroke-width="0.7" />
<line x1="633.01" y1="611.00" x2="636.01" y2="611.00" stroke="#444" stroke-width="0.7" />
<line x1="636.01" y1="609.00" x2="636.01" y2="613.00" stroke="#444" stroke-width="0.7" />
<line x1="647.75" y1="611.00" x2="650.70" y2="611.00" stroke="#888" stroke-width="0.7" />
<line x1="650.70" y1="609.00" x2="650.70" y2="613.00" stroke="#888" stroke-width="0.7" />
<rect x="549.50" y="620.70" width="64.84" height="11.00" fill="#4b9ef7" stroke="#333" stroke-width="0.5" />
<rect x="614.35" y="620.70" width="14.05" height="11.00" fill="#f655b8" stroke="#333" stroke-width="0.5" />
<rect x="628.39" y="620.70" width="16.31" height="11.00" fill="#82d8c6" stroke="#333" stroke-width="0.5" />
<rect x="644.70" y="620.70" width="3.05" height="11.00" fill="#3f4db0" stroke="#333" stroke-width="0.5" />
<line x1="614.35" y1="626.20" x2="617.35" y2="626.20" stroke="#444" stroke-width="0.7" />
<line x1="617.35" y1="624.20" x2="617.35" y2="628.20" stroke="#444" stroke-width="0.7" />
<line x1="628.39" y1="626.20" x2="631.39" y2="626.20" stroke="#444" stroke-width="0.7" />
<line x1="631.39" y1="624.20" x2="631.39" y2="628.20" stroke="#444" stroke-width="0.7" />
<line x1="644.70" y1="626.20" x2="647.70" y2="626.20" stroke="#444" stroke-width="0.7" />
<line x1="647.70" y1="624.20" x2="647.70" y2="628.20" stroke="#444" stroke-width="0.7" />
<line x1="647.75" y1="626.20" x2="650.70" y2="626.20" stroke="#888" stroke-width="0.7" />
<line x1="650.70" y1="624.20" x2="650.70" y2="628.20" stroke="#888" stroke-width="0.7" />
<rect x="549.50" y="635.70" width="29.67" height="11.00" fill="#4b9ef7" stroke="#333" stroke-width="0.5" />
<rect x="579.17" y="635.70" width="52.47" height="11.00" fill="#f655b8" stroke="#333" stroke-width="0.5" />
<rect x="631.64" y="635.70" width="7.27" height="11.00" fill="#82d8c6" stroke="#333" stroke-width="0.5" />
<rect x="638.91" y="635.70" width="8.84" height="11.00" fill="#3f4db0" stroke="#333" stroke-width="0.5" />
<line x1="579.17" y1="641.20" x2="582.17" y2="641.20" stroke="#444" stroke-width="0.7" />
<line x1="582.17" y1="639.20" x2="582.17" y2="643.20" stroke="#444" stroke-width="0.7" />
<line x1="631.64" y1="641.20" x2="634.64" y2="641.20" stroke="#444" stroke-width="0.7" />
<line x1="634.64" y1="639.20" x2="634.64" y2="643.20" stroke="#444" stroke-width="0.7" />
<line x1="638.91" y1="641.20" x2="641.91" y2="641.20" stroke="#444" stroke-width="0.7" />
<line x1="641.91" y1="639.20" x2="641.91" y2="643.20" stroke="#444" stroke-width="0.7" />
<line x1="647.75" y1="641.20" x2="650.70" y2="641.20" stroke="#888" stroke-width="0.7" />
<line x1="650.70" y1="639.20" x2="650.70" y2="643.20" stroke="#888" stroke-width="0.7" />
<line x1="547.30" y1="595.70" x2="549.50" y2="595.70" stroke="#444" stroke-width="0.8" />
<line x1="547.30" y1="611.00" x2="549.50" y2="611.00" stroke="#444" stroke-width="0.8" />
<line x1="547.30" y1="626.20" x2="549.50" y2="626.20" stroke="#444" stroke-width="0.8" />
<line x1="547.30" y1="641.20" x2="549.50" y2="641.20" stroke="#444" stroke-width="0.8" />
<path d="M652.2 595.1 H655.4 V611.0 H652.2" fill="none" stroke="#444" stroke-width="0.7" />
<text x="658.60" y="603.05" font-size="10" text-anchor="middle" fill="#000" transform="rotate(90 658.60 603.05)" dominant-baseline="central">****</text>
<path d="M652.2 625.6 H655.4 V641.4 H652.2" fill="none" stroke="#444" stroke-width="0.7" />
<text x="658.60" y="633.50" font-size="10" text-anchor="middle" fill="#000" transform="rotate(90 658.60 633.50)" dominant-baseline="central">****</text>
<text x="540.80" y="599.40" font-size="11" text-anchor="end" fill="#000" transform="rotate(45 540.80 599.40)"><tspan>NTP</tspan><tspan dy="-3.80" font-size="8.2" style="stroke-width:0.06px">PROTAC+Scram</tspan></text>
<text x="540.80" y="614.80" font-size="11" text-anchor="end" fill="#000" transform="rotate(45 540.80 614.80)"><tspan>NTP</tspan><tspan dy="-3.80" font-size="8.2" style="stroke-width:0.06px">PROTAC+shFOXO4</tspan></text>
<text x="540.80" y="629.60" font-size="11" text-anchor="end" fill="#000" transform="rotate(45 540.80 629.60)"><tspan>AKT3</tspan><tspan dy="-3.80" font-size="8.2" style="stroke-width:0.06px">PROTAC+Scram</tspan></text>
<text x="540.80" y="644.80" font-size="11" text-anchor="end" fill="#000" transform="rotate(45 540.80 644.80)"><tspan>AKT3</tspan><tspan dy="-3.80" font-size="8.2" style="stroke-width:0.06px">PROTAC+shFOXO4</tspan></text>
<path d="M491.75 710.50 L491.75 690.50 A20.0 20.0 0 0 1 509.07 720.50Z" fill="#4ea2fa" stroke="#777" stroke-width="0.35" />
<path d="M487.93 714.36 L504.87 725.36 A20.2 20.2 0 0 1 470.44 704.26Z" fill="#f75fbb" stroke="#777" stroke-width="0.35" />
<path d="M486.59 709.36 L470.30 699.57 A19.0 19.0 0 0 1 474.12 695.02Z" fill="#3f9a8a" stroke="#777" stroke-width="0.35" />
<path d="M487.96 707.46 L476.83 692.69 A18.5 18.5 0 0 1 487.32 688.98Z" fill="#1c1ca0" stroke="#777" stroke-width="0.35" />
<path d="M559.09 711.22 L559.09 692.02 A19.2 19.2 0 0 1 577.35 705.29Z" fill="#4ea2fa" stroke="#777" stroke-width="0.35" />
<path d="M557.67 714.19 L576.77 709.78 A19.6 19.6 0 1 1 539.91 705.91Z" fill="#f75fbb" stroke="#777" stroke-width="0.35" />
<path d="M555.22 711.48 L538.73 703.08 A18.5 18.5 0 0 1 539.88 701.13Z" fill="#3f9a8a" stroke="#777" stroke-width="0.35" />
<path d="M556.39 710.35 L541.42 699.48 A18.5 18.5 0 0 1 555.75 691.86Z" fill="#1c1ca0" stroke="#777" stroke-width="0.35" />
<path d="M493.00 795.80 L493.00 773.80 A22.0 22.0 0 1 1 474.55 807.78Z" fill="#4ea2fa" stroke="#777" stroke-width="0.35" />
<path d="M489.02 796.15 L469.77 806.81 A22.0 22.0 0 0 1 468.21 788.99Z" fill="#f75fbb" stroke="#777" stroke-width="0.35" />
<path d="M492.68 795.41 L473.21 787.55 A21.0 21.0 0 0 1 488.67 774.80Z" fill="#3f9a8a" stroke="#777" stroke-width="0.35" />
<path d="M492.60 791.02 L489.05 769.81 A21.5 21.5 0 0 1 492.60 769.52Z" fill="#1c1ca0" stroke="#777" stroke-width="0.35" />
<path d="M572.55 794.04 L572.55 772.84 A21.2 21.2 0 0 1 592.71 800.59Z" fill="#4ea2fa" stroke="#777" stroke-width="0.35" />
<path d="M569.92 797.26 L589.71 805.66 A21.5 21.5 0 1 1 550.94 787.16Z" fill="#f75fbb" stroke="#777" stroke-width="0.35" />
<path d="M569.66 792.81 L552.34 782.81 A20.0 20.0 0 0 1 558.19 776.43Z" fill="#3f9a8a" stroke="#777" stroke-width="0.35" />
<path d="M570.40 790.65 L559.80 773.69 A20.0 20.0 0 0 1 570.40 770.65Z" fill="#1c1ca0" stroke="#777" stroke-width="0.35" />
<text x="469.90" y="682.50" font-size="10.2" text-anchor="start" fill="#000" >AKT3</text>
<text x="469.90" y="688.70" font-size="7.1" text-anchor="start" fill="#000" >PROTAC+Scram</text>
<text x="532.10" y="682.50" font-size="10.2" text-anchor="start" fill="#000" >AKT3</text>
<text x="532.10" y="688.70" font-size="7.1" text-anchor="start" fill="#000" >PROTAC+shFOXO4</text>
<text x="470.20" y="758.30" font-size="10.2" text-anchor="start" fill="#000" >NTP</text>
<text x="470.20" y="764.50" font-size="7.1" text-anchor="start" fill="#000" >PROTAC+Scram</text>
<text x="541.70" y="758.30" font-size="10.2" text-anchor="start" fill="#000" >NTP</text>
<text x="541.70" y="764.50" font-size="7.1" text-anchor="start" fill="#000" >PROTAC+shFOXO4</text>
<rect x="588.00" y="695.70" width="9.00" height="9.80" fill="#4ea2fa" stroke="#444" stroke-width="0.5" />
<text x="601.5" y="706.30" font-size="11">CD8 T<tspan dy="2.9" font-size="8.4">em</tspan><tspan dy="-2.9"> PD1</tspan><tspan dy="-4.6" font-size="8.4">low</tspan></text>
<rect x="588.00" y="710.80" width="9.00" height="9.80" fill="#f75fbb" stroke="#444" stroke-width="0.5" />
<text x="601.5" y="721.40" font-size="11">CD8 T<tspan dy="2.9" font-size="8.4">em</tspan><tspan dy="-2.9"> PD1</tspan><tspan dy="-4.6" font-size="8.4">high</tspan></text>
<rect x="588.00" y="725.60" width="9.00" height="9.80" fill="#3f9a8a" stroke="#444" stroke-width="0.5" />
<text x="601.5" y="736.20" font-size="11">CD8 T<tspan dy="2.9" font-size="8.4">cm</tspan><tspan dy="-2.9"> PD1</tspan><tspan dy="-4.6" font-size="8.4">low</tspan></text>
<rect x="588.00" y="740.20" width="9.00" height="9.80" fill="#1c1ca0" stroke="#444" stroke-width="0.5" />
<text x="601.5" y="750.80" font-size="11">CD8 T<tspan dy="2.9" font-size="8.4">cm</tspan><tspan dy="-2.9"> PD1</tspan><tspan dy="-4.6" font-size="8.4">high</tspan></text>
<text transform="translate(9.50,687.30) scale(1.06,1)" font-size="21.5" stroke="#000" stroke-width="0.15">i</text>
<rect x="95.00" y="755.50" width="100.60" height="71.30" fill="none" stroke="#bbb" stroke-width="0.9" />
<text x="140.40" y="733.70" font-size="12.1" text-anchor="middle" fill="#000" >ECAR (mpH/min/norm.unit)</text>
<line x1="95.50" y1="826.80" x2="95.50" y2="830.00" stroke="#bbb" stroke-width="0.8" />
<text x="95.50" y="750.90" font-size="11.2" text-anchor="end" fill="#000" transform="rotate(90 95.50 750.90)" dominant-baseline="central">0</text>
<line x1="120.40" y1="826.80" x2="120.40" y2="830.00" stroke="#bbb" stroke-width="0.8" />
<text x="120.40" y="750.90" font-size="11.2" text-anchor="end" fill="#000" transform="rotate(90 120.40 750.90)" dominant-baseline="central">10</text>
<line x1="145.50" y1="826.80" x2="145.50" y2="830.00" stroke="#bbb" stroke-width="0.8" />
<text x="145.50" y="750.90" font-size="11.2" text-anchor="end" fill="#000" transform="rotate(90 145.50 750.90)" dominant-baseline="central">20</text>
<line x1="170.80" y1="826.80" x2="170.80" y2="830.00" stroke="#bbb" stroke-width="0.8" />
<text x="170.80" y="750.90" font-size="11.2" text-anchor="end" fill="#000" transform="rotate(90 170.80 750.90)" dominant-baseline="central">30</text>
<line x1="195.60" y1="826.80" x2="195.60" y2="830.00" stroke="#bbb" stroke-width="0.8" />
<text x="195.60" y="750.90" font-size="11.2" text-anchor="end" fill="#000" transform="rotate(90 195.60 750.90)" dominant-baseline="central">40</text>
<line x1="92.00" y1="763.60" x2="95.00" y2="763.60" stroke="#bbb" stroke-width="0.8" />
<line x1="195.60" y1="763.60" x2="198.60" y2="763.60" stroke="#bbb" stroke-width="0.8" />
<circle cx="124.79" cy="766.03" r="2.50" fill="#f2a332" stroke="#6a4010" stroke-width="0.6" />
<circle cx="140.21" cy="761.89" r="2.50" fill="#f2a332" stroke="#6a4010" stroke-width="0.6" />
<circle cx="133.64" cy="763.25" r="2.50" fill="#f2a332" stroke="#6a4010" stroke-width="0.6" />
<circle cx="137.46" cy="765.62" r="2.50" fill="#f2a332" stroke="#6a4010" stroke-width="0.6" />
<circle cx="123.80" cy="760.30" r="2.50" fill="#f2a332" stroke="#6a4010" stroke-width="0.6" />
<circle cx="141.98" cy="763.13" r="2.50" fill="#f2a332" stroke="#6a4010" stroke-width="0.6" />
<circle cx="140.18" cy="760.11" r="2.50" fill="#f2a332" stroke="#6a4010" stroke-width="0.6" />
<circle cx="132.41" cy="765.15" r="2.50" fill="#f2a332" stroke="#6a4010" stroke-width="0.6" />
<circle cx="127.10" cy="766.72" r="2.50" fill="#f2a332" stroke="#6a4010" stroke-width="0.6" />
<circle cx="143.58" cy="760.31" r="2.50" fill="#f2a332" stroke="#6a4010" stroke-width="0.6" />
<circle cx="122.12" cy="763.89" r="2.50" fill="#f2a332" stroke="#6a4010" stroke-width="0.6" />
<circle cx="144.51" cy="762.77" r="2.50" fill="#f2a332" stroke="#6a4010" stroke-width="0.6" />
<circle cx="126.81" cy="763.05" r="2.50" fill="#f2a332" stroke="#6a4010" stroke-width="0.6" />
<circle cx="122.21" cy="761.65" r="2.50" fill="#f2a332" stroke="#6a4010" stroke-width="0.6" />
<line x1="92.00" y1="781.60" x2="95.00" y2="781.60" stroke="#bbb" stroke-width="0.8" />
<line x1="195.60" y1="781.60" x2="198.60" y2="781.60" stroke="#bbb" stroke-width="0.8" />
<circle cx="141.87" cy="783.84" r="2.50" fill="#4a85c0" stroke="#1c4070" stroke-width="0.6" />
<circle cx="139.17" cy="779.52" r="2.50" fill="#4a85c0" stroke="#1c4070" stroke-width="0.6" />
<circle cx="141.51" cy="782.78" r="2.50" fill="#4a85c0" stroke="#1c4070" stroke-width="0.6" />
<circle cx="150.86" cy="781.91" r="2.50" fill="#4a85c0" stroke="#1c4070" stroke-width="0.6" />
<circle cx="152.44" cy="782.33" r="2.50" fill="#4a85c0" stroke="#1c4070" stroke-width="0.6" />
<circle cx="155.51" cy="778.56" r="2.50" fill="#4a85c0" stroke="#1c4070" stroke-width="0.6" />
<circle cx="148.16" cy="783.96" r="2.50" fill="#4a85c0" stroke="#1c4070" stroke-width="0.6" />
<circle cx="151.11" cy="779.74" r="2.50" fill="#4a85c0" stroke="#1c4070" stroke-width="0.6" />
<circle cx="159.95" cy="781.39" r="2.50" fill="#4a85c0" stroke="#1c4070" stroke-width="0.6" />
<circle cx="158.04" cy="781.43" r="2.50" fill="#4a85c0" stroke="#1c4070" stroke-width="0.6" />
<circle cx="155.67" cy="779.15" r="2.50" fill="#4a85c0" stroke="#1c4070" stroke-width="0.6" />
<circle cx="155.62" cy="784.18" r="2.50" fill="#4a85c0" stroke="#1c4070" stroke-width="0.6" />
<circle cx="154.28" cy="783.29" r="2.50" fill="#4a85c0" stroke="#1c4070" stroke-width="0.6" />
<circle cx="165.81" cy="781.90" r="2.50" fill="#4a85c0" stroke="#1c4070" stroke-width="0.6" />
<circle cx="167.70" cy="781.43" r="2.50" fill="#4a85c0" stroke="#1c4070" stroke-width="0.6" />
<circle cx="166.03" cy="782.04" r="2.50" fill="#4a85c0" stroke="#1c4070" stroke-width="0.6" />
<circle cx="174.00" cy="781.60" r="2.50" fill="#4a85c0" stroke="#1c4070" stroke-width="0.6" />
<line x1="92.00" y1="799.40" x2="95.00" y2="799.40" stroke="#bbb" stroke-width="0.8" />
<line x1="195.60" y1="799.40" x2="198.60" y2="799.40" stroke="#bbb" stroke-width="0.8" />
<circle cx="112.65" cy="797.02" r="2.50" fill="#2626e6" stroke="#000030" stroke-width="0.6" />
<circle cx="113.77" cy="797.33" r="2.50" fill="#2626e6" stroke="#000030" stroke-width="0.6" />
<circle cx="111.47" cy="798.81" r="2.50" fill="#2626e6" stroke="#000030" stroke-width="0.6" />
<circle cx="117.43" cy="801.20" r="2.50" fill="#2626e6" stroke="#000030" stroke-width="0.6" />
<circle cx="116.36" cy="797.73" r="2.50" fill="#2626e6" stroke="#000030" stroke-width="0.6" />
<circle cx="114.76" cy="798.06" r="2.50" fill="#2626e6" stroke="#000030" stroke-width="0.6" />
<circle cx="112.21" cy="797.04" r="2.50" fill="#2626e6" stroke="#000030" stroke-width="0.6" />
<circle cx="112.50" cy="801.96" r="2.50" fill="#2626e6" stroke="#000030" stroke-width="0.6" />
<circle cx="116.80" cy="801.24" r="2.50" fill="#2626e6" stroke="#000030" stroke-width="0.6" />
<circle cx="125.80" cy="800.46" r="2.50" fill="#2626e6" stroke="#000030" stroke-width="0.6" />
<circle cx="126.58" cy="801.35" r="2.50" fill="#2626e6" stroke="#000030" stroke-width="0.6" />
<circle cx="126.33" cy="801.26" r="2.50" fill="#2626e6" stroke="#000030" stroke-width="0.6" />
<circle cx="123.13" cy="799.25" r="2.50" fill="#2626e6" stroke="#000030" stroke-width="0.6" />
<circle cx="127.25" cy="800.06" r="2.50" fill="#2626e6" stroke="#000030" stroke-width="0.6" />
<line x1="92.00" y1="817.00" x2="95.00" y2="817.00" stroke="#bbb" stroke-width="0.8" />
<line x1="195.60" y1="817.00" x2="198.60" y2="817.00" stroke="#bbb" stroke-width="0.8" />
<circle cx="137.07" cy="819.25" r="2.50" fill="#86e2f4" stroke="#2a6a7a" stroke-width="0.6" />
<circle cx="131.22" cy="815.33" r="2.50" fill="#86e2f4" stroke="#2a6a7a" stroke-width="0.6" />
<circle cx="122.01" cy="818.14" r="2.50" fill="#86e2f4" stroke="#2a6a7a" stroke-width="0.6" />
<circle cx="130.93" cy="818.82" r="2.50" fill="#86e2f4" stroke="#2a6a7a" stroke-width="0.6" />
<circle cx="129.09" cy="818.89" r="2.50" fill="#86e2f4" stroke="#2a6a7a" stroke-width="0.6" />
<circle cx="127.18" cy="819.11" r="2.50" fill="#86e2f4" stroke="#2a6a7a" stroke-width="0.6" />
<circle cx="135.87" cy="816.40" r="2.50" fill="#86e2f4" stroke="#2a6a7a" stroke-width="0.6" />
<circle cx="132.23" cy="818.27" r="2.50" fill="#86e2f4" stroke="#2a6a7a" stroke-width="0.6" />
<circle cx="125.67" cy="817.38" r="2.50" fill="#86e2f4" stroke="#2a6a7a" stroke-width="0.6" />
<circle cx="137.30" cy="815.36" r="2.50" fill="#86e2f4" stroke="#2a6a7a" stroke-width="0.6" />
<circle cx="137.26" cy="818.30" r="2.50" fill="#86e2f4" stroke="#2a6a7a" stroke-width="0.6" />
<circle cx="138.04" cy="815.85" r="2.50" fill="#86e2f4" stroke="#2a6a7a" stroke-width="0.6" />
<circle cx="123.77" cy="819.10" r="2.50" fill="#86e2f4" stroke="#2a6a7a" stroke-width="0.6" />
<circle cx="137.29" cy="816.62" r="2.50" fill="#86e2f4" stroke="#2a6a7a" stroke-width="0.6" />
<circle cx="123.78" cy="814.88" r="2.50" fill="#86e2f4" stroke="#2a6a7a" stroke-width="0.6" />
<circle cx="134.06" cy="815.54" r="2.50" fill="#86e2f4" stroke="#2a6a7a" stroke-width="0.6" />
<path d="M151.1 763.2 H187.3 V781.5 H181.0" fill="none" stroke="#555" stroke-width="0.8" />
<text x="190.80" y="772.45" font-size="10.8" text-anchor="middle" fill="#000" transform="rotate(90 190.80 772.45)" dominant-baseline="central">****</text>
<path d="M133.9 799.0 H151.4 V817.7 H146.0" fill="none" stroke="#555" stroke-width="0.8" />
<text x="155.90" y="808.20" font-size="10.8" text-anchor="middle" fill="#000" transform="rotate(90 155.90 808.20)" dominant-baseline="central">****</text>
<text x="83.00" y="767.50" font-size="12.0" text-anchor="end" fill="#000" transform="rotate(45 83.00 767.50)"><tspan>NTP</tspan><tspan dy="-4.44" font-size="9.2" style="stroke-width:0.06px">PROTAC+Scram</tspan></text>
<text x="83.00" y="785.30" font-size="12.0" text-anchor="end" fill="#000" transform="rotate(45 83.00 785.30)"><tspan>NTP</tspan><tspan dy="-4.44" font-size="9.2" style="stroke-width:0.06px">PROTAC+shFOXO4</tspan></text>
<text x="83.00" y="803.30" font-size="12.0" text-anchor="end" fill="#000" transform="rotate(45 83.00 803.30)"><tspan>AKT3</tspan><tspan dy="-4.44" font-size="9.2" style="stroke-width:0.06px">PROTAC+Scram</tspan></text>
<text x="83.00" y="821.00" font-size="12.0" text-anchor="end" fill="#000" transform="rotate(45 83.00 821.00)"><tspan>AKT3</tspan><tspan dy="-4.44" font-size="9.2" style="stroke-width:0.06px">PROTAC+shFOXO4</tspan></text>
<line x1="135.50" y1="758.60" x2="135.50" y2="769.20" stroke="#333" stroke-width="0.9" />
<text transform="translate(214.40,691.40) scale(1.06,1)" font-size="21.5" stroke="#000" stroke-width="0.15">j</text>
<rect x="312.60" y="750.50" width="92.50" height="64.30" fill="none" stroke="#bbb" stroke-width="0.9" />
<text x="358.70" y="721.90" font-size="11.0" text-anchor="middle" fill="#000" >OCR (pmol/min/norm.unit)</text>
<line x1="312.60" y1="814.80" x2="312.60" y2="818.00" stroke="#bbb" stroke-width="0.8" />
<text x="312.60" y="745.90" font-size="10.2" text-anchor="end" fill="#000" transform="rotate(90 312.60 745.90)" dominant-baseline="central">0</text>
<line x1="343.80" y1="814.80" x2="343.80" y2="818.00" stroke="#bbb" stroke-width="0.8" />
<text x="343.80" y="745.90" font-size="10.2" text-anchor="end" fill="#000" transform="rotate(90 343.80 745.90)" dominant-baseline="central">100</text>
<line x1="374.50" y1="814.80" x2="374.50" y2="818.00" stroke="#bbb" stroke-width="0.8" />
<text x="374.50" y="745.90" font-size="10.2" text-anchor="end" fill="#000" transform="rotate(90 374.50 745.90)" dominant-baseline="central">200</text>
<line x1="405.10" y1="814.80" x2="405.10" y2="818.00" stroke="#bbb" stroke-width="0.8" />
<text x="405.10" y="745.90" font-size="10.2" text-anchor="end" fill="#000" transform="rotate(90 405.10 745.90)" dominant-baseline="central">300</text>
<line x1="309.60" y1="757.80" x2="312.60" y2="757.80" stroke="#bbb" stroke-width="0.8" />
<line x1="405.10" y1="757.80" x2="408.10" y2="757.80" stroke="#bbb" stroke-width="0.8" />
<circle cx="362.51" cy="755.71" r="2.50" fill="#f2a332" stroke="#6a4010" stroke-width="0.6" />
<circle cx="368.07" cy="755.23" r="2.50" fill="#f2a332" stroke="#6a4010" stroke-width="0.6" />
<circle cx="366.11" cy="756.99" r="2.50" fill="#f2a332" stroke="#6a4010" stroke-width="0.6" />
<circle cx="357.99" cy="757.84" r="2.50" fill="#f2a332" stroke="#6a4010" stroke-width="0.6" />
<circle cx="357.64" cy="757.40" r="2.50" fill="#f2a332" stroke="#6a4010" stroke-width="0.6" />
<circle cx="358.19" cy="755.34" r="2.50" fill="#f2a332" stroke="#6a4010" stroke-width="0.6" />
<circle cx="364.22" cy="759.76" r="2.50" fill="#f2a332" stroke="#6a4010" stroke-width="0.6" />
<circle cx="359.10" cy="756.14" r="2.50" fill="#f2a332" stroke="#6a4010" stroke-width="0.6" />
<circle cx="367.67" cy="760.49" r="2.50" fill="#f2a332" stroke="#6a4010" stroke-width="0.6" />
<circle cx="366.81" cy="757.18" r="2.50" fill="#f2a332" stroke="#6a4010" stroke-width="0.6" />
<circle cx="373.60" cy="755.08" r="2.50" fill="#f2a332" stroke="#6a4010" stroke-width="0.6" />
<circle cx="371.59" cy="756.54" r="2.50" fill="#f2a332" stroke="#6a4010" stroke-width="0.6" />
<line x1="309.60" y1="774.50" x2="312.60" y2="774.50" stroke="#bbb" stroke-width="0.8" />
<line x1="405.10" y1="774.50" x2="408.10" y2="774.50" stroke="#bbb" stroke-width="0.8" />
<circle cx="349.95" cy="777.27" r="2.50" fill="#4a85c0" stroke="#1c4070" stroke-width="0.6" />
<circle cx="348.64" cy="775.73" r="2.50" fill="#4a85c0" stroke="#1c4070" stroke-width="0.6" />
<circle cx="348.11" cy="772.98" r="2.50" fill="#4a85c0" stroke="#1c4070" stroke-width="0.6" />
<circle cx="359.99" cy="772.76" r="2.50" fill="#4a85c0" stroke="#1c4070" stroke-width="0.6" />
<circle cx="355.34" cy="774.25" r="2.50" fill="#4a85c0" stroke="#1c4070" stroke-width="0.6" />
<circle cx="352.89" cy="774.47" r="2.50" fill="#4a85c0" stroke="#1c4070" stroke-width="0.6" />
<circle cx="349.50" cy="776.48" r="2.50" fill="#4a85c0" stroke="#1c4070" stroke-width="0.6" />
<circle cx="348.16" cy="772.91" r="2.50" fill="#4a85c0" stroke="#1c4070" stroke-width="0.6" />
<circle cx="347.26" cy="773.10" r="2.50" fill="#4a85c0" stroke="#1c4070" stroke-width="0.6" />
<circle cx="352.30" cy="776.91" r="2.50" fill="#4a85c0" stroke="#1c4070" stroke-width="0.6" />
<circle cx="351.93" cy="772.18" r="2.50" fill="#4a85c0" stroke="#1c4070" stroke-width="0.6" />
<circle cx="350.36" cy="777.45" r="2.50" fill="#4a85c0" stroke="#1c4070" stroke-width="0.6" />
<line x1="309.60" y1="791.10" x2="312.60" y2="791.10" stroke="#bbb" stroke-width="0.8" />
<line x1="405.10" y1="791.10" x2="408.10" y2="791.10" stroke="#bbb" stroke-width="0.8" />
<circle cx="380.75" cy="790.34" r="2.50" fill="#2626e6" stroke="#000030" stroke-width="0.6" />
<circle cx="376.37" cy="793.30" r="2.50" fill="#2626e6" stroke="#000030" stroke-width="0.6" />
<circle cx="374.59" cy="791.12" r="2.50" fill="#2626e6" stroke="#000030" stroke-width="0.6" />
<circle cx="386.63" cy="788.58" r="2.50" fill="#2626e6" stroke="#000030" stroke-width="0.6" />
<circle cx="381.98" cy="791.80" r="2.50" fill="#2626e6" stroke="#000030" stroke-width="0.6" />
<circle cx="375.05" cy="790.37" r="2.50" fill="#2626e6" stroke="#000030" stroke-width="0.6" />
<circle cx="384.00" cy="790.81" r="2.50" fill="#2626e6" stroke="#000030" stroke-width="0.6" />
<circle cx="384.29" cy="789.04" r="2.50" fill="#2626e6" stroke="#000030" stroke-width="0.6" />
<circle cx="377.71" cy="788.77" r="2.50" fill="#2626e6" stroke="#000030" stroke-width="0.6" />
<circle cx="381.33" cy="793.64" r="2.50" fill="#2626e6" stroke="#000030" stroke-width="0.6" />
<circle cx="382.47" cy="792.75" r="2.50" fill="#2626e6" stroke="#000030" stroke-width="0.6" />
<circle cx="379.68" cy="792.58" r="2.50" fill="#2626e6" stroke="#000030" stroke-width="0.6" />
<circle cx="395.00" cy="790.60" r="2.50" fill="#2626e6" stroke="#000030" stroke-width="0.6" />
<line x1="309.60" y1="806.90" x2="312.60" y2="806.90" stroke="#bbb" stroke-width="0.8" />
<line x1="405.10" y1="806.90" x2="408.10" y2="806.90" stroke="#bbb" stroke-width="0.8" />
<circle cx="366.50" cy="806.47" r="2.50" fill="#86e2f4" stroke="#2a6a7a" stroke-width="0.6" />
<circle cx="366.62" cy="805.14" r="2.50" fill="#86e2f4" stroke="#2a6a7a" stroke-width="0.6" />
<circle cx="370.73" cy="808.84" r="2.50" fill="#86e2f4" stroke="#2a6a7a" stroke-width="0.6" />
<circle cx="367.94" cy="804.86" r="2.50" fill="#86e2f4" stroke="#2a6a7a" stroke-width="0.6" />
<circle cx="365.61" cy="805.87" r="2.50" fill="#86e2f4" stroke="#2a6a7a" stroke-width="0.6" />
<circle cx="360.87" cy="809.62" r="2.50" fill="#86e2f4" stroke="#2a6a7a" stroke-width="0.6" />
<circle cx="373.94" cy="804.17" r="2.50" fill="#86e2f4" stroke="#2a6a7a" stroke-width="0.6" />
<circle cx="371.55" cy="807.52" r="2.50" fill="#86e2f4" stroke="#2a6a7a" stroke-width="0.6" />
<circle cx="363.18" cy="805.60" r="2.50" fill="#86e2f4" stroke="#2a6a7a" stroke-width="0.6" />
<circle cx="368.31" cy="806.64" r="2.50" fill="#86e2f4" stroke="#2a6a7a" stroke-width="0.6" />
<circle cx="368.50" cy="807.87" r="2.50" fill="#86e2f4" stroke="#2a6a7a" stroke-width="0.6" />
<circle cx="358.83" cy="808.51" r="2.50" fill="#86e2f4" stroke="#2a6a7a" stroke-width="0.6" />
<circle cx="373.69" cy="809.72" r="2.50" fill="#86e2f4" stroke="#2a6a7a" stroke-width="0.6" />
<circle cx="367.23" cy="804.17" r="2.50" fill="#86e2f4" stroke="#2a6a7a" stroke-width="0.6" />
<path d="M378.0 757.8 H381.0 V774.5 H366.2" fill="none" stroke="#555" stroke-width="0.8" />
<text x="385.50" y="767.05" font-size="10.8" text-anchor="middle" fill="#000" transform="rotate(90 385.50 767.05)" dominant-baseline="central">****</text>
<path d="M396.0 791.1 H400.2 V806.9 H378.5" fill="none" stroke="#555" stroke-width="0.8" />
<text x="403.40" y="798.95" font-size="10.8" text-anchor="middle" fill="#000" transform="rotate(90 403.40 798.95)" dominant-baseline="central">****</text>
<text x="302.50" y="762.00" font-size="11.2" text-anchor="end" fill="#000" transform="rotate(45 302.50 762.00)"><tspan>NTP</tspan><tspan dy="-4.14" font-size="8.3" style="stroke-width:0.06px">PROTAC+Scram</tspan></text>
<text x="302.50" y="778.70" font-size="11.2" text-anchor="end" fill="#000" transform="rotate(45 302.50 778.70)"><tspan>NTP</tspan><tspan dy="-4.14" font-size="8.3" style="stroke-width:0.06px">PROTAC+shFOXO4</tspan></text>
<text x="302.50" y="795.30" font-size="11.2" text-anchor="end" fill="#000" transform="rotate(45 302.50 795.30)"><tspan>AKT3</tspan><tspan dy="-4.14" font-size="8.3" style="stroke-width:0.06px">PROTAC+Scram</tspan></text>
<text x="302.50" y="811.10" font-size="11.2" text-anchor="end" fill="#000" transform="rotate(45 302.50 811.10)"><tspan>AKT3</tspan><tspan dy="-4.14" font-size="8.3" style="stroke-width:0.06px">PROTAC+shFOXO4</tspan></text>
</svg></body></html>
